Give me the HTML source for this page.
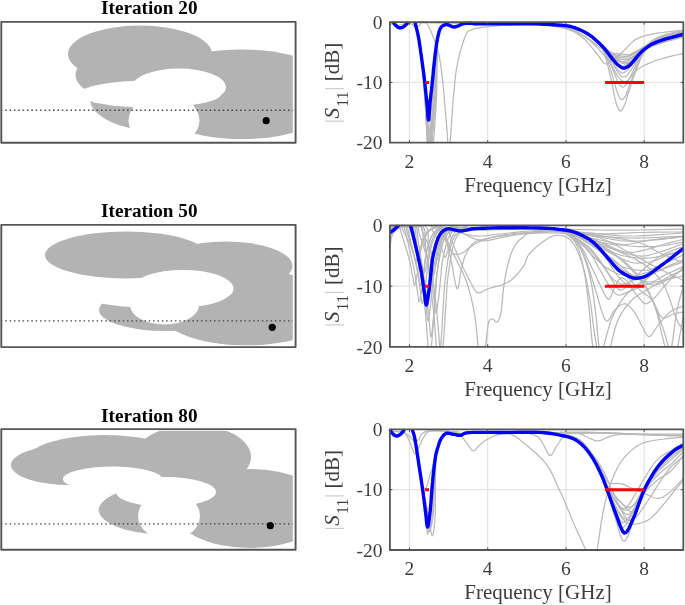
<!DOCTYPE html><html><head><meta charset="utf-8"><style>html,body{margin:0;padding:0;background:#fff;width:685px;height:605px;overflow:hidden}svg{display:block;filter:blur(0.45px)}</style></head><body>
<svg width="685" height="605" viewBox="0 0 685 605" font-family="Liberation Serif, serif">
<defs><clipPath id="lc0"><rect x="2.5" y="23.5" width="290.3" height="117.6"/></clipPath></defs>
<g clip-path="url(#lc0)">
<ellipse cx="140.0" cy="54.0" rx="72.0" ry="28.5" fill="#b3b3b3"/>
<ellipse cx="151.0" cy="75.0" rx="75.5" ry="30.0" fill="#b3b3b3"/>
<ellipse cx="242.0" cy="94.3" rx="100.0" ry="44.8" fill="#b3b3b3"/>
<ellipse cx="160.0" cy="99.0" rx="70.0" ry="32.0" fill="#b3b3b3"/>
<ellipse cx="179.0" cy="87.0" rx="47.0" ry="18.5" fill="#fff"/>
<ellipse cx="150.0" cy="94.0" rx="71.0" ry="13.5" fill="#fff"/>
<ellipse cx="164.0" cy="120.5" rx="35.5" ry="26.4" fill="#fff"/>
<line x1="0.9" y1="110.3" x2="294.6" y2="110.3" stroke="#444" stroke-width="1.4" stroke-dasharray="1.5 2.85"/>
<circle cx="266.2" cy="120.7" r="3.6" fill="#000"/>
</g>
<rect x="1.3" y="21.9" width="294.3" height="120.8" fill="none" stroke="#555" stroke-width="1.9" stroke-linejoin="round"/>
<text x="149.3" y="13.8" text-anchor="middle" font-weight="bold" font-size="19.2" fill="#000">Iteration 20</text>
<defs><clipPath id="lc1"><rect x="2.5" y="226.5" width="290.3" height="119.0"/></clipPath></defs>
<g clip-path="url(#lc1)">
<ellipse cx="126.0" cy="255.0" rx="81.0" ry="23.5" fill="#b3b3b3"/>
<ellipse cx="226.0" cy="266.0" rx="66.5" ry="24.5" fill="#b3b3b3"/>
<ellipse cx="246.0" cy="307.5" rx="90.0" ry="38.0" fill="#b3b3b3"/>
<ellipse cx="165.0" cy="310.0" rx="66.0" ry="21.0" fill="#b3b3b3"/>
<ellipse cx="183.0" cy="288.5" rx="50.5" ry="18.6" fill="#fff"/>
<ellipse cx="150.0" cy="293.0" rx="71.0" ry="14.5" fill="#fff"/>
<ellipse cx="164.5" cy="305.0" rx="34.5" ry="19.6" fill="#fff"/>
<line x1="0.9" y1="320.9" x2="294.6" y2="320.9" stroke="#444" stroke-width="1.4" stroke-dasharray="1.5 2.85"/>
<circle cx="272.2" cy="327.3" r="3.6" fill="#000"/>
</g>
<rect x="1.3" y="224.9" width="294.3" height="122.2" fill="none" stroke="#555" stroke-width="1.9" stroke-linejoin="round"/>
<text x="149.3" y="217.0" text-anchor="middle" font-weight="bold" font-size="19.2" fill="#000">Iteration 50</text>
<defs><clipPath id="lc2"><rect x="2.5" y="430.7" width="290.3" height="117.5"/></clipPath></defs>
<g clip-path="url(#lc2)">
<ellipse cx="70.0" cy="465.0" rx="59.0" ry="20.0" fill="#b3b3b3"/>
<ellipse cx="105.0" cy="460.0" rx="78.0" ry="25.0" fill="#b3b3b3"/>
<ellipse cx="193.0" cy="457.0" rx="58.0" ry="32.0" fill="#b3b3b3"/>
<ellipse cx="250.0" cy="508.5" rx="77.0" ry="39.5" fill="#b3b3b3"/>
<ellipse cx="170.0" cy="510.0" rx="71.3" ry="25.0" fill="#b3b3b3"/>
<ellipse cx="112.5" cy="479.0" rx="49.6" ry="12.4" fill="#fff"/>
<ellipse cx="166.0" cy="492.0" rx="50.0" ry="15.0" fill="#fff"/>
<ellipse cx="169.0" cy="516.0" rx="31.0" ry="24.0" fill="#fff"/>
<line x1="0.9" y1="523.9" x2="294.6" y2="523.9" stroke="#444" stroke-width="1.4" stroke-dasharray="1.5 2.85"/>
<circle cx="270.3" cy="525.7" r="3.6" fill="#000"/>
</g>
<rect x="1.3" y="429.1" width="294.3" height="120.7" fill="none" stroke="#555" stroke-width="1.9" stroke-linejoin="round"/>
<text x="149.3" y="421.5" text-anchor="middle" font-weight="bold" font-size="19.2" fill="#000">Iteration 80</text>
<defs><clipPath id="pc0"><rect x="387.4" y="19.7" width="298.4" height="125.5"/></clipPath></defs>
<path d="M409.46,22.20V142.70 M487.70,22.20V142.70 M565.94,22.20V142.70 M644.18,22.20V142.70 M389.90,82.45H683.30" stroke="#e4e4e4" stroke-width="1.3" fill="none"/>
<g clip-path="url(#pc0)" fill="none" stroke-linejoin="round" stroke-linecap="round">
<path d="M393.3,22.2 393.3,22.2 393.8,23.0 394.4,23.8 395.1,24.6 395.7,25.4 396.4,26.0 397.0,26.6 397.6,27.0 398.2,27.4 398.8,27.6 399.3,27.8 399.9,27.9 400.5,27.9 401.1,27.8 401.7,27.7 402.2,27.5 402.8,27.2 403.4,26.8 404.0,26.4 404.6,25.9 405.3,25.3 405.9,24.7 406.5,24.0 407.1,23.2 407.7,22.2 407.7,22.2 M414.9,22.2 414.9,22.2 415.4,24.2 416.0,26.4 416.6,28.8 417.3,31.4 417.9,34.3 418.5,37.3 419.1,40.6 419.6,44.2 420.2,48.1 420.7,52.0 421.3,56.1 421.8,60.1 422.3,64.2 422.8,68.4 423.3,72.6 423.8,76.9 424.3,81.4 424.7,85.8 425.2,90.6 425.6,95.5 426.0,100.5 426.4,105.5 426.8,110.2 427.1,114.5 427.5,118.8 427.8,123.2 428.1,127.4 428.3,131.0 428.6,133.5 428.9,134.5 429.2,133.8 429.5,131.6 429.7,128.4 430.0,124.5 430.3,120.3 430.7,116.2 431.1,112.0 431.6,107.3 432.1,102.4 432.6,97.3 433.0,92.3 433.5,87.5 433.8,82.9 434.1,78.3 434.4,73.8 434.7,69.3 435.0,65.1 435.3,61.0 435.6,57.0 436.0,53.1 436.3,49.4 436.6,45.9 437.0,42.6 437.4,39.7 437.9,37.1 438.3,34.8 438.8,32.7 439.4,30.9 439.9,29.4 440.6,28.0 441.4,26.9 442.2,26.1 443.2,25.5 444.1,25.1 445.0,24.8 445.8,24.6 446.5,24.5 447.1,24.5 447.7,24.7 448.3,24.9 448.9,25.2 449.5,25.4 450.2,25.7 450.9,26.0 451.6,26.3 452.3,26.6 453.0,26.9 453.7,27.0 454.4,27.0 455.1,26.9 455.8,26.7 456.5,26.5 457.2,26.3 458.0,26.0 458.8,25.7 459.5,25.3 460.3,24.9 461.1,24.5 461.9,24.1 462.9,23.8 463.9,23.6 465.1,23.5 466.3,23.4 467.5,23.3 468.7,23.3 470.0,23.3 471.1,23.3 472.1,23.4 473.1,23.6 474.3,23.7 475.8,23.8 478.0,23.9 480.9,23.9 484.4,23.9 488.2,23.8 492.3,23.8 496.3,23.7 500.0,23.7 503.4,23.7 506.8,23.7 510.1,23.8 513.4,23.8 516.7,23.9 520.0,23.9 523.3,23.9 526.5,23.9 529.7,23.9 533.0,23.9 536.4,23.9 540.0,24.0 544.1,24.2 548.6,24.4 553.2,24.7 557.7,25.0 561.7,25.3 565.1,25.6 567.6,25.9 569.5,26.2 570.9,26.5 572.1,26.9 573.4,27.3 575.0,27.9 576.9,28.6 578.9,29.4 580.9,30.3 582.9,31.2 584.9,32.2 586.7,33.2 588.4,34.3 590.0,35.4 591.6,36.5 593.1,37.7 594.5,38.9 596.0,40.2 597.4,41.5 598.8,42.8 600.2,44.1 601.6,45.5 602.9,46.9 604.3,48.4 605.7,50.1 607.1,51.9 608.5,53.8 609.9,55.6 611.2,57.4 612.4,58.9 613.5,60.2 614.6,61.4 615.6,62.5 616.5,63.5 617.4,64.4 618.3,65.2 619.2,65.9 620.0,66.5 620.8,67.1 621.6,67.5 622.4,67.8 623.2,68.0 624.0,68.1 624.7,68.0 625.4,67.8 626.1,67.5 626.8,67.2 627.5,66.8 628.1,66.5 628.6,66.2 629.0,65.8 629.6,65.3 630.4,64.5 631.5,63.3 633.0,61.6 634.9,59.4 636.9,56.9 639.1,54.3 641.4,51.9 643.7,49.8 645.9,48.1 648.1,46.5 650.3,45.1 652.7,43.8 655.4,42.6 658.5,41.3 662.3,40.0 666.9,38.6 671.8,37.3 676.4,36.1 680.4,35.0 683.2,34.3" stroke="#b9b9b9" stroke-width="1.25"/>
<path d="M393.3,22.2 393.3,22.2 393.8,23.0 394.4,23.8 395.1,24.6 395.7,25.4 396.4,26.0 397.0,26.6 397.6,27.0 398.2,27.4 398.8,27.6 399.3,27.8 399.9,27.9 400.5,27.9 401.1,27.8 401.7,27.7 402.2,27.5 402.8,27.2 403.4,26.8 404.0,26.4 404.6,25.9 405.3,25.3 405.9,24.7 406.5,24.0 407.1,23.2 407.7,22.2 407.7,22.2 M414.9,22.2 414.9,22.2 415.4,24.2 416.0,26.4 416.6,28.8 417.3,31.4 417.9,34.2 418.5,37.3 419.1,40.7 419.6,44.3 420.2,48.1 420.7,52.1 421.3,56.2 421.8,60.5 422.3,64.8 422.8,69.2 423.3,73.8 423.8,78.6 424.3,83.4 424.7,88.4 425.2,93.7 425.6,99.4 426.0,105.2 426.5,110.9 426.9,116.4 427.2,121.4 427.6,126.2 427.9,131.3 428.2,136.1 428.5,140.1 428.8,142.7 M429.6,142.7 429.8,141.1 430.1,137.6 430.4,133.3 430.8,128.7 431.2,124.1 431.7,119.3 432.2,114.0 432.8,108.2 433.3,102.4 433.8,96.6 434.3,91.2 434.6,86.0 434.9,80.9 435.1,75.8 435.3,71.0 435.6,66.3 435.8,61.9 436.1,57.7 436.3,53.6 436.6,49.7 436.8,46.1 437.2,42.8 437.5,39.8 437.9,37.1 438.4,34.8 438.9,32.7 439.4,30.9 440.0,29.4 440.6,28.0 441.4,26.9 442.2,26.1 443.2,25.5 444.1,25.1 445.0,24.8 445.8,24.6 446.5,24.5 447.1,24.5 447.7,24.7 448.3,24.9 448.9,25.2 449.5,25.4 450.2,25.7 450.9,26.0 451.6,26.3 452.3,26.6 453.0,26.9 453.7,27.0 454.4,27.0 455.1,26.9 455.8,26.7 456.5,26.5 457.2,26.3 458.0,26.0 458.8,25.7 459.5,25.3 460.3,24.9 461.1,24.5 461.9,24.1 462.9,23.8 463.9,23.6 465.1,23.5 466.3,23.4 467.5,23.3 468.7,23.3 470.0,23.3 471.1,23.3 472.1,23.4 473.1,23.6 474.3,23.7 475.8,23.8 478.0,23.9 480.9,23.9 484.4,23.9 488.2,23.8 492.3,23.8 496.3,23.7 500.0,23.7 503.4,23.7 506.8,23.7 510.1,23.8 513.4,23.8 516.7,23.9 520.0,23.9 523.3,23.9 526.5,23.9 529.7,23.9 533.0,23.9 536.4,23.9 540.0,24.0 544.1,24.2 548.6,24.4 553.2,24.7 557.7,25.0 561.7,25.3 565.1,25.6 567.6,25.9 569.5,26.2 570.9,26.5 572.1,26.9 573.4,27.3 575.0,27.9 576.9,28.6 578.9,29.4 580.9,30.3 582.9,31.2 584.9,32.2 586.7,33.2 588.4,34.3 590.0,35.4 591.6,36.5 593.1,37.7 594.5,38.9 596.0,40.2 597.4,41.5 598.8,42.8 600.2,44.1 601.6,45.5 602.9,46.9 604.3,48.4 605.7,50.1 607.1,51.9 608.5,53.8 609.9,55.6 611.2,57.4 612.4,58.9 613.5,60.2 614.6,61.4 615.6,62.5 616.5,63.5 617.4,64.4 618.3,65.2 619.2,65.9 620.0,66.5 620.8,67.1 621.6,67.5 622.4,67.8 623.2,68.0 624.0,68.1 624.7,68.0 625.4,67.8 626.1,67.5 626.8,67.2 627.5,66.8 628.1,66.5 628.6,66.2 629.0,65.8 629.6,65.3 630.4,64.5 631.5,63.3 633.0,61.6 634.9,59.4 636.9,56.9 639.1,54.3 641.4,51.9 643.7,49.8 645.9,48.1 648.1,46.5 650.3,45.1 652.7,43.8 655.4,42.6 658.5,41.3 662.3,40.0 666.9,38.6 671.8,37.3 676.4,36.1 680.4,35.0 683.2,34.3" stroke="#b9b9b9" stroke-width="1.25"/>
<path d="M393.3,22.2 393.3,22.2 393.8,23.0 394.4,23.8 395.1,24.6 395.7,25.4 396.4,26.0 397.0,26.6 397.6,27.0 398.2,27.4 398.8,27.6 399.3,27.8 399.9,27.9 400.5,27.9 401.1,27.8 401.7,27.7 402.2,27.5 402.8,27.2 403.4,26.8 404.0,26.4 404.6,25.9 405.3,25.3 405.9,24.7 406.5,24.0 407.1,23.2 407.7,22.2 407.7,22.2 M414.9,22.2 414.9,22.2 415.4,24.2 416.0,26.3 416.6,28.7 417.3,31.4 417.9,34.2 418.5,37.3 419.1,40.7 419.6,44.3 420.2,48.1 420.7,52.2 421.3,56.4 421.8,60.8 422.3,65.4 422.8,70.1 423.3,75.0 423.8,80.2 424.3,85.5 424.7,91.0 425.2,96.9 425.6,103.3 426.1,109.9 426.5,116.4 426.9,122.6 427.3,128.2 427.6,133.7 428.0,139.3 428.2,142.7 M430.6,142.7 430.7,142.2 431.0,137.1 431.5,132.0 432.0,126.7 432.5,120.6 433.1,114.1 433.7,107.4 434.2,100.9 434.6,94.8 435.0,89.1 435.2,83.4 435.4,77.9 435.6,72.6 435.8,67.5 436.0,62.8 436.3,58.3 436.5,54.1 436.7,50.1 437.0,46.4 437.2,42.9 437.6,39.9 438.0,37.2 438.4,34.8 438.9,32.7 439.4,30.9 440.0,29.4 440.6,28.0 441.4,26.9 442.2,26.1 443.2,25.5 444.1,25.1 445.0,24.8 445.8,24.6 446.5,24.5 447.1,24.5 447.7,24.7 448.3,24.9 448.9,25.2 449.5,25.4 450.2,25.7 450.9,26.0 451.6,26.3 452.3,26.6 453.0,26.9 453.7,27.0 454.4,27.0 455.1,26.9 455.8,26.7 456.5,26.5 457.2,26.3 458.0,26.0 458.8,25.7 459.5,25.3 460.3,24.9 461.1,24.5 461.9,24.1 462.9,23.8 463.9,23.6 465.1,23.5 466.3,23.4 467.5,23.3 468.7,23.3 470.0,23.3 471.1,23.3 472.1,23.4 473.1,23.6 474.3,23.7 475.8,23.8 478.0,23.9 480.9,23.9 484.4,23.9 488.2,23.8 492.3,23.8 496.3,23.7 500.0,23.7 503.4,23.7 506.8,23.7 510.1,23.8 513.4,23.8 516.7,23.9 520.0,23.9 523.3,23.9 526.5,23.9 529.7,23.9 533.0,23.9 536.4,23.9 540.0,24.0 544.1,24.2 548.6,24.4 553.2,24.7 557.7,25.0 561.7,25.3 565.1,25.6 567.6,25.9 569.5,26.2 570.9,26.5 572.1,26.9 573.4,27.3 575.0,27.9 576.9,28.6 578.9,29.4 580.9,30.3 582.9,31.2 584.9,32.2 586.7,33.2 588.4,34.3 590.0,35.4 591.6,36.5 593.1,37.7 594.5,38.9 596.0,40.2 597.4,41.5 598.8,42.8 600.2,44.1 601.6,45.5 602.9,46.9 604.3,48.4 605.7,50.1 607.1,51.9 608.5,53.8 609.9,55.6 611.2,57.4 612.4,58.9 613.5,60.2 614.6,61.4 615.6,62.5 616.5,63.5 617.4,64.4 618.3,65.2 619.2,65.9 620.0,66.5 620.8,67.1 621.6,67.5 622.4,67.8 623.2,68.0 624.0,68.1 624.7,68.0 625.4,67.8 626.1,67.5 626.8,67.2 627.5,66.8 628.1,66.5 628.6,66.2 629.0,65.8 629.6,65.3 630.4,64.5 631.5,63.3 633.0,61.6 634.9,59.4 636.9,56.9 639.1,54.3 641.4,51.9 643.7,49.8 645.9,48.1 648.1,46.5 650.3,45.1 652.7,43.8 655.4,42.6 658.5,41.3 662.3,40.0 666.9,38.6 671.8,37.3 676.4,36.1 680.4,35.0 683.2,34.3" stroke="#b9b9b9" stroke-width="1.25"/>
<path d="M393.3,22.2 393.3,22.2 393.8,23.0 394.4,23.8 395.1,24.6 395.7,25.4 396.4,26.0 397.0,26.6 397.6,27.0 398.2,27.4 398.8,27.6 399.3,27.8 399.9,27.9 400.5,27.9 401.1,27.8 401.7,27.7 402.2,27.5 402.8,27.2 403.4,26.8 404.0,26.4 404.6,25.9 405.3,25.3 405.9,24.7 406.5,24.0 407.1,23.2 407.7,22.2 407.7,22.2 M414.9,22.2 414.9,22.2 415.4,24.2 416.0,26.3 416.6,28.7 417.3,31.3 417.9,34.2 418.5,37.3 419.1,40.7 419.6,44.3 420.2,48.2 420.7,52.3 421.3,56.7 421.8,61.4 422.3,66.3 422.8,71.4 423.3,76.9 423.8,82.6 424.3,88.5 424.7,94.8 425.2,101.7 425.7,109.1 426.1,116.8 426.5,124.5 427.0,131.8 427.4,138.4 427.6,142.7 M432.1,142.7 432.5,137.7 433.1,130.6 433.8,122.9 434.4,115.0 435.0,107.4 435.4,100.4 435.7,93.8 436.0,87.3 436.1,81.0 436.2,75.1 436.4,69.4 436.5,64.2 436.7,59.3 436.8,54.8 437.0,50.6 437.2,46.7 437.4,43.2 437.7,40.0 438.0,37.2 438.4,34.8 438.9,32.7 439.4,30.9 440.0,29.4 440.6,28.0 441.4,26.9 442.2,26.1 443.2,25.5 444.1,25.1 445.0,24.8 445.8,24.6 446.5,24.5 447.1,24.5 447.7,24.7 448.3,24.9 448.9,25.2 449.5,25.4 450.2,25.7 450.9,26.0 451.6,26.3 452.3,26.6 453.0,26.9 453.7,27.0 454.4,27.0 455.1,26.9 455.8,26.7 456.5,26.5 457.2,26.3 458.0,26.0 458.8,25.7 459.5,25.3 460.3,24.9 461.1,24.5 461.9,24.1 462.9,23.8 463.9,23.6 465.1,23.5 466.3,23.4 467.5,23.3 468.7,23.3 470.0,23.3 471.1,23.3 472.1,23.4 473.1,23.6 474.3,23.7 475.8,23.8 478.0,23.9 480.9,23.9 484.4,23.9 488.2,23.8 492.3,23.8 496.3,23.7 500.0,23.7 503.4,23.7 506.8,23.7 510.1,23.8 513.4,23.8 516.7,23.9 520.0,23.9 523.3,23.9 526.5,23.9 529.7,23.9 533.0,23.9 536.4,23.9 540.0,24.0 544.1,24.2 548.6,24.4 553.2,24.7 557.7,25.0 561.7,25.3 565.1,25.6 567.6,25.9 569.5,26.2 570.9,26.5 572.1,26.9 573.4,27.3 575.0,27.9 576.9,28.6 578.9,29.4 580.9,30.3 582.9,31.2 584.9,32.2 586.7,33.2 588.4,34.3 590.0,35.4 591.6,36.5 593.1,37.7 594.5,38.9 596.0,40.2 597.4,41.5 598.8,42.8 600.2,44.1 601.6,45.5 602.9,46.9 604.3,48.4 605.7,50.1 607.1,51.9 608.5,53.8 609.9,55.6 611.2,57.4 612.4,58.9 613.5,60.2 614.6,61.4 615.6,62.5 616.5,63.5 617.4,64.4 618.3,65.2 619.2,65.9 620.0,66.5 620.8,67.1 621.6,67.5 622.4,67.8 623.2,68.0 624.0,68.1 624.7,68.0 625.4,67.8 626.1,67.5 626.8,67.2 627.5,66.8 628.1,66.5 628.6,66.2 629.0,65.8 629.6,65.3 630.4,64.5 631.5,63.3 633.0,61.6 634.9,59.4 636.9,56.9 639.1,54.3 641.4,51.9 643.7,49.8 645.9,48.1 648.1,46.5 650.3,45.1 652.7,43.8 655.4,42.6 658.5,41.3 662.3,40.0 666.9,38.6 671.8,37.3 676.4,36.1 680.4,35.0 683.2,34.3" stroke="#b9b9b9" stroke-width="1.25"/>
<path d="M393.3,22.2 393.3,22.2 393.8,23.0 394.4,23.8 395.1,24.6 395.7,25.4 396.4,26.0 397.0,26.6 397.6,27.0 398.2,27.4 398.8,27.6 399.3,27.8 399.9,27.9 400.5,27.9 401.1,27.8 401.7,27.7 402.2,27.5 402.8,27.2 403.4,26.8 404.0,26.4 404.6,25.9 405.3,25.3 405.9,24.7 406.5,24.0 407.1,23.2 407.7,22.2 407.7,22.2 M414.9,22.2 414.9,22.2 415.4,24.2 416.0,26.3 416.6,28.7 417.3,31.3 417.9,34.2 418.5,37.4 419.1,40.8 419.6,44.4 420.2,48.3 420.7,52.4 421.3,56.9 421.8,61.7 422.3,66.9 422.8,72.3 423.3,78.1 423.8,84.2 424.3,90.6 424.7,97.4 425.2,104.8 425.7,113.0 426.1,121.5 426.6,130.0 427.0,138.0 427.3,142.7 M433.3,142.7 433.8,137.2 434.5,128.7 435.1,120.1 435.7,111.7 436.2,104.0 436.5,96.9 436.7,89.9 436.8,83.1 436.9,76.7 436.9,70.6 437.0,65.1 437.1,59.9 437.2,55.2 437.3,50.9 437.4,46.9 437.5,43.3 437.8,40.1 438.1,37.2 438.5,34.8 438.9,32.7 439.4,30.9 440.0,29.4 440.6,28.0 441.4,26.9 442.2,26.1 443.2,25.5 444.1,25.1 445.0,24.8 445.8,24.6 446.5,24.5 447.1,24.5 447.7,24.7 448.3,24.9 448.9,25.2 449.5,25.4 450.2,25.7 450.9,26.0 451.6,26.3 452.3,26.6 453.0,26.9 453.7,27.0 454.4,27.0 455.1,26.9 455.8,26.7 456.5,26.5 457.2,26.3 458.0,26.0 458.8,25.7 459.5,25.3 460.3,24.9 461.1,24.5 461.9,24.1 462.9,23.8 463.9,23.6 465.1,23.5 466.3,23.4 467.5,23.3 468.7,23.3 470.0,23.3 471.1,23.3 472.1,23.4 473.1,23.6 474.3,23.7 475.8,23.8 478.0,23.9 480.9,23.9 484.4,23.9 488.2,23.8 492.3,23.8 496.3,23.7 500.0,23.7 503.4,23.7 506.8,23.7 510.1,23.8 513.4,23.8 516.7,23.9 520.0,23.9 523.3,23.9 526.5,23.9 529.7,23.9 533.0,23.9 536.4,23.9 540.0,24.0 544.1,24.2 548.6,24.4 553.2,24.7 557.7,25.0 561.7,25.3 565.1,25.6 567.6,25.9 569.5,26.2 570.9,26.5 572.1,26.9 573.4,27.3 575.0,27.9 576.9,28.6 578.9,29.4 580.9,30.3 582.9,31.2 584.9,32.2 586.7,33.2 588.4,34.3 590.0,35.4 591.6,36.5 593.1,37.7 594.5,38.9 596.0,40.2 597.4,41.5 598.8,42.8 600.2,44.1 601.6,45.5 602.9,46.9 604.3,48.4 605.7,50.1 607.1,51.9 608.5,53.8 609.9,55.6 611.2,57.4 612.4,58.9 613.5,60.2 614.6,61.4 615.6,62.5 616.5,63.5 617.4,64.4 618.3,65.2 619.2,65.9 620.0,66.5 620.8,67.1 621.6,67.5 622.4,67.8 623.2,68.0 624.0,68.1 624.7,68.0 625.4,67.8 626.1,67.5 626.8,67.2 627.5,66.8 628.1,66.5 628.6,66.2 629.0,65.8 629.6,65.3 630.4,64.5 631.5,63.3 633.0,61.6 634.9,59.4 636.9,56.9 639.1,54.3 641.4,51.9 643.7,49.8 645.9,48.1 648.1,46.5 650.3,45.1 652.7,43.8 655.4,42.6 658.5,41.3 662.3,40.0 666.9,38.6 671.8,37.3 676.4,36.1 680.4,35.0 683.2,34.3" stroke="#b9b9b9" stroke-width="1.25"/>
<path d="M393.3,22.2 393.3,22.2 393.8,23.0 394.4,23.8 395.1,24.6 395.7,25.4 396.4,26.0 397.0,26.6 397.6,27.0 398.2,27.4 398.8,27.6 399.3,27.8 399.9,27.9 400.5,27.9 401.1,27.8 401.7,27.7 402.2,27.5 402.8,27.2 403.4,26.8 404.0,26.4 404.6,25.9 405.3,25.3 405.9,24.7 406.5,24.0 407.1,23.2 407.7,22.2 407.7,22.2 M414.9,22.2 414.9,22.2 415.4,24.2 416.0,26.4 416.6,28.8 417.3,31.4 417.9,34.2 418.5,37.3 419.1,40.7 419.6,44.3 420.2,48.1 420.7,52.2 421.3,56.3 421.8,60.7 422.3,65.1 422.8,69.7 423.3,74.4 423.8,79.4 424.3,84.4 424.7,89.7 425.2,95.3 425.7,101.3 426.1,107.5 426.6,113.7 427.0,119.5 427.4,124.8 427.8,130.0 428.2,135.3 428.6,140.4 428.8,142.7 M430.8,142.7 430.9,142.2 431.3,137.8 431.8,132.9 432.2,128.1 432.8,123.0 433.5,117.3 434.1,111.2 434.8,104.9 435.4,98.8 435.8,93.0 436.1,87.5 436.3,82.2 436.5,76.9 436.5,71.8 436.6,66.9 436.8,62.3 436.9,58.0 437.0,53.8 437.1,49.9 437.3,46.2 437.4,42.9 437.7,39.8 438.1,37.1 438.5,34.8 438.9,32.7 439.4,30.9 440.0,29.4 440.6,28.0 441.4,26.9 442.2,26.1 443.2,25.5 444.1,25.1 445.0,24.8 445.8,24.6 446.5,24.5 447.1,24.5 447.7,24.7 448.3,24.9 448.9,25.2 449.5,25.4 450.2,25.7 450.9,26.0 451.6,26.3 452.3,26.6 453.0,26.9 453.7,27.0 454.4,27.0 455.1,26.9 455.8,26.7 456.5,26.5 457.2,26.3 458.0,26.0 458.8,25.7 459.5,25.3 460.3,24.9 461.1,24.5 461.9,24.1 462.9,23.8 463.9,23.6 465.1,23.5 466.3,23.4 467.5,23.3 468.7,23.3 470.0,23.3 471.1,23.3 472.1,23.4 473.1,23.6 474.3,23.7 475.8,23.8 478.0,23.9 480.9,23.9 484.4,23.9 488.2,23.8 492.3,23.8 496.3,23.7 500.0,23.7 503.4,23.7 506.8,23.7 510.1,23.8 513.4,23.8 516.7,23.9 520.0,23.9 523.3,23.9 526.5,23.9 529.7,23.9 533.0,23.9 536.4,23.9 540.0,24.0 544.1,24.2 548.6,24.4 553.2,24.7 557.7,25.0 561.7,25.3 565.1,25.6 567.6,25.9 569.5,26.2 570.9,26.5 572.1,26.9 573.4,27.3 575.0,27.9 576.9,28.6 578.9,29.4 580.9,30.3 582.9,31.2 584.9,32.2 586.7,33.2 588.4,34.3 590.0,35.4 591.6,36.5 593.1,37.7 594.5,38.9 596.0,40.2 597.4,41.5 598.8,42.8 600.2,44.1 601.6,45.5 602.9,46.9 604.3,48.4 605.7,50.1 607.1,51.9 608.5,53.8 609.9,55.6 611.2,57.4 612.4,58.9 613.5,60.2 614.6,61.4 615.6,62.5 616.5,63.5 617.4,64.4 618.3,65.2 619.2,65.9 620.0,66.5 620.8,67.1 621.6,67.5 622.4,67.8 623.2,68.0 624.0,68.1 624.7,68.0 625.4,67.8 626.1,67.5 626.8,67.2 627.5,66.8 628.1,66.5 628.6,66.2 629.0,65.8 629.6,65.3 630.4,64.5 631.5,63.3 633.0,61.6 634.9,59.4 636.9,56.9 639.1,54.3 641.4,51.9 643.7,49.8 645.9,48.1 648.1,46.5 650.3,45.1 652.7,43.8 655.4,42.6 658.5,41.3 662.3,40.0 666.9,38.6 671.8,37.3 676.4,36.1 680.4,35.0 683.2,34.3" stroke="#b9b9b9" stroke-width="1.25"/>
<path d="M393.3,22.2 393.3,22.2 393.8,23.0 394.4,23.8 395.1,24.6 395.7,25.4 396.4,26.0 397.0,26.6 397.6,27.0 398.2,27.4 398.8,27.6 399.3,27.8 399.9,27.9 400.5,27.9 401.1,27.8 401.7,27.7 402.2,27.5 402.8,27.2 403.4,26.8 404.0,26.4 404.6,25.9 405.3,25.3 405.9,24.7 406.5,24.0 407.1,23.2 407.7,22.2 407.7,22.2 M414.9,22.2 414.9,22.2 415.4,24.2 416.0,26.3 416.6,28.7 417.3,31.4 417.9,34.2 418.5,37.3 419.1,40.7 419.6,44.3 420.2,48.2 420.7,52.3 421.3,56.6 421.8,61.2 422.3,66.0 422.8,71.0 423.3,76.3 423.8,81.8 424.3,87.5 424.7,93.5 425.2,100.1 425.6,107.2 426.0,114.5 426.4,121.8 426.8,128.7 427.2,135.0 427.5,141.1 427.6,142.7 M430.8,142.7 430.9,140.0 431.4,134.0 431.9,127.2 432.4,119.9 432.9,112.5 433.4,105.2 433.9,98.5 434.2,92.2 434.5,86.0 434.8,80.0 435.0,74.2 435.3,68.8 435.6,63.7 435.9,59.0 436.1,54.5 436.4,50.4 436.7,46.6 437.1,43.1 437.5,39.9 437.9,37.2 438.4,34.8 438.8,32.7 439.4,30.9 440.0,29.4 440.6,28.0 441.4,26.9 442.2,26.1 443.2,25.5 444.1,25.1 445.0,24.8 445.8,24.6 446.5,24.5 447.1,24.5 447.7,24.7 448.3,24.9 448.9,25.2 449.5,25.4 450.2,25.7 450.9,26.0 451.6,26.3 452.3,26.6 453.0,26.9 453.7,27.0 454.4,27.0 455.1,26.9 455.8,26.7 456.5,26.5 457.2,26.3 458.0,26.0 458.8,25.7 459.5,25.3 460.3,24.9 461.1,24.5 461.9,24.1 462.9,23.8 463.9,23.6 465.1,23.5 466.3,23.4 467.5,23.3 468.7,23.3 470.0,23.3 471.1,23.3 472.1,23.4 473.1,23.6 474.3,23.7 475.8,23.8 478.0,23.9 480.9,23.9 484.4,23.9 488.2,23.8 492.3,23.8 496.3,23.7 500.0,23.7 503.4,23.7 506.8,23.7 510.1,23.8 513.4,23.8 516.7,23.9 520.0,23.9 523.3,23.9 526.5,23.9 529.7,23.9 533.0,23.9 536.4,23.9 540.0,24.0 544.1,24.2 548.6,24.4 553.2,24.7 557.7,25.0 561.7,25.3 565.1,25.6 567.6,25.9 569.5,26.2 570.9,26.5 572.1,26.9 573.4,27.3 575.0,27.9 576.9,28.6 578.9,29.4 580.9,30.3 582.9,31.2 584.9,32.2 586.7,33.2 588.4,34.3 590.0,35.4 591.6,36.5 593.1,37.7 594.5,38.9 596.0,40.2 597.4,41.5 598.8,42.8 600.2,44.1 601.6,45.5 602.9,46.9 604.3,48.4 605.7,50.1 607.1,51.9 608.5,53.8 609.9,55.6 611.2,57.4 612.4,58.9 613.5,60.2 614.6,61.4 615.6,62.5 616.5,63.5 617.4,64.4 618.3,65.2 619.2,65.9 620.0,66.5 620.8,67.1 621.6,67.5 622.4,67.8 623.2,68.0 624.0,68.1 624.7,68.0 625.4,67.8 626.1,67.5 626.8,67.2 627.5,66.8 628.1,66.5 628.6,66.2 629.0,65.8 629.6,65.3 630.4,64.5 631.5,63.3 633.0,61.6 634.9,59.4 636.9,56.9 639.1,54.3 641.4,51.9 643.7,49.8 645.9,48.1 648.1,46.5 650.3,45.1 652.7,43.8 655.4,42.6 658.5,41.3 662.3,40.0 666.9,38.6 671.8,37.3 676.4,36.1 680.4,35.0 683.2,34.3" stroke="#b9b9b9" stroke-width="1.25"/>
<path d="M393.3,22.2 393.3,22.2 393.8,23.0 394.4,23.8 395.1,24.6 395.7,25.4 396.4,26.0 397.0,26.6 397.6,27.0 398.2,27.4 398.8,27.6 399.3,27.8 399.9,27.9 400.5,27.9 401.1,27.8 401.7,27.7 402.2,27.5 402.8,27.2 403.4,26.8 404.0,26.4 404.6,25.9 405.3,25.3 405.9,24.7 406.5,24.0 407.1,23.2 407.7,22.2 407.7,22.2 M414.9,22.2 414.9,22.2 415.4,24.2 416.0,26.4 416.6,28.8 417.3,31.4 417.9,34.3 418.5,37.3 419.1,40.7 419.6,44.3 420.2,48.1 420.7,52.1 421.3,56.2 421.8,60.3 422.3,64.5 422.8,68.8 423.3,73.2 423.8,77.7 424.3,82.4 424.7,87.1 425.2,92.1 425.6,97.5 426.1,102.9 426.5,108.2 426.9,113.3 427.3,117.9 427.7,122.5 428.1,127.3 428.4,131.8 428.7,135.5 429.1,138.2 429.4,139.3 429.8,138.6 430.1,136.4 430.5,133.0 430.9,128.9 431.3,124.5 431.7,120.2 432.2,115.7 432.8,110.6 433.4,105.3 434.0,99.8 434.6,94.4 435.0,89.3 435.4,84.4 435.6,79.6 435.8,74.8 435.9,70.2 436.1,65.7 436.3,61.4 436.5,57.3 436.7,53.4 436.8,49.6 437.1,46.0 437.3,42.7 437.6,39.8 438.0,37.1 438.4,34.8 438.9,32.7 439.4,30.9 440.0,29.4 440.6,28.0 441.4,26.9 442.2,26.1 443.2,25.5 444.1,25.1 445.0,24.8 445.8,24.6 446.5,24.5 447.1,24.5 447.7,24.7 448.3,24.9 448.9,25.2 449.5,25.4 450.2,25.7 450.9,26.0 451.6,26.3 452.3,26.6 453.0,26.9 453.7,27.0 454.4,27.0 455.1,26.9 455.8,26.7 456.5,26.5 457.2,26.3 458.0,26.0 458.8,25.7 459.5,25.3 460.3,24.9 461.1,24.5 461.9,24.1 462.9,23.8 463.9,23.6 465.1,23.5 466.3,23.4 467.5,23.3 468.7,23.3 470.0,23.3 471.1,23.3 472.1,23.4 473.1,23.6 474.3,23.7 475.8,23.8 478.0,23.9 480.9,23.9 484.4,23.9 488.2,23.8 492.3,23.8 496.3,23.7 500.0,23.7 503.4,23.7 506.8,23.7 510.1,23.8 513.4,23.8 516.7,23.9 520.0,23.9 523.3,23.9 526.5,23.9 529.7,23.9 533.0,23.9 536.4,23.9 540.0,24.0 544.1,24.2 548.6,24.4 553.2,24.7 557.7,25.0 561.7,25.3 565.1,25.6 567.6,25.9 569.5,26.2 570.9,26.5 572.1,26.9 573.4,27.3 575.0,27.9 576.9,28.6 578.9,29.4 580.9,30.3 582.9,31.2 584.9,32.2 586.7,33.2 588.4,34.3 590.0,35.4 591.6,36.5 593.1,37.7 594.5,38.9 596.0,40.2 597.4,41.5 598.8,42.8 600.2,44.1 601.6,45.5 602.9,46.9 604.3,48.4 605.7,50.1 607.1,51.9 608.5,53.8 609.9,55.6 611.2,57.4 612.4,58.9 613.5,60.2 614.6,61.4 615.6,62.5 616.5,63.5 617.4,64.4 618.3,65.2 619.2,65.9 620.0,66.5 620.8,67.1 621.6,67.5 622.4,67.8 623.2,68.0 624.0,68.1 624.7,68.0 625.4,67.8 626.1,67.5 626.8,67.2 627.5,66.8 628.1,66.5 628.6,66.2 629.0,65.8 629.6,65.3 630.4,64.5 631.5,63.3 633.0,61.6 634.9,59.4 636.9,56.9 639.1,54.3 641.4,51.9 643.7,49.8 645.9,48.1 648.1,46.5 650.3,45.1 652.7,43.8 655.4,42.6 658.5,41.3 662.3,40.0 666.9,38.6 671.8,37.3 676.4,36.1 680.4,35.0 683.2,34.3" stroke="#b9b9b9" stroke-width="1.25"/>
<path d="M393.3,22.2 393.3,22.2 393.8,23.0 394.4,23.8 395.1,24.6 395.7,25.4 396.4,26.0 397.0,26.6 397.6,27.0 398.2,27.4 398.8,27.6 399.3,27.8 399.9,27.9 400.5,27.9 401.1,27.8 401.7,27.7 402.2,27.5 402.8,27.2 403.4,26.8 404.0,26.4 404.6,25.9 405.3,25.3 405.9,24.7 406.5,24.0 407.1,23.2 407.7,22.2 407.7,22.2 M414.9,22.2 414.9,22.2 415.4,24.2 416.0,26.4 416.6,28.8 417.3,31.4 417.9,34.3 418.5,37.3 419.1,40.6 419.6,44.2 420.2,48.0 420.7,51.9 421.3,55.8 421.8,59.6 422.3,63.3 422.8,67.1 423.3,70.8 423.8,74.5 424.3,78.3 424.7,82.0 425.1,85.8 425.5,89.7 425.9,93.6 426.3,97.4 426.7,101.0 427.0,104.3 427.3,107.7 427.6,111.2 427.8,114.5 428.0,117.3 428.3,119.3 428.5,120.0 428.7,119.3 428.9,117.3 429.1,114.5 429.4,111.2 429.6,107.7 429.9,104.3 430.2,101.0 430.6,97.4 431.0,93.6 431.5,89.7 431.9,85.8 432.3,82.0 432.7,78.2 433.1,74.5 433.4,70.7 433.8,66.9 434.2,63.2 434.6,59.6 435.0,56.0 435.4,52.4 435.9,48.9 436.3,45.6 436.8,42.4 437.3,39.6 437.8,37.1 438.3,34.8 438.8,32.8 439.3,30.9 439.9,29.4 440.6,28.0 441.4,26.9 442.2,26.1 443.2,25.5 444.1,25.1 445.0,24.8 445.8,24.6 446.5,24.5 447.1,24.5 447.7,24.7 448.3,24.9 448.9,25.2 449.5,25.4 450.2,25.7 450.9,26.0 451.6,26.3 452.3,26.6 453.0,26.9 453.7,27.0 454.4,27.0 455.1,26.9 455.8,26.7 456.5,26.5 457.2,26.3 458.0,26.0 458.8,25.7 459.5,25.3 460.3,24.9 461.1,24.5 461.9,24.1 462.9,23.8 463.9,23.6 465.1,23.5 466.3,23.4 467.5,23.3 468.7,23.3 470.0,23.3 471.1,23.3 472.1,23.4 473.1,23.6 474.3,23.7 475.8,23.8 478.0,23.9 480.9,23.9 484.4,23.9 488.2,23.8 492.3,23.8 496.3,23.7 500.0,23.7 503.4,23.7 506.8,23.7 510.1,23.8 513.4,23.8 516.7,23.9 520.0,23.9 523.3,23.9 526.5,23.9 529.7,23.9 533.0,23.9 536.4,23.9 540.0,24.0 544.1,24.2 548.6,24.4 553.2,24.7 557.7,25.0 561.7,25.3 565.1,25.6 567.6,25.9 569.5,26.2 570.9,26.5 572.1,26.9 573.4,27.3 575.0,27.9 576.9,28.6 578.9,29.4 580.9,30.3 582.9,31.2 584.9,32.2 586.7,33.2 588.4,34.3 590.0,35.4 591.6,36.5 593.1,37.7 594.5,38.9 596.0,40.1 597.4,41.3 598.8,42.5 600.2,43.7 601.6,44.9 602.9,46.1 604.3,47.2 605.7,48.3 607.1,49.4 608.5,50.4 609.9,51.4 611.2,52.3 612.4,52.9 613.5,53.3 614.6,53.6 615.6,53.7 616.5,53.7 617.4,53.7 618.3,53.8 619.2,53.9 620.0,54.0 620.8,54.0 621.6,54.1 622.4,54.2 623.2,54.2 624.0,54.3 624.7,54.4 625.4,54.5 626.1,54.5 626.8,54.6 627.5,54.6 628.1,54.7 628.6,54.9 629.0,55.1 629.6,55.1 630.4,55.0 631.5,54.5 633.0,53.8 634.9,52.8 636.9,51.6 639.1,50.2 641.4,48.8 643.7,47.3 645.9,45.7 648.1,44.0 650.3,42.1 652.7,40.3 655.4,38.5 658.5,37.0 662.3,35.6 666.9,34.2 671.8,32.9 676.4,31.8 680.4,30.9 683.2,30.2" stroke="#b9b9b9" stroke-width="1.25"/>
<path d="M393.3,22.2 393.3,22.2 393.8,23.0 394.4,23.8 395.1,24.6 395.7,25.4 396.4,26.0 397.0,26.6 397.6,27.0 398.2,27.4 398.8,27.6 399.3,27.8 399.9,27.9 400.5,27.9 401.1,27.8 401.7,27.7 402.2,27.5 402.8,27.2 403.4,26.8 404.0,26.4 404.6,25.9 405.3,25.3 405.9,24.7 406.5,24.0 407.1,23.2 407.7,22.2 407.7,22.2 M414.9,22.2 414.9,22.2 415.4,24.2 416.0,26.4 416.6,28.8 417.3,31.4 417.9,34.3 418.5,37.3 419.1,40.6 419.6,44.2 420.2,48.0 420.7,51.9 421.3,55.8 421.8,59.6 422.3,63.3 422.8,67.1 423.3,70.8 423.8,74.5 424.3,78.3 424.7,82.0 425.1,85.8 425.5,89.7 425.9,93.6 426.3,97.4 426.7,101.0 427.0,104.3 427.3,107.7 427.6,111.2 427.8,114.5 428.0,117.3 428.3,119.3 428.5,120.0 428.7,119.3 428.9,117.3 429.1,114.5 429.4,111.2 429.6,107.7 429.9,104.3 430.2,101.0 430.6,97.4 431.0,93.6 431.5,89.7 431.9,85.8 432.3,82.0 432.7,78.2 433.1,74.5 433.4,70.7 433.8,66.9 434.2,63.2 434.6,59.6 435.0,56.0 435.4,52.4 435.9,48.9 436.3,45.6 436.8,42.4 437.3,39.6 437.8,37.1 438.3,34.8 438.8,32.8 439.3,30.9 439.9,29.4 440.6,28.0 441.4,26.9 442.2,26.1 443.2,25.5 444.1,25.1 445.0,24.8 445.8,24.6 446.5,24.5 447.1,24.5 447.7,24.7 448.3,24.9 448.9,25.2 449.5,25.4 450.2,25.7 450.9,26.0 451.6,26.3 452.3,26.6 453.0,26.9 453.7,27.0 454.4,27.0 455.1,26.9 455.8,26.7 456.5,26.5 457.2,26.3 458.0,26.0 458.8,25.7 459.5,25.3 460.3,24.9 461.1,24.5 461.9,24.1 462.9,23.8 463.9,23.6 465.1,23.5 466.3,23.4 467.5,23.3 468.7,23.3 470.0,23.3 471.1,23.3 472.1,23.4 473.1,23.6 474.3,23.7 475.8,23.8 478.0,23.9 480.9,23.9 484.4,23.9 488.2,23.8 492.3,23.8 496.3,23.7 500.0,23.7 503.4,23.7 506.8,23.7 510.1,23.8 513.4,23.8 516.7,23.9 520.0,23.9 523.3,23.9 526.5,23.9 529.7,23.9 533.0,23.9 536.4,23.9 540.0,24.0 544.1,24.2 548.6,24.4 553.2,24.7 557.7,25.0 561.7,25.3 565.1,25.6 567.6,25.9 569.5,26.2 570.9,26.5 572.1,26.9 573.4,27.3 575.0,27.9 576.9,28.6 578.9,29.4 580.9,30.3 582.9,31.2 584.9,32.2 586.7,33.2 588.4,34.3 590.0,35.4 591.6,36.5 593.1,37.7 594.5,38.9 596.0,40.1 597.4,41.3 598.8,42.5 600.2,43.8 601.5,45.0 602.9,46.2 604.2,47.4 605.5,48.5 606.9,49.7 608.2,50.9 609.6,52.0 610.8,52.9 612.0,53.7 613.0,54.2 614.0,54.6 615.0,54.8 615.9,55.0 616.7,55.1 617.6,55.3 618.5,55.5 619.3,55.6 620.1,55.7 620.9,55.9 621.7,56.0 622.4,56.0 623.2,56.1 623.9,56.2 624.6,56.2 625.4,56.2 626.1,56.2 626.8,56.2 627.4,56.3 627.9,56.4 628.4,56.5 629.0,56.4 629.8,56.2 631.0,55.7 632.6,54.8 634.5,53.7 636.6,52.3 638.9,50.8 641.3,49.3 643.6,47.8 645.9,46.2 648.1,44.5 650.3,42.8 652.7,41.0 655.4,39.4 658.5,37.9 662.3,36.5 666.9,35.1 671.8,33.9 676.4,32.7 680.4,31.8 683.2,31.0" stroke="#b9b9b9" stroke-width="1.25"/>
<path d="M393.3,22.2 393.3,22.2 393.8,23.0 394.4,23.8 395.1,24.6 395.7,25.4 396.4,26.0 397.0,26.6 397.6,27.0 398.2,27.4 398.8,27.6 399.3,27.8 399.9,27.9 400.5,27.9 401.1,27.8 401.7,27.7 402.2,27.5 402.8,27.2 403.4,26.8 404.0,26.4 404.6,25.9 405.3,25.3 405.9,24.7 406.5,24.0 407.1,23.2 407.7,22.2 407.7,22.2 M414.9,22.2 414.9,22.2 415.4,24.2 416.0,26.4 416.6,28.8 417.3,31.4 417.9,34.3 418.5,37.3 419.1,40.6 419.6,44.2 420.2,48.0 420.7,51.9 421.3,55.8 421.8,59.6 422.3,63.3 422.8,67.1 423.3,70.8 423.8,74.5 424.3,78.3 424.7,82.0 425.1,85.8 425.5,89.7 425.9,93.6 426.3,97.4 426.7,101.0 427.0,104.3 427.3,107.7 427.6,111.2 427.8,114.5 428.0,117.3 428.3,119.3 428.5,120.0 428.7,119.3 428.9,117.3 429.1,114.5 429.4,111.2 429.6,107.7 429.9,104.3 430.2,101.0 430.6,97.4 431.0,93.6 431.5,89.7 431.9,85.8 432.3,82.0 432.7,78.2 433.1,74.5 433.4,70.7 433.8,66.9 434.2,63.2 434.6,59.6 435.0,56.0 435.4,52.4 435.9,48.9 436.3,45.6 436.8,42.4 437.3,39.6 437.8,37.1 438.3,34.8 438.8,32.8 439.3,30.9 439.9,29.4 440.6,28.0 441.4,26.9 442.2,26.1 443.2,25.5 444.1,25.1 445.0,24.8 445.8,24.6 446.5,24.5 447.1,24.5 447.7,24.7 448.3,24.9 448.9,25.2 449.5,25.4 450.2,25.7 450.9,26.0 451.6,26.3 452.3,26.6 453.0,26.9 453.7,27.0 454.4,27.0 455.1,26.9 455.8,26.7 456.5,26.5 457.2,26.3 458.0,26.0 458.8,25.7 459.5,25.3 460.3,24.9 461.1,24.5 461.9,24.1 462.9,23.8 463.9,23.6 465.1,23.5 466.3,23.4 467.5,23.3 468.7,23.3 470.0,23.3 471.1,23.3 472.1,23.4 473.1,23.6 474.3,23.7 475.8,23.8 478.0,23.9 480.9,23.9 484.4,23.9 488.2,23.8 492.3,23.8 496.3,23.7 500.0,23.7 503.4,23.7 506.8,23.7 510.1,23.8 513.4,23.8 516.7,23.9 520.0,23.9 523.3,23.9 526.5,23.9 529.7,23.9 533.0,23.9 536.4,23.9 540.0,24.0 544.1,24.2 548.6,24.4 553.2,24.7 557.7,25.0 561.7,25.3 565.1,25.6 567.6,25.9 569.5,26.2 570.9,26.5 572.1,26.9 573.4,27.3 575.0,27.9 576.9,28.6 578.9,29.4 580.9,30.3 582.9,31.2 584.9,32.2 586.7,33.2 588.4,34.3 590.0,35.4 591.6,36.5 593.1,37.7 594.5,38.9 596.0,40.1 597.5,41.3 598.9,42.6 600.3,43.8 601.7,45.1 603.0,46.3 604.4,47.5 605.8,48.8 607.3,50.0 608.8,51.3 610.2,52.5 611.6,53.6 612.8,54.5 614.0,55.1 615.1,55.6 616.1,56.0 617.1,56.3 618.1,56.5 619.0,56.8 619.9,57.0 620.8,57.3 621.6,57.4 622.4,57.6 623.2,57.7 624.0,57.8 624.7,57.9 625.5,58.0 626.2,58.0 626.9,57.9 627.5,57.9 628.2,57.8 628.8,57.8 629.2,57.9 629.6,57.9 630.2,57.8 630.9,57.5 632.0,56.9 633.5,55.9 635.3,54.6 637.2,53.1 639.4,51.5 641.6,49.9 643.8,48.3 645.9,46.8 648.1,45.2 650.3,43.6 652.7,42.0 655.4,40.4 658.5,39.0 662.3,37.7 666.9,36.3 671.8,35.0 676.4,33.8 680.4,32.9 683.2,32.1" stroke="#b9b9b9" stroke-width="1.25"/>
<path d="M393.3,22.2 393.3,22.2 393.8,23.0 394.4,23.8 395.1,24.6 395.7,25.4 396.4,26.0 397.0,26.6 397.6,27.0 398.2,27.4 398.8,27.6 399.3,27.8 399.9,27.9 400.5,27.9 401.1,27.8 401.7,27.7 402.2,27.5 402.8,27.2 403.4,26.8 404.0,26.4 404.6,25.9 405.3,25.3 405.9,24.7 406.5,24.0 407.1,23.2 407.7,22.2 407.7,22.2 M414.9,22.2 414.9,22.2 415.4,24.2 416.0,26.4 416.6,28.8 417.3,31.4 417.9,34.3 418.5,37.3 419.1,40.6 419.6,44.2 420.2,48.0 420.7,51.9 421.3,55.8 421.8,59.6 422.3,63.3 422.8,67.1 423.3,70.8 423.8,74.5 424.3,78.3 424.7,82.0 425.1,85.8 425.5,89.7 425.9,93.6 426.3,97.4 426.7,101.0 427.0,104.3 427.3,107.7 427.6,111.2 427.8,114.5 428.0,117.3 428.3,119.3 428.5,120.0 428.7,119.3 428.9,117.3 429.1,114.5 429.4,111.2 429.6,107.7 429.9,104.3 430.2,101.0 430.6,97.4 431.0,93.6 431.5,89.7 431.9,85.8 432.3,82.0 432.7,78.2 433.1,74.5 433.4,70.7 433.8,66.9 434.2,63.2 434.6,59.6 435.0,56.0 435.4,52.4 435.9,48.9 436.3,45.6 436.8,42.4 437.3,39.6 437.8,37.1 438.3,34.8 438.8,32.8 439.3,30.9 439.9,29.4 440.6,28.0 441.4,26.9 442.2,26.1 443.2,25.5 444.1,25.1 445.0,24.8 445.8,24.6 446.5,24.5 447.1,24.5 447.7,24.7 448.3,24.9 448.9,25.2 449.5,25.4 450.2,25.7 450.9,26.0 451.6,26.3 452.3,26.6 453.0,26.9 453.7,27.0 454.4,27.0 455.1,26.9 455.8,26.7 456.5,26.5 457.2,26.3 458.0,26.0 458.8,25.7 459.5,25.3 460.3,24.9 461.1,24.5 461.9,24.1 462.9,23.8 463.9,23.6 465.1,23.5 466.3,23.4 467.5,23.3 468.7,23.3 470.0,23.3 471.1,23.3 472.1,23.4 473.1,23.6 474.3,23.7 475.8,23.8 478.0,23.9 480.9,23.9 484.4,23.9 488.2,23.8 492.3,23.8 496.3,23.7 500.0,23.7 503.4,23.7 506.8,23.7 510.1,23.8 513.4,23.8 516.7,23.9 520.0,23.9 523.3,23.9 526.5,23.9 529.7,23.9 533.0,23.9 536.4,23.9 540.0,24.0 544.1,24.2 548.6,24.4 553.2,24.7 557.7,25.0 561.7,25.3 565.1,25.6 567.6,25.9 569.5,26.2 570.9,26.5 572.1,26.9 573.4,27.3 575.0,27.9 576.9,28.6 578.9,29.4 580.9,30.3 582.9,31.2 584.9,32.2 586.7,33.2 588.4,34.3 590.0,35.4 591.6,36.5 593.1,37.7 594.5,38.9 596.0,40.1 597.4,41.4 598.8,42.6 600.2,43.9 601.6,45.1 602.9,46.4 604.3,47.7 605.7,49.0 607.1,50.4 608.5,51.7 609.9,53.1 611.2,54.3 612.4,55.3 613.5,56.0 614.6,56.7 615.6,57.1 616.5,57.5 617.4,57.9 618.3,58.3 619.2,58.6 620.0,58.9 620.8,59.2 621.6,59.4 622.4,59.5 623.2,59.6 624.0,59.7 624.7,59.7 625.4,59.7 626.1,59.7 626.8,59.6 627.5,59.4 628.1,59.4 628.6,59.4 629.0,59.3 629.6,59.2 630.4,58.8 631.5,58.1 633.0,57.0 634.9,55.6 636.9,53.9 639.1,52.2 641.4,50.4 643.7,48.9 645.9,47.4 648.1,45.8 650.3,44.4 652.7,42.9 655.4,41.5 658.5,40.2 662.3,38.8 666.9,37.5 671.8,36.1 676.4,35.0 680.4,34.0 683.2,33.2" stroke="#b9b9b9" stroke-width="1.25"/>
<path d="M393.3,22.2 393.3,22.2 393.8,23.0 394.4,23.8 395.1,24.6 395.7,25.4 396.4,26.0 397.0,26.6 397.6,27.0 398.2,27.4 398.8,27.6 399.3,27.8 399.9,27.9 400.5,27.9 401.1,27.8 401.7,27.7 402.2,27.5 402.8,27.2 403.4,26.8 404.0,26.4 404.6,25.9 405.3,25.3 405.9,24.7 406.5,24.0 407.1,23.2 407.7,22.2 407.7,22.2 M414.9,22.2 414.9,22.2 415.4,24.2 416.0,26.4 416.6,28.8 417.3,31.4 417.9,34.3 418.5,37.3 419.1,40.6 419.6,44.2 420.2,48.0 420.7,51.9 421.3,55.8 421.8,59.6 422.3,63.3 422.8,67.1 423.3,70.8 423.8,74.5 424.3,78.3 424.7,82.0 425.1,85.8 425.5,89.7 425.9,93.6 426.3,97.4 426.7,101.0 427.0,104.3 427.3,107.7 427.6,111.2 427.8,114.5 428.0,117.3 428.3,119.3 428.5,120.0 428.7,119.3 428.9,117.3 429.1,114.5 429.4,111.2 429.6,107.7 429.9,104.3 430.2,101.0 430.6,97.4 431.0,93.6 431.5,89.7 431.9,85.8 432.3,82.0 432.7,78.2 433.1,74.5 433.4,70.7 433.8,66.9 434.2,63.2 434.6,59.6 435.0,56.0 435.4,52.4 435.9,48.9 436.3,45.6 436.8,42.4 437.3,39.6 437.8,37.1 438.3,34.8 438.8,32.8 439.3,30.9 439.9,29.4 440.6,28.0 441.4,26.9 442.2,26.1 443.2,25.5 444.1,25.1 445.0,24.8 445.8,24.6 446.5,24.5 447.1,24.5 447.7,24.7 448.3,24.9 448.9,25.2 449.5,25.4 450.2,25.7 450.9,26.0 451.6,26.3 452.3,26.6 453.0,26.9 453.7,27.0 454.4,27.0 455.1,26.9 455.8,26.7 456.5,26.5 457.2,26.3 458.0,26.0 458.8,25.7 459.5,25.3 460.3,24.9 461.1,24.5 461.9,24.1 462.9,23.8 463.9,23.6 465.1,23.5 466.3,23.4 467.5,23.3 468.7,23.3 470.0,23.3 471.1,23.3 472.1,23.4 473.1,23.6 474.3,23.7 475.8,23.8 478.0,23.9 480.9,23.9 484.4,23.9 488.2,23.8 492.3,23.8 496.3,23.7 500.0,23.7 503.4,23.7 506.8,23.7 510.1,23.8 513.4,23.8 516.7,23.9 520.0,23.9 523.3,23.9 526.5,23.9 529.7,23.9 533.0,23.9 536.4,23.9 540.0,24.0 544.1,24.2 548.6,24.4 553.2,24.7 557.7,25.0 561.7,25.3 565.1,25.6 567.6,25.9 569.5,26.2 570.9,26.5 572.1,26.9 573.4,27.3 575.0,27.9 576.9,28.6 578.9,29.4 580.9,30.3 582.9,31.2 584.9,32.2 586.7,33.2 588.4,34.3 590.0,35.4 591.6,36.5 593.1,37.7 594.5,38.9 596.0,40.1 597.4,41.4 598.8,42.6 600.2,43.9 601.5,45.2 602.8,46.5 604.1,47.8 605.4,49.2 606.8,50.7 608.1,52.2 609.4,53.6 610.6,54.9 611.8,56.0 612.8,56.9 613.8,57.7 614.7,58.3 615.6,58.8 616.4,59.3 617.3,59.8 618.1,60.2 618.9,60.5 619.7,60.9 620.5,61.1 621.3,61.3 622.0,61.5 622.8,61.5 623.5,61.5 624.3,61.5 625.0,61.4 625.7,61.2 626.4,61.1 627.1,60.9 627.6,60.9 628.0,60.8 628.6,60.5 629.5,60.1 630.7,59.3 632.3,58.1 634.3,56.5 636.5,54.7 638.8,52.9 641.2,51.0 643.6,49.4 645.8,47.9 648.0,46.5 650.3,45.2 652.7,43.8 655.4,42.6 658.5,41.3 662.3,40.0 666.9,38.6 671.8,37.3 676.4,36.1 680.4,35.0 683.2,34.3" stroke="#b9b9b9" stroke-width="1.25"/>
<path d="M393.3,22.2 393.3,22.2 393.8,23.0 394.4,23.8 395.1,24.6 395.7,25.4 396.4,26.0 397.0,26.6 397.6,27.0 398.2,27.4 398.8,27.6 399.3,27.8 399.9,27.9 400.5,27.9 401.1,27.8 401.7,27.7 402.2,27.5 402.8,27.2 403.4,26.8 404.0,26.4 404.6,25.9 405.3,25.3 405.9,24.7 406.5,24.0 407.1,23.2 407.7,22.2 407.7,22.2 M414.9,22.2 414.9,22.2 415.4,24.2 416.0,26.4 416.6,28.8 417.3,31.4 417.9,34.3 418.5,37.3 419.1,40.6 419.6,44.2 420.2,48.0 420.7,51.9 421.3,55.8 421.8,59.6 422.3,63.3 422.8,67.1 423.3,70.8 423.8,74.5 424.3,78.3 424.7,82.0 425.1,85.8 425.5,89.7 425.9,93.6 426.3,97.4 426.7,101.0 427.0,104.3 427.3,107.7 427.6,111.2 427.8,114.5 428.0,117.3 428.3,119.3 428.5,120.0 428.7,119.3 428.9,117.3 429.1,114.5 429.4,111.2 429.6,107.7 429.9,104.3 430.2,101.0 430.6,97.4 431.0,93.6 431.5,89.7 431.9,85.8 432.3,82.0 432.7,78.2 433.1,74.5 433.4,70.7 433.8,66.9 434.2,63.2 434.6,59.6 435.0,56.0 435.4,52.4 435.9,48.9 436.3,45.6 436.8,42.4 437.3,39.6 437.8,37.1 438.3,34.8 438.8,32.8 439.3,30.9 439.9,29.4 440.6,28.0 441.4,26.9 442.2,26.1 443.2,25.5 444.1,25.1 445.0,24.8 445.8,24.6 446.5,24.5 447.1,24.5 447.7,24.7 448.3,24.9 448.9,25.2 449.5,25.4 450.2,25.7 450.9,26.0 451.6,26.3 452.3,26.6 453.0,26.9 453.7,27.0 454.4,27.0 455.1,26.9 455.8,26.7 456.5,26.5 457.2,26.3 458.0,26.0 458.8,25.7 459.5,25.3 460.3,24.9 461.1,24.5 461.9,24.1 462.9,23.8 463.9,23.6 465.1,23.5 466.3,23.4 467.5,23.3 468.7,23.3 470.0,23.3 471.1,23.3 472.1,23.4 473.1,23.6 474.3,23.7 475.8,23.8 478.0,23.9 480.9,23.9 484.4,23.9 488.2,23.8 492.3,23.8 496.3,23.7 500.0,23.7 503.4,23.7 506.8,23.7 510.1,23.8 513.4,23.8 516.7,23.9 520.0,23.9 523.3,23.9 526.5,23.9 529.7,23.9 533.0,23.9 536.4,23.9 540.0,24.0 544.1,24.2 548.6,24.4 553.2,24.7 557.7,25.0 561.7,25.3 565.1,25.6 567.6,25.9 569.5,26.2 570.9,26.5 572.1,26.9 573.4,27.3 575.0,27.9 576.9,28.6 578.9,29.4 580.9,30.3 582.9,31.2 584.9,32.2 586.7,33.2 588.4,34.3 590.0,35.4 591.6,36.5 593.1,37.7 594.5,38.9 596.0,40.2 597.5,41.4 598.9,42.7 600.3,44.0 601.7,45.3 603.1,46.6 604.5,48.0 605.9,49.5 607.4,51.1 608.9,52.8 610.4,54.3 611.7,55.8 613.0,57.1 614.2,58.1 615.4,59.1 616.4,59.8 617.4,60.5 618.4,61.2 619.3,61.7 620.3,62.3 621.1,62.7 622.0,63.1 622.8,63.5 623.6,63.7 624.4,63.9 625.1,63.9 625.8,63.9 626.5,63.8 627.2,63.7 627.9,63.5 628.6,63.2 629.1,63.0 629.5,62.9 630.0,62.7 630.5,62.3 631.2,61.8 632.3,60.9 633.7,59.5 635.4,57.7 637.4,55.7 639.5,53.7 641.6,51.7 643.8,50.0 646.0,48.5 648.1,47.2 650.3,46.0 652.7,44.8 655.4,43.6 658.5,42.4 662.3,41.1 666.9,39.8 671.8,38.4 676.4,37.2 680.4,36.1 683.2,35.4" stroke="#b9b9b9" stroke-width="1.25"/>
<path d="M393.3,22.2 393.3,22.2 393.8,23.0 394.4,23.8 395.1,24.6 395.7,25.4 396.4,26.0 397.0,26.6 397.6,27.0 398.2,27.4 398.8,27.6 399.3,27.8 399.9,27.9 400.5,27.9 401.1,27.8 401.7,27.7 402.2,27.5 402.8,27.2 403.4,26.8 404.0,26.4 404.6,25.9 405.3,25.3 405.9,24.7 406.5,24.0 407.1,23.2 407.7,22.2 407.7,22.2 M414.9,22.2 414.9,22.2 415.4,24.2 416.0,26.4 416.6,28.8 417.3,31.4 417.9,34.3 418.5,37.3 419.1,40.6 419.6,44.2 420.2,48.0 420.7,51.9 421.3,55.8 421.8,59.6 422.3,63.3 422.8,67.1 423.3,70.8 423.8,74.5 424.3,78.3 424.7,82.0 425.1,85.8 425.5,89.7 425.9,93.6 426.3,97.4 426.7,101.0 427.0,104.3 427.3,107.7 427.6,111.2 427.8,114.5 428.0,117.3 428.3,119.3 428.5,120.0 428.7,119.3 428.9,117.3 429.1,114.5 429.4,111.2 429.6,107.7 429.9,104.3 430.2,101.0 430.6,97.4 431.0,93.6 431.5,89.7 431.9,85.8 432.3,82.0 432.7,78.2 433.1,74.5 433.4,70.7 433.8,66.9 434.2,63.2 434.6,59.6 435.0,56.0 435.4,52.4 435.9,48.9 436.3,45.6 436.8,42.4 437.3,39.6 437.8,37.1 438.3,34.8 438.8,32.8 439.3,30.9 439.9,29.4 440.6,28.0 441.4,26.9 442.2,26.1 443.2,25.5 444.1,25.1 445.0,24.8 445.8,24.6 446.5,24.5 447.1,24.5 447.7,24.7 448.3,24.9 448.9,25.2 449.5,25.4 450.2,25.7 450.9,26.0 451.6,26.3 452.3,26.6 453.0,26.9 453.7,27.0 454.4,27.0 455.1,26.9 455.8,26.7 456.5,26.5 457.2,26.3 458.0,26.0 458.8,25.7 459.5,25.3 460.3,24.9 461.1,24.5 461.9,24.1 462.9,23.8 463.9,23.6 465.1,23.5 466.3,23.4 467.5,23.3 468.7,23.3 470.0,23.3 471.1,23.3 472.1,23.4 473.1,23.6 474.3,23.7 475.8,23.8 478.0,23.9 480.9,23.9 484.4,23.9 488.2,23.8 492.3,23.8 496.3,23.7 500.0,23.7 503.4,23.7 506.8,23.7 510.1,23.8 513.4,23.8 516.7,23.9 520.0,23.9 523.3,23.9 526.5,23.9 529.7,23.9 533.0,23.9 536.4,23.9 540.0,24.0 544.1,24.2 548.6,24.4 553.2,24.7 557.7,25.0 561.7,25.3 565.1,25.6 567.6,25.9 569.5,26.2 570.9,26.5 572.1,26.9 573.4,27.3 575.0,27.9 576.9,28.6 578.9,29.4 580.9,30.3 582.9,31.2 584.9,32.2 586.7,33.2 588.4,34.3 590.0,35.4 591.6,36.5 593.1,37.7 594.5,39.0 596.0,40.2 597.4,41.5 598.8,42.9 600.2,44.2 601.5,45.6 602.8,47.2 604.1,48.8 605.4,50.7 606.8,52.8 608.1,54.9 609.4,57.1 610.6,59.1 611.8,61.0 612.8,62.6 613.8,64.2 614.7,65.6 615.6,66.9 616.4,68.1 617.3,69.2 618.1,70.1 618.9,70.9 619.7,71.6 620.5,72.2 621.3,72.6 622.0,72.8 622.8,72.9 623.5,72.8 624.3,72.5 625.0,72.1 625.7,71.6 626.4,71.1 627.1,70.6 627.6,70.2 628.0,69.7 628.6,68.9 629.5,67.9 630.7,66.5 632.3,64.4 634.3,61.8 636.5,58.9 638.8,56.0 641.2,53.2 643.6,51.0 645.8,49.3 648.0,47.9 650.3,46.8 652.7,45.7 655.4,44.7 658.5,43.6 662.3,42.3 666.9,40.9 671.8,39.6 676.4,38.3 680.4,37.2 683.2,36.5" stroke="#b9b9b9" stroke-width="1.25"/>
<path d="M393.3,22.2 393.3,22.2 393.8,23.0 394.4,23.8 395.1,24.6 395.7,25.4 396.4,26.0 397.0,26.6 397.6,27.0 398.2,27.4 398.8,27.6 399.3,27.8 399.9,27.9 400.5,27.9 401.1,27.8 401.7,27.7 402.2,27.5 402.8,27.2 403.4,26.8 404.0,26.4 404.6,25.9 405.3,25.3 405.9,24.7 406.5,24.0 407.1,23.2 407.7,22.2 407.7,22.2 M414.9,22.2 414.9,22.2 415.4,24.2 416.0,26.4 416.6,28.8 417.3,31.4 417.9,34.3 418.5,37.3 419.1,40.6 419.6,44.2 420.2,48.0 420.7,51.9 421.3,55.8 421.8,59.6 422.3,63.3 422.8,67.1 423.3,70.8 423.8,74.5 424.3,78.3 424.7,82.0 425.1,85.8 425.5,89.7 425.9,93.6 426.3,97.4 426.7,101.0 427.0,104.3 427.3,107.7 427.6,111.2 427.8,114.5 428.0,117.3 428.3,119.3 428.5,120.0 428.7,119.3 428.9,117.3 429.1,114.5 429.4,111.2 429.6,107.7 429.9,104.3 430.2,101.0 430.6,97.4 431.0,93.6 431.5,89.7 431.9,85.8 432.3,82.0 432.7,78.2 433.1,74.5 433.4,70.7 433.8,66.9 434.2,63.2 434.6,59.6 435.0,56.0 435.4,52.4 435.9,48.9 436.3,45.6 436.8,42.4 437.3,39.6 437.8,37.1 438.3,34.8 438.8,32.8 439.3,30.9 439.9,29.4 440.6,28.0 441.4,26.9 442.2,26.1 443.2,25.5 444.1,25.1 445.0,24.8 445.8,24.6 446.5,24.5 447.1,24.5 447.7,24.7 448.3,24.9 448.9,25.2 449.5,25.4 450.2,25.7 450.9,26.0 451.6,26.3 452.3,26.6 453.0,26.9 453.7,27.0 454.4,27.0 455.1,26.9 455.8,26.7 456.5,26.5 457.2,26.3 458.0,26.0 458.8,25.7 459.5,25.3 460.3,24.9 461.1,24.5 461.9,24.1 462.9,23.8 463.9,23.6 465.1,23.5 466.3,23.4 467.5,23.3 468.7,23.3 470.0,23.3 471.1,23.3 472.1,23.4 473.1,23.6 474.3,23.7 475.8,23.8 478.0,23.9 480.9,23.9 484.4,23.9 488.2,23.8 492.3,23.8 496.3,23.7 500.0,23.7 503.4,23.7 506.8,23.7 510.1,23.8 513.4,23.8 516.7,23.9 520.0,23.9 523.3,23.9 526.5,23.9 529.7,23.9 533.0,23.9 536.4,23.9 540.0,24.0 544.1,24.2 548.6,24.4 553.2,24.7 557.7,25.0 561.7,25.3 565.1,25.6 567.6,25.9 569.5,26.2 570.9,26.5 572.1,26.9 573.4,27.3 575.0,27.9 576.9,28.6 578.9,29.4 580.9,30.3 582.9,31.2 584.9,32.2 586.7,33.2 588.4,34.3 590.0,35.4 591.6,36.5 593.1,37.7 594.5,39.0 596.0,40.3 597.4,41.6 598.8,42.9 600.2,44.3 601.6,45.8 602.9,47.4 604.3,49.2 605.7,51.2 607.1,53.5 608.5,55.9 609.9,58.4 611.2,60.7 612.4,62.8 613.5,64.7 614.6,66.6 615.6,68.3 616.5,69.9 617.4,71.4 618.3,72.7 619.2,73.8 620.0,74.8 620.8,75.6 621.6,76.3 622.4,76.7 623.2,77.0 624.0,77.1 624.7,76.9 625.4,76.5 626.1,76.1 626.8,75.5 627.5,74.8 628.1,74.2 628.6,73.6 629.0,72.9 629.6,72.0 630.4,70.8 631.5,69.1 633.0,66.8 634.9,63.7 636.9,60.4 639.1,57.0 641.4,54.0 643.7,51.5 645.9,49.7 648.1,48.3 650.3,47.1 652.7,46.2 655.4,45.2 658.5,44.1 662.3,42.9 666.9,41.5 671.8,40.1 676.4,38.9 680.4,37.8 683.2,37.0" stroke="#b9b9b9" stroke-width="1.25"/>
<path d="M393.3,22.2 393.3,22.2 393.8,23.0 394.4,23.8 395.1,24.6 395.7,25.4 396.4,26.0 397.0,26.6 397.6,27.0 398.2,27.4 398.8,27.6 399.3,27.8 399.9,27.9 400.5,27.9 401.1,27.8 401.7,27.7 402.2,27.5 402.8,27.2 403.4,26.8 404.0,26.4 404.6,25.9 405.3,25.3 405.9,24.7 406.5,24.0 407.1,23.2 407.7,22.2 407.7,22.2 M414.9,22.2 414.9,22.2 415.4,24.2 416.0,26.4 416.6,28.8 417.3,31.4 417.9,34.3 418.5,37.3 419.1,40.6 419.6,44.2 420.2,48.0 420.7,51.9 421.3,55.8 421.8,59.6 422.3,63.3 422.8,67.1 423.3,70.8 423.8,74.5 424.3,78.3 424.7,82.0 425.1,85.8 425.5,89.7 425.9,93.6 426.3,97.4 426.7,101.0 427.0,104.3 427.3,107.7 427.6,111.2 427.8,114.5 428.0,117.3 428.3,119.3 428.5,120.0 428.7,119.3 428.9,117.3 429.1,114.5 429.4,111.2 429.6,107.7 429.9,104.3 430.2,101.0 430.6,97.4 431.0,93.6 431.5,89.7 431.9,85.8 432.3,82.0 432.7,78.2 433.1,74.5 433.4,70.7 433.8,66.9 434.2,63.2 434.6,59.6 435.0,56.0 435.4,52.4 435.9,48.9 436.3,45.6 436.8,42.4 437.3,39.6 437.8,37.1 438.3,34.8 438.8,32.8 439.3,30.9 439.9,29.4 440.6,28.0 441.4,26.9 442.2,26.1 443.2,25.5 444.1,25.1 445.0,24.8 445.8,24.6 446.5,24.5 447.1,24.5 447.7,24.7 448.3,24.9 448.9,25.2 449.5,25.4 450.2,25.7 450.9,26.0 451.6,26.3 452.3,26.6 453.0,26.9 453.7,27.0 454.4,27.0 455.1,26.9 455.8,26.7 456.5,26.5 457.2,26.3 458.0,26.0 458.8,25.7 459.5,25.3 460.3,24.9 461.1,24.5 461.9,24.1 462.9,23.8 463.9,23.6 465.1,23.5 466.3,23.4 467.5,23.3 468.7,23.3 470.0,23.3 471.1,23.3 472.1,23.4 473.1,23.6 474.3,23.7 475.8,23.8 478.0,23.9 480.9,23.9 484.4,23.9 488.2,23.8 492.3,23.8 496.3,23.7 500.0,23.7 503.4,23.7 506.8,23.7 510.1,23.8 513.4,23.8 516.7,23.9 520.0,23.9 523.3,23.9 526.5,23.9 529.7,23.9 533.0,23.9 536.4,23.9 540.0,24.0 544.1,24.2 548.6,24.4 553.2,24.7 557.7,25.0 561.7,25.3 565.1,25.6 567.6,25.9 569.5,26.2 570.9,26.5 572.1,26.9 573.4,27.3 575.0,27.9 576.9,28.6 578.9,29.4 580.9,30.2 582.9,31.2 584.9,32.2 586.7,33.2 588.4,34.3 590.0,35.4 591.6,36.5 593.1,37.7 594.5,39.0 596.0,40.4 597.4,41.7 598.8,43.1 600.2,44.6 601.5,46.2 602.9,48.0 604.2,50.1 605.5,52.5 606.9,55.4 608.2,58.4 609.6,61.5 610.8,64.5 612.0,67.2 613.0,69.8 614.0,72.4 615.0,74.8 615.9,77.2 616.7,79.2 617.6,81.1 618.5,82.6 619.3,84.0 620.1,85.2 620.9,86.1 621.7,86.7 622.4,87.1 623.2,87.1 623.9,86.8 624.6,86.3 625.4,85.5 626.1,84.6 626.8,83.6 627.4,82.7 627.9,81.7 628.4,80.7 629.0,79.3 629.8,77.5 631.0,75.2 632.6,72.0 634.5,67.9 636.6,63.5 638.9,59.0 641.3,54.9 643.6,51.7 645.9,49.3 648.1,47.6 650.3,46.3 652.7,45.2 655.4,44.2 658.5,43.0 662.3,41.7 666.9,40.3 671.8,38.9 676.4,37.7 680.4,36.7 683.2,35.9" stroke="#b9b9b9" stroke-width="1.25"/>
<path d="M393.3,22.2 393.3,22.2 393.8,23.0 394.4,23.8 395.1,24.6 395.7,25.4 396.4,26.0 397.0,26.6 397.6,27.0 398.2,27.4 398.8,27.6 399.3,27.8 399.9,27.9 400.5,27.9 401.1,27.8 401.7,27.7 402.2,27.5 402.8,27.2 403.4,26.8 404.0,26.4 404.6,25.9 405.3,25.3 405.9,24.7 406.5,24.0 407.1,23.2 407.7,22.2 407.7,22.2 M414.9,22.2 414.9,22.2 415.4,24.2 416.0,26.4 416.6,28.8 417.3,31.4 417.9,34.3 418.5,37.3 419.1,40.6 419.6,44.2 420.2,48.0 420.7,51.9 421.3,55.8 421.8,59.6 422.3,63.3 422.8,67.1 423.3,70.8 423.8,74.5 424.3,78.3 424.7,82.0 425.1,85.8 425.5,89.7 425.9,93.6 426.3,97.4 426.7,101.0 427.0,104.3 427.3,107.7 427.6,111.2 427.8,114.5 428.0,117.3 428.3,119.3 428.5,120.0 428.7,119.3 428.9,117.3 429.1,114.5 429.4,111.2 429.6,107.7 429.9,104.3 430.2,101.0 430.6,97.4 431.0,93.6 431.5,89.7 431.9,85.8 432.3,82.0 432.7,78.2 433.1,74.5 433.4,70.7 433.8,66.9 434.2,63.2 434.6,59.6 435.0,56.0 435.4,52.4 435.9,48.9 436.3,45.6 436.8,42.4 437.3,39.6 437.8,37.1 438.3,34.8 438.8,32.8 439.3,30.9 439.9,29.4 440.6,28.0 441.4,26.9 442.2,26.1 443.2,25.5 444.1,25.1 445.0,24.8 445.8,24.6 446.5,24.5 447.1,24.5 447.7,24.7 448.3,24.9 448.9,25.2 449.5,25.4 450.2,25.7 450.9,26.0 451.6,26.3 452.3,26.6 453.0,26.9 453.7,27.0 454.4,27.0 455.1,26.9 455.8,26.7 456.5,26.5 457.2,26.3 458.0,26.0 458.8,25.7 459.5,25.3 460.3,24.9 461.1,24.5 461.9,24.1 462.9,23.8 463.9,23.6 465.1,23.5 466.3,23.4 467.5,23.3 468.7,23.3 470.0,23.3 471.1,23.3 472.1,23.4 473.1,23.6 474.3,23.7 475.8,23.8 478.0,23.9 480.9,23.9 484.4,23.9 488.2,23.8 492.3,23.8 496.3,23.7 500.0,23.7 503.4,23.7 506.8,23.7 510.1,23.8 513.4,23.8 516.7,23.9 520.0,23.9 523.3,23.9 526.5,23.9 529.7,23.9 533.0,23.9 536.4,23.9 540.0,24.0 544.1,24.2 548.6,24.4 553.2,24.7 557.7,25.0 561.7,25.3 565.1,25.6 567.6,25.9 569.5,26.2 570.9,26.5 572.1,26.9 573.4,27.3 575.0,27.9 576.9,28.6 578.9,29.4 580.9,30.2 582.9,31.2 584.9,32.2 586.7,33.2 588.4,34.3 590.0,35.3 591.6,36.5 593.1,37.7 594.5,39.0 596.0,40.4 597.4,41.9 598.8,43.4 600.1,44.9 601.5,46.7 602.8,48.7 604.1,51.2 605.4,54.2 606.7,57.6 608.0,61.4 609.2,65.3 610.4,69.1 611.5,72.7 612.6,76.1 613.5,79.5 614.4,82.9 615.3,86.1 616.1,89.0 616.9,91.4 617.7,93.6 618.5,95.4 619.3,97.0 620.1,98.2 620.9,99.1 621.6,99.5 622.4,99.5 623.1,99.1 623.9,98.3 624.6,97.2 625.4,95.9 626.1,94.5 626.7,93.1 627.2,91.8 627.7,90.2 628.3,88.3 629.2,85.9 630.4,82.7 632.1,78.5 634.1,73.1 636.3,67.3 638.7,61.4 641.1,56.1 643.5,52.0 645.8,49.1 648.0,47.0 650.3,45.5 652.7,44.3 655.4,43.2 658.5,41.9 662.3,40.5 666.9,39.0 671.8,37.7 676.4,36.6 680.4,35.6 683.2,34.8" stroke="#b9b9b9" stroke-width="1.25"/>
<path d="M393.3,22.2 393.3,22.2 393.8,23.0 394.4,23.8 395.1,24.6 395.7,25.4 396.4,26.0 397.0,26.6 397.6,27.0 398.2,27.4 398.8,27.6 399.3,27.8 399.9,27.9 400.5,27.9 401.1,27.8 401.7,27.7 402.2,27.5 402.8,27.2 403.4,26.8 404.0,26.4 404.6,25.9 405.3,25.3 405.9,24.7 406.5,24.0 407.1,23.2 407.7,22.2 407.7,22.2 M414.9,22.2 414.9,22.2 415.4,24.2 416.0,26.4 416.6,28.8 417.3,31.4 417.9,34.3 418.5,37.3 419.1,40.6 419.6,44.2 420.2,48.0 420.7,51.9 421.3,55.8 421.8,59.6 422.3,63.3 422.8,67.1 423.3,70.8 423.8,74.5 424.3,78.3 424.7,82.0 425.1,85.8 425.5,89.7 425.9,93.6 426.3,97.4 426.7,101.0 427.0,104.3 427.3,107.7 427.6,111.2 427.8,114.5 428.0,117.3 428.3,119.3 428.5,120.0 428.7,119.3 428.9,117.3 429.1,114.5 429.4,111.2 429.6,107.7 429.9,104.3 430.2,101.0 430.6,97.4 431.0,93.6 431.5,89.7 431.9,85.8 432.3,82.0 432.7,78.2 433.1,74.5 433.4,70.7 433.8,66.9 434.2,63.2 434.6,59.6 435.0,56.0 435.4,52.4 435.9,48.9 436.3,45.6 436.8,42.4 437.3,39.6 437.8,37.1 438.3,34.8 438.8,32.8 439.3,30.9 439.9,29.4 440.6,28.0 441.4,26.9 442.2,26.1 443.2,25.5 444.1,25.1 445.0,24.8 445.8,24.6 446.5,24.5 447.1,24.5 447.7,24.7 448.3,24.9 448.9,25.2 449.5,25.4 450.2,25.7 450.9,26.0 451.6,26.3 452.3,26.6 453.0,26.9 453.7,27.0 454.4,27.0 455.1,26.9 455.8,26.7 456.5,26.5 457.2,26.3 458.0,26.0 458.8,25.7 459.5,25.3 460.3,24.9 461.1,24.5 461.9,24.1 462.9,23.8 463.9,23.6 465.1,23.5 466.3,23.4 467.5,23.3 468.7,23.3 470.0,23.3 471.1,23.3 472.1,23.4 473.1,23.6 474.3,23.7 475.8,23.8 478.0,23.9 480.9,23.9 484.4,23.9 488.2,23.8 492.3,23.8 496.3,23.7 500.0,23.7 503.4,23.7 506.8,23.7 510.1,23.8 513.4,23.8 516.7,23.9 520.0,23.9 523.3,23.9 526.5,23.9 529.7,23.9 533.0,23.9 536.4,23.9 540.0,24.0 544.1,24.2 548.6,24.4 553.2,24.7 557.7,25.0 561.7,25.3 565.1,25.6 567.6,25.9 569.5,26.2 570.9,26.5 572.1,26.9 573.4,27.3 575.0,27.9 576.9,28.6 578.9,29.4 580.9,30.2 582.9,31.2 584.9,32.2 586.7,33.2 588.4,34.3 590.0,35.3 591.6,36.5 593.0,37.7 594.5,39.0 595.9,40.5 597.3,42.1 598.7,43.6 600.0,45.2 601.3,47.1 602.6,49.4 603.8,52.2 605.0,55.6 606.3,59.7 607.4,64.2 608.6,68.8 609.7,73.4 610.7,77.6 611.6,81.8 612.5,86.0 613.3,90.2 614.0,94.2 614.8,97.8 615.5,100.9 616.3,103.5 617.1,105.8 617.8,107.8 618.6,109.3 619.3,110.4 620.1,110.9 620.8,110.9 621.6,110.3 622.4,109.3 623.1,107.9 623.9,106.3 624.7,104.6 625.4,102.9 625.9,101.1 626.4,99.2 627.1,96.8 628.0,93.8 629.4,90.0 631.1,84.8 633.3,78.4 635.7,71.4 638.3,64.4 640.9,58.2 643.4,53.4 645.7,50.2 648.0,48.1 650.3,46.7 652.7,45.7 655.4,44.8 658.5,43.6 662.3,42.2 666.9,40.8 671.8,39.4 676.4,38.2 680.4,37.2 683.2,36.5" stroke="#b9b9b9" stroke-width="1.25"/>
<path d="M393.3,22.2 393.3,22.2 393.8,23.0 394.4,23.8 395.1,24.6 395.7,25.4 396.4,26.0 397.0,26.6 397.6,27.0 398.2,27.4 398.8,27.6 399.3,27.8 399.9,27.9 400.5,27.9 401.1,27.8 401.7,27.7 402.2,27.5 402.8,27.2 403.4,26.8 404.0,26.4 404.6,25.9 405.3,25.3 405.9,24.7 406.5,24.0 407.1,23.2 407.7,22.2 407.7,22.2 M414.9,22.2 414.9,22.2 415.4,24.2 416.0,26.4 416.6,28.8 417.3,31.4 417.9,34.3 418.5,37.3 419.1,40.6 419.6,44.2 420.2,48.0 420.7,51.9 421.3,55.8 421.8,59.6 422.3,63.3 422.8,67.1 423.3,70.8 423.8,74.5 424.3,78.3 424.7,82.0 425.1,85.8 425.5,89.7 425.9,93.6 426.3,97.4 426.7,101.0 427.0,104.3 427.3,107.7 427.6,111.2 427.8,114.5 428.0,117.3 428.3,119.3 428.5,120.0 428.7,119.3 428.9,117.3 429.1,114.5 429.4,111.2 429.6,107.7 429.9,104.3 430.2,101.0 430.6,97.4 431.0,93.6 431.5,89.7 431.9,85.8 432.3,82.0 432.7,78.2 433.1,74.5 433.4,70.7 433.8,66.9 434.2,63.2 434.6,59.6 435.0,56.0 435.4,52.4 435.9,48.9 436.3,45.6 436.8,42.4 437.3,39.6 437.8,37.1 438.3,34.8 438.8,32.8 439.3,30.9 439.9,29.4 440.6,28.0 441.4,26.9 442.2,26.1 443.2,25.5 444.1,25.1 445.0,24.8 445.8,24.6 446.5,24.5 447.1,24.5 447.7,24.7 448.3,24.9 448.9,25.2 449.5,25.4 450.2,25.7 450.9,26.0 451.6,26.3 452.3,26.6 453.0,26.9 453.7,27.0 454.4,27.0 455.1,26.9 455.8,26.7 456.5,26.5 457.2,26.3 458.0,26.0 458.8,25.7 459.5,25.3 460.3,24.9 461.1,24.5 461.9,24.1 462.9,23.8 463.9,23.6 465.1,23.5 466.3,23.4 467.5,23.3 468.7,23.3 470.0,23.3 471.1,23.3 472.1,23.4 473.1,23.6 474.3,23.7 475.8,23.8 478.0,23.9 480.9,23.9 484.4,23.9 488.2,23.8 492.3,23.8 496.3,23.7 500.0,23.7 503.4,23.7 506.8,23.7 510.1,23.8 513.4,23.8 516.7,23.9 520.0,23.9 523.3,23.9 526.5,23.9 529.7,23.9 533.0,23.9 536.4,23.9 540.0,24.0 544.1,24.2 548.6,24.4 553.2,24.7 557.7,25.0 561.7,25.3 565.1,25.6 567.6,25.9 569.5,26.2 570.9,26.5 572.1,26.9 573.4,27.3 575.0,27.9 576.9,28.6 578.9,29.4 580.9,30.3 582.9,31.2 584.9,32.2 586.7,33.2 588.4,34.3 590.0,35.4 591.6,36.5 593.1,37.7 594.6,38.9 596.0,40.2 597.5,41.4 598.9,42.7 600.3,43.9 601.8,45.2 603.2,46.6 604.6,47.9 606.1,49.4 607.6,50.9 609.2,52.5 610.7,54.0 612.1,55.4 613.5,56.6 614.7,57.5 615.9,58.4 617.0,59.1 618.0,59.7 619.0,60.2 620.0,60.7 621.0,61.2 621.9,61.6 622.7,61.9 623.6,62.2 624.4,62.4 625.2,62.6 625.9,62.6 626.6,62.6 627.3,62.5 628.0,62.4 628.6,62.2 629.3,62.0 629.8,61.8 630.2,61.7 630.6,61.5 631.1,61.2 631.8,60.7 632.8,59.7 634.2,58.4 635.8,56.6 637.7,54.5 639.7,52.4 641.8,50.3 643.9,48.4 646.0,46.6 648.1,44.9 650.3,43.1 652.8,41.5 655.4,39.9 658.5,38.5 662.3,37.1 666.9,35.7 671.8,34.4 676.4,33.3 680.4,32.3 683.2,31.6" stroke="#b9b9b9" stroke-width="1.25"/>
<path d="M393.3,22.2 393.3,22.2 393.8,23.0 394.4,23.8 395.1,24.6 395.7,25.4 396.4,26.0 397.0,26.6 397.6,27.0 398.2,27.4 398.8,27.6 399.3,27.8 399.9,27.9 400.5,27.9 401.1,27.8 401.7,27.7 402.2,27.5 402.8,27.2 403.4,26.8 404.0,26.4 404.6,25.9 405.3,25.3 405.9,24.7 406.5,24.0 407.1,23.2 407.7,22.2 407.7,22.2 M414.9,22.2 414.9,22.2 415.4,24.2 416.0,26.4 416.6,28.8 417.3,31.4 417.9,34.3 418.5,37.3 419.1,40.6 419.6,44.2 420.2,48.0 420.7,51.9 421.3,55.8 421.8,59.6 422.3,63.3 422.8,67.1 423.3,70.8 423.8,74.5 424.3,78.3 424.7,82.0 425.1,85.8 425.5,89.7 425.9,93.6 426.3,97.4 426.7,101.0 427.0,104.3 427.3,107.7 427.6,111.2 427.8,114.5 428.0,117.3 428.3,119.3 428.5,120.0 428.7,119.3 428.9,117.3 429.1,114.5 429.4,111.2 429.6,107.7 429.9,104.3 430.2,101.0 430.6,97.4 431.0,93.6 431.5,89.7 431.9,85.8 432.3,82.0 432.7,78.2 433.1,74.5 433.4,70.7 433.8,66.9 434.2,63.2 434.6,59.6 435.0,56.0 435.4,52.4 435.9,48.9 436.3,45.6 436.8,42.4 437.3,39.6 437.8,37.1 438.3,34.8 438.8,32.8 439.3,30.9 439.9,29.4 440.6,28.0 441.4,26.9 442.2,26.1 443.2,25.5 444.1,25.1 445.0,24.8 445.8,24.6 446.5,24.5 447.1,24.5 447.7,24.7 448.3,24.9 448.9,25.2 449.5,25.4 450.2,25.7 450.9,26.0 451.6,26.3 452.3,26.6 453.0,26.9 453.7,27.0 454.4,27.0 455.1,26.9 455.8,26.7 456.5,26.5 457.2,26.3 458.0,26.0 458.8,25.7 459.5,25.3 460.3,24.9 461.1,24.5 461.9,24.1 462.9,23.8 463.9,23.6 465.1,23.5 466.3,23.4 467.5,23.3 468.7,23.3 470.0,23.3 471.1,23.3 472.1,23.4 473.1,23.6 474.3,23.7 475.8,23.8 478.0,23.9 480.9,23.9 484.4,23.9 488.2,23.8 492.3,23.8 496.3,23.7 500.0,23.7 503.4,23.7 506.8,23.7 510.1,23.8 513.4,23.8 516.7,23.9 520.0,23.9 523.3,23.9 526.5,23.9 529.7,23.9 533.0,23.9 536.4,23.9 540.0,24.0 544.1,24.2 548.6,24.4 553.2,24.7 557.7,25.0 561.7,25.3 565.1,25.6 567.6,25.9 569.5,26.2 570.9,26.5 572.1,26.9 573.4,27.3 575.0,27.9 576.9,28.6 578.9,29.4 580.9,30.3 582.9,31.2 584.9,32.2 586.7,33.2 588.4,34.3 590.0,35.4 591.6,36.5 593.1,37.7 594.5,38.9 596.0,40.2 597.4,41.4 598.8,42.7 600.1,44.0 601.4,45.4 602.7,46.8 604.0,48.2 605.3,49.8 606.6,51.6 607.8,53.3 609.1,55.1 610.2,56.7 611.3,58.1 612.3,59.3 613.3,60.4 614.1,61.4 614.9,62.2 615.8,63.0 616.6,63.7 617.4,64.3 618.2,64.9 619.0,65.4 619.7,65.7 620.5,66.0 621.2,66.2 622.0,66.3 622.8,66.2 623.5,66.0 624.3,65.8 625.0,65.5 625.7,65.2 626.4,64.9 626.9,64.7 627.4,64.4 628.0,64.0 628.9,63.2 630.2,62.1 631.9,60.5 633.9,58.5 636.2,56.2 638.6,53.8 641.1,51.5 643.5,49.5 645.8,47.8 648.0,46.2 650.3,44.7 652.7,43.4 655.4,42.0 658.5,40.7 662.3,39.4 666.9,38.0 671.8,36.7 676.4,35.5 680.4,34.5 683.2,33.8" stroke="#b9b9b9" stroke-width="1.25"/>
<path d="M389.9,22.2 392.6,22.3 396.1,22.4 400.4,22.5 405.4,22.6 411.0,22.7 417.3,22.8 424.3,22.9 432.2,23.0 440.8,23.1 449.7,23.2 458.9,23.3 468.1,23.4 477.8,23.5 488.1,23.5 498.7,23.6 509.0,23.6 518.5,23.8 526.8,24.0 533.8,24.3 539.9,24.8 545.2,25.3 549.9,25.8 554.1,26.4 558.1,27.0 561.7,27.7 564.6,28.4 567.2,29.1 569.4,29.9 571.6,30.8 573.8,31.8 575.9,33.0 578.0,34.2 579.9,35.5 581.7,36.9 583.6,38.5 585.5,40.3 587.5,42.3 589.6,44.6 591.6,47.1 593.6,49.6 595.5,52.0 597.2,54.1 598.8,56.1 600.1,58.2 601.4,60.1 602.6,61.7 603.8,63.0 605.1,63.8 606.3,63.9 607.6,63.5 608.8,62.8 610.1,61.7 611.5,60.6 612.9,59.6 614.4,58.5 615.9,57.4 617.4,56.2 619.0,54.8 620.8,53.3 622.7,51.7 624.7,49.8 626.9,47.6 629.1,45.2 631.5,42.9 633.9,40.8 636.4,39.1 638.9,37.8 641.4,36.8 644.1,36.0 646.7,35.4 649.4,34.8 652.0,34.2 654.6,33.7 657.2,33.2 659.8,32.8 662.4,32.5 665.0,32.2 667.7,31.8 670.4,31.5 673.4,31.2 676.5,30.9 679.2,30.7 681.6,30.5 683.3,30.3" stroke="#b9b9b9" stroke-width="1.25"/>
<path d="M526.8,24.0 531.3,24.4 537.5,24.8 544.9,25.4 552.6,26.1 559.9,27.0 565.9,28.2 570.8,29.7 575.1,31.3 578.9,33.2 582.5,35.3 585.9,37.7 589.4,40.3 593.0,43.3 596.6,46.8 600.0,50.6 603.3,54.4 606.3,58.0 609.0,61.4 611.2,64.5 613.0,67.6 614.6,70.6 616.0,73.3 617.3,75.7 618.8,77.6 620.1,79.1 621.4,80.3 622.7,81.1 623.9,81.6 625.2,81.6 626.6,81.2 628.0,80.2 629.5,78.6 631.0,76.6 632.6,74.4 634.4,72.2 636.4,70.4 638.6,68.8 641.1,67.3 643.8,65.8 646.6,64.4 649.3,63.1 652.0,62.0 654.6,60.9 657.2,60.0 659.8,59.3 662.4,58.5 665.0,57.8 667.7,57.1 670.4,56.4 673.4,55.7 676.5,55.0 679.2,54.4 681.6,53.9 683.3,53.5" stroke="#b9b9b9" stroke-width="1.25"/>
<path d="M425.0,22.2 425.5,22.5 426.1,23.0 426.7,23.6 427.3,24.2 427.8,25.0 428.4,26.0 429.0,27.0 429.6,28.2 430.2,29.5 430.9,30.9 431.5,32.4 432.2,34.2 432.9,36.2 433.8,38.4 434.7,40.9 435.7,43.6 436.7,46.5 437.6,49.5 438.4,52.5 439.1,55.6 439.7,58.7 440.2,62.0 440.8,65.4 441.2,68.9 441.7,72.7 442.2,76.8 442.7,81.1 443.1,85.6 443.6,90.2 444.0,94.9 444.4,99.7 444.9,104.7 445.3,110.0 445.8,115.4 446.2,120.7 446.6,125.8 447.0,130.7 447.4,135.6 447.7,141.0 447.8,142.7 M450.1,142.7 450.2,141.0 450.6,135.6 450.9,130.7 451.3,125.8 451.7,120.7 452.0,115.4 452.4,110.0 452.8,104.7 453.2,99.7 453.6,94.9 454.1,90.2 454.5,85.6 454.9,81.1 455.4,76.8 455.9,72.7 456.5,68.9 457.2,65.4 457.8,62.0 458.5,58.7 459.3,55.6 460.0,52.5 460.9,49.4 461.8,46.4 462.7,43.5 463.6,40.7 464.5,38.3 465.4,36.2 466.1,34.5 466.6,33.3 467.2,32.3 467.8,31.5 468.8,30.8 470.3,30.1 472.3,29.4 474.7,28.7 477.5,28.2 480.4,27.7 483.6,27.2 486.9,26.8 490.3,26.4 493.8,26.1 497.4,25.8 501.4,25.5 505.7,25.3 510.4,25.1 515.9,24.9 522.1,24.6 528.6,24.4 535.1,24.3 541.2,24.2 546.4,24.3 550.6,24.5 554.1,24.7 557.2,25.0 560.0,25.5 562.9,26.1 565.9,27.0 569.2,28.2 572.5,29.5 575.7,31.1 579.0,32.8 582.2,34.7 585.5,36.7 588.8,38.9 592.2,41.4 595.5,44.1 598.8,46.7 602.0,49.1 605.1,51.1 607.9,52.8 610.6,54.4 613.1,55.8 615.6,56.8 618.1,57.5 620.7,57.7 623.3,57.5 625.8,56.7 628.3,55.5 630.9,54.1 633.5,52.6 636.4,51.1 639.3,49.5 642.3,47.7 645.4,45.7 648.7,43.7 652.2,41.9 655.9,40.3 660.3,38.8 665.5,37.5 670.8,36.3 675.9,35.2 680.2,34.3 683.3,33.6" stroke="#b9b9b9" stroke-width="1.25"/>
<path d="M389.9,23.4 390.8,23.6 392.0,24.0 393.4,24.4 395.0,24.8 396.4,25.1 397.7,25.2 398.8,25.2 399.9,25.1 400.9,24.9 401.9,24.6 402.7,24.3 403.6,24.0 404.4,23.6 405.0,23.1 405.7,22.6 406.1,22.2 M409.1,22.2 409.5,22.5 410.1,23.0 410.8,23.5 411.4,24.0 412.1,24.5 412.7,25.0 413.4,25.6 414.0,26.1 414.7,26.5 415.3,26.7 416.0,26.7 416.6,26.6 417.3,26.4 417.9,26.1 418.6,25.7 419.2,25.2 419.9,24.6 420.5,23.9 421.2,23.1 421.8,22.3 422.0,22.2" stroke="#b9b9b9" stroke-width="1.25"/>
<path d="M389.9,22.8 390.5,23.1 391.4,23.6 392.5,24.2 393.6,24.8 394.7,25.3 395.8,25.8 396.7,26.2 397.7,26.7 398.7,27.1 399.7,27.4 400.7,27.6 401.6,27.6 402.6,27.5 403.7,27.2 404.7,26.8 405.7,26.3 406.6,25.8 407.5,25.2 408.3,24.6 409.1,23.8 409.8,23.0 410.4,22.2" stroke="#b9b9b9" stroke-width="1.25"/>
<path d="M393.3,22.2 393.3,22.2 393.8,23.0 394.4,23.8 395.1,24.6 395.7,25.4 396.4,26.0 397.0,26.6 397.6,27.0 398.2,27.4 398.8,27.6 399.3,27.8 399.9,27.9 400.5,27.9 401.1,27.8 401.7,27.7 402.2,27.5 402.8,27.2 403.4,26.8 404.0,26.4 404.6,25.9 405.3,25.3 405.9,24.7 406.5,24.0 407.1,23.2 407.7,22.2 407.7,22.2 M414.9,22.2 414.9,22.2 415.4,24.2 416.0,26.4 416.6,28.8 417.3,31.4 417.9,34.3 418.5,37.3 419.1,40.6 419.6,44.2 420.2,48.0 420.7,51.9 421.3,55.8 421.8,59.6 422.3,63.3 422.8,67.1 423.3,70.8 423.8,74.5 424.3,78.3 424.7,82.0 425.1,85.8 425.5,89.7 425.9,93.6 426.3,97.4 426.7,101.0 427.0,104.3 427.3,107.7 427.6,111.2 427.8,114.5 428.0,117.3 428.3,119.3 428.5,120.0 428.7,119.3 428.9,117.3 429.1,114.5 429.4,111.2 429.6,107.7 429.9,104.3 430.2,101.0 430.6,97.4 431.0,93.6 431.5,89.7 431.9,85.8 432.3,82.0 432.7,78.2 433.1,74.5 433.4,70.7 433.8,66.9 434.2,63.2 434.6,59.6 435.0,56.0 435.4,52.4 435.9,48.9 436.3,45.6 436.8,42.4 437.3,39.6 437.8,37.1 438.3,34.8 438.8,32.8 439.3,30.9 439.9,29.4 440.6,28.0 441.4,26.9 442.2,26.1 443.2,25.5 444.1,25.1 445.0,24.8 445.8,24.6 446.5,24.5 447.1,24.5 447.7,24.7 448.3,24.9 448.9,25.2 449.5,25.4 450.2,25.7 450.9,26.0 451.6,26.3 452.3,26.6 453.0,26.9 453.7,27.0 454.4,27.0 455.1,26.9 455.8,26.7 456.5,26.5 457.2,26.3 458.0,26.0 458.8,25.7 459.5,25.3 460.3,24.9 461.1,24.5 461.9,24.1 462.9,23.8 463.9,23.6 465.1,23.5 466.3,23.4 467.5,23.3 468.7,23.3 470.0,23.3 471.1,23.3 472.1,23.4 473.1,23.6 474.3,23.7 475.8,23.8 478.0,23.9 480.9,23.9 484.4,23.9 488.2,23.8 492.3,23.8 496.3,23.7 500.0,23.7 503.4,23.7 506.8,23.7 510.1,23.8 513.4,23.8 516.7,23.9 520.0,23.9 523.3,23.9 526.5,23.9 529.7,23.9 533.0,23.9 536.4,23.9 540.0,24.0 544.1,24.2 548.6,24.4 553.2,24.7 557.7,25.0 561.7,25.3 565.1,25.6 567.6,25.9 569.5,26.2 570.9,26.5 572.1,26.9 573.4,27.3 575.0,27.9 576.9,28.6 578.9,29.4 580.9,30.3 582.9,31.2 584.9,32.2 586.7,33.2 588.4,34.3 590.0,35.4 591.6,36.5 593.1,37.7 594.5,38.9 596.0,40.2 597.4,41.5 598.8,42.8 600.2,44.1 601.6,45.5 602.9,46.9 604.3,48.4 605.7,50.1 607.1,51.9 608.5,53.8 609.9,55.6 611.2,57.4 612.4,58.9 613.5,60.2 614.6,61.4 615.6,62.5 616.5,63.5 617.4,64.4 618.3,65.2 619.2,65.9 620.0,66.5 620.8,67.1 621.6,67.5 622.4,67.8 623.2,68.0 624.0,68.1 624.7,68.0 625.4,67.8 626.1,67.5 626.8,67.2 627.5,66.8 628.1,66.5 628.6,66.2 629.0,65.8 629.6,65.3 630.4,64.5 631.5,63.3 633.0,61.6 634.9,59.4 636.9,56.9 639.1,54.3 641.4,51.9 643.7,49.8 645.9,48.1 648.1,46.5 650.3,45.1 652.7,43.8 655.4,42.6 658.5,41.3 662.3,40.0 666.9,38.6 671.8,37.3 676.4,36.1 680.4,35.0 683.2,34.3" stroke="#0000ff" stroke-width="3.4" stroke-linecap="butt"/>
<path d="M425.11,82.45H429.02 M605.06,82.45H644.18" stroke="#ff0000" stroke-width="3" stroke-linecap="butt"/>
</g>
<path d="M409.46,142.70v-2.5 M409.46,22.20v2.5 M487.70,142.70v-2.5 M487.70,22.20v2.5 M565.94,142.70v-2.5 M565.94,22.20v2.5 M644.18,142.70v-2.5 M644.18,22.20v2.5 M389.90,82.45h2.5 M683.30,82.45h-2.5" stroke="#404040" stroke-width="1"/>
<rect x="389.90" y="22.20" width="293.40" height="120.50" fill="none" stroke="#555" stroke-width="1.8" stroke-linejoin="round"/>
<text x="382.4" y="28.80" text-anchor="end" font-size="19.5" fill="#3d3d3d">0</text>
<text x="382.4" y="89.05" text-anchor="end" font-size="19.5" fill="#3d3d3d">-10</text>
<text x="382.4" y="149.30" text-anchor="end" font-size="19.5" fill="#3d3d3d">-20</text>
<text x="409.46" y="167.70" text-anchor="middle" font-size="19.5" fill="#3d3d3d">2</text>
<text x="487.70" y="167.70" text-anchor="middle" font-size="19.5" fill="#3d3d3d">4</text>
<text x="565.94" y="167.70" text-anchor="middle" font-size="19.5" fill="#3d3d3d">6</text>
<text x="644.18" y="167.70" text-anchor="middle" font-size="19.5" fill="#3d3d3d">8</text>
<text x="538.00" y="192.00" text-anchor="middle" font-size="21" fill="#3d3d3d">Frequency [GHz]</text>
<g transform="translate(339.2,83.05) rotate(-90)"><text x="0" y="0" text-anchor="middle" font-size="21" fill="#3d3d3d"><tspan fill="#c8c8c8">|</tspan><tspan dx="0.6" font-style="italic">S</tspan><tspan font-size="16.5" dx="1.0" dy="8.8">11</tspan><tspan dx="0.4" dy="-8.8" fill="#c8c8c8">|</tspan> [dB]</text></g>
<defs><clipPath id="pc1"><rect x="387.4" y="222.9" width="298.4" height="126.5"/></clipPath></defs>
<path d="M409.46,225.40V346.90 M487.70,225.40V346.90 M565.94,225.40V346.90 M644.18,225.40V346.90 M389.90,286.15H683.30" stroke="#e4e4e4" stroke-width="1.3" fill="none"/>
<g clip-path="url(#pc1)" fill="none" stroke-linejoin="round" stroke-linecap="round">
<path d="M389.9,227.2 390.4,227.3 391.3,227.3 392.2,227.2 393.0,227.2 393.8,227.0 394.6,226.8 395.5,226.6 396.3,226.4 397.2,226.1 398.0,226.0 398.8,225.7 399.4,225.4 M403.0,225.4 403.0,225.4 403.7,226.7 404.3,228.4 404.9,230.5 405.5,232.9 406.1,235.4 406.7,238.0 407.4,240.7 408.2,243.7 408.9,246.8 409.7,250.0 410.4,253.2 411.1,256.1 411.7,258.9 412.3,261.5 412.9,264.0 413.4,266.6 414.0,269.2 414.5,272.0 415.0,275.0 415.5,278.2 416.0,281.5 416.5,284.7 416.9,287.8 417.3,290.5 417.7,293.1 418.0,295.7 418.3,298.1 418.6,300.1 418.9,301.4 419.2,301.9 419.6,301.4 419.9,300.1 420.3,298.1 420.7,295.7 421.1,293.1 421.5,290.5 421.9,287.8 422.3,284.7 422.7,281.5 423.1,278.2 423.4,275.0 423.8,272.0 424.1,269.2 424.4,266.5 424.6,263.9 424.9,261.3 425.2,258.7 425.7,256.1 426.3,253.4 427.0,250.5 427.7,247.5 428.5,244.8 429.3,242.2 430.1,240.0 430.8,238.2 431.5,236.6 432.2,235.4 432.9,234.2 433.6,233.2 434.4,232.3 435.3,231.4 436.1,230.7 437.1,230.1 438.1,229.6 439.1,229.2 440.3,228.9 441.5,228.7 442.8,228.7 444.2,228.8 445.7,229.0 447.3,229.1 449.2,229.2 451.2,229.2 453.3,229.3 455.6,229.3 458.2,229.3 461.0,229.3 464.2,229.3 468.2,229.2 473.0,229.2 478.0,229.1 482.9,229.0 487.1,228.9 490.0,228.9" stroke="#b9b9b9" stroke-width="1.25"/>
<path d="M389.9,226.0 390.4,225.9 391.3,225.8 392.2,225.7 393.0,225.7 393.8,225.8 394.5,226.0 395.3,226.2 396.1,226.5 397.0,226.6 398.0,226.7 399.2,226.4 400.6,225.9 401.8,225.4 M406.1,225.4 406.1,225.4 407.0,226.7 407.6,228.4 408.2,230.6 408.7,233.0 409.2,235.6 409.8,238.2 410.5,241.0 411.3,244.1 412.0,247.3 412.8,250.5 413.5,253.7 414.2,256.8 414.8,259.6 415.4,262.2 416.0,264.8 416.5,267.4 417.1,270.1 417.6,272.9 418.1,276.0 418.6,279.3 419.1,282.7 419.6,286.0 420.0,289.1 420.4,291.8 420.8,294.5 421.1,297.1 421.4,299.6 421.7,301.6 422.0,303.0 422.3,303.5 422.7,303.0 423.0,301.6 423.4,299.6 423.8,297.1 424.2,294.5 424.6,291.8 425.0,289.1 425.4,286.0 425.8,282.7 426.2,279.3 426.5,276.0 426.9,272.9 427.2,270.1 427.5,267.3 427.7,264.7 428.0,262.1 428.3,259.4 428.8,256.8 429.4,253.9 430.1,251.0 430.9,248.0 431.6,245.2 432.4,242.5 433.2,240.3 433.9,238.4 434.6,236.9 435.3,235.6 436.0,234.4 436.7,233.4 437.5,232.5 438.4,231.6 439.2,230.9 440.2,230.2 441.2,229.7 442.2,229.3 443.4,228.9 444.6,228.6 445.9,228.4 447.3,228.3 448.8,228.3 450.4,228.2 452.3,228.2 454.4,228.1 456.6,228.1 458.9,228.0 461.5,228.0 464.3,228.1 467.3,228.1 470.9,228.2 475.1,228.3 479.6,228.5 483.8,228.7 487.4,228.8 490.0,228.9" stroke="#b9b9b9" stroke-width="1.25"/>
<path d="M389.9,229.8 390.4,229.2 391.3,228.3 392.2,227.5 393.0,227.0 393.7,226.7 394.2,226.6 394.8,226.6 395.5,226.7 396.6,226.7 398.0,226.7 400.1,226.2 402.8,225.4 402.9,225.4 M413.4,225.4 413.4,225.4 414.7,227.6 415.5,230.7 415.9,234.4 416.2,238.6 416.6,243.1 417.1,247.7 417.8,252.5 418.6,257.8 419.3,263.4 420.1,269.0 420.8,274.6 421.5,279.8 422.1,284.7 422.7,289.3 423.3,293.8 423.8,298.3 424.4,302.9 424.9,307.9 425.4,313.2 425.9,318.9 426.4,324.7 426.9,330.5 427.3,335.9 427.7,340.7 428.1,345.2 428.2,346.9 M431.4,346.9 431.5,345.2 431.9,340.7 432.3,335.9 432.7,330.5 433.1,324.7 433.5,318.9 433.8,313.2 434.2,307.9 434.5,302.9 434.8,298.2 435.0,293.6 435.3,289.0 435.6,284.4 436.1,279.8 436.7,274.9 437.4,269.8 438.2,264.6 438.9,259.7 439.7,255.1 440.5,251.2 441.2,248.0 441.9,245.3 442.6,243.0 443.3,241.1 444.0,239.3 444.8,237.6 445.7,236.1 446.5,234.9 447.5,233.9 448.5,233.0 449.5,232.3 450.7,231.5 451.9,230.8 453.2,230.3 454.6,229.8 456.1,229.4 457.7,229.1 459.6,228.8 461.7,228.7 464.1,228.8 466.7,228.9 469.3,229.1 472.0,229.3 474.6,229.3 477.3,229.3 480.3,229.2 483.2,229.1 486.0,229.0 488.3,229.0 490.0,228.9" stroke="#b9b9b9" stroke-width="1.25"/>
<path d="M389.9,227.0 390.4,227.1 391.3,227.3 392.2,227.4 393.0,227.4 393.6,227.4 393.9,227.3 394.3,227.2 394.9,227.0 396.1,226.9 398.0,226.7 401.1,226.2 405.3,225.4 M422.1,225.4 422.1,225.4 423.9,227.8 424.8,231.0 425.2,235.0 425.3,239.4 425.4,244.2 425.8,249.0 426.5,254.1 427.3,259.7 428.0,265.6 428.8,271.6 429.5,277.5 430.2,283.0 430.8,288.1 431.4,293.0 432.0,297.8 432.5,302.6 433.1,307.5 433.6,312.7 434.1,318.4 434.6,324.4 435.1,330.6 435.6,336.7 436.0,342.4 436.4,346.9 M440.6,346.9 441.0,342.4 441.4,336.7 441.8,330.6 442.2,324.4 442.5,318.4 442.9,312.7 443.2,307.5 443.5,302.4 443.7,297.6 444.0,292.8 444.3,287.9 444.8,283.0 445.4,277.8 446.1,272.4 446.9,266.9 447.6,261.7 448.4,256.9 449.2,252.8 449.9,249.4 450.6,246.5 451.3,244.1 452.0,242.0 452.7,240.1 453.5,238.4 454.4,236.8 455.2,235.5 456.2,234.4 457.2,233.5 458.2,232.7 459.4,231.9 460.6,231.1 461.9,230.5 463.3,230.0 464.8,229.5 466.4,229.2 468.3,229.0 470.5,228.9 473.2,229.0 475.9,229.2 478.7,229.4 481.2,229.6 483.3,229.6 485.0,229.6 486.4,229.5 487.6,229.3 488.6,229.1 489.4,229.0 490.0,228.9" stroke="#b9b9b9" stroke-width="1.25"/>
<path d="M389.9,228.2 390.4,227.7 391.3,226.9 392.2,226.3 393.0,225.9 393.6,225.8 393.8,225.8 394.1,226.0 394.7,226.3 395.9,226.5 398.0,226.5 401.5,226.2 406.2,225.4 406.4,225.4 M424.9,225.4 424.9,225.4 426.9,227.6 427.8,230.7 428.2,234.5 428.2,238.6 428.2,243.1 428.6,247.7 429.3,252.5 430.1,257.8 430.8,263.4 431.6,269.0 432.3,274.6 433.0,279.8 433.6,284.7 434.2,289.3 434.8,293.8 435.3,298.3 435.9,302.9 436.4,307.9 436.9,313.2 437.4,318.9 437.9,324.7 438.4,330.5 438.8,335.9 439.2,340.7 439.6,345.2 439.7,346.9 M442.9,346.9 443.0,345.2 443.4,340.7 443.8,335.9 444.2,330.5 444.6,324.7 445.0,318.9 445.3,313.2 445.7,307.9 446.0,302.9 446.3,298.2 446.5,293.6 446.8,289.0 447.1,284.4 447.6,279.8 448.2,274.9 448.9,269.8 449.7,264.6 450.4,259.7 451.2,255.1 452.0,251.2 452.7,248.0 453.4,245.3 454.1,243.0 454.8,241.1 455.5,239.3 456.3,237.6 457.2,236.1 458.0,234.9 459.0,233.9 460.0,233.0 461.0,232.2 462.2,231.5 463.4,230.9 464.7,230.4 466.1,230.0 467.6,229.7 469.2,229.4 471.1,229.2 473.4,228.9 476.1,228.7 478.9,228.6 481.7,228.4 484.2,228.3 486.1,228.3 487.4,228.3 488.4,228.4 489.0,228.5 489.4,228.7 489.7,228.8 490.0,228.9" stroke="#b9b9b9" stroke-width="1.25"/>
<path d="M389.9,226.9 390.4,227.2 391.3,227.6 392.2,227.9 393.0,228.0 393.7,227.9 394.5,227.6 395.2,227.2 396.0,226.8 396.9,226.4 398.0,226.1 399.4,225.8 401.1,225.5 401.5,225.4 M407.8,225.4 407.8,225.4 408.8,226.2 409.5,227.3 410.0,228.6 410.4,230.1 410.9,231.6 411.5,233.3 412.2,235.0 413.0,236.8 413.7,238.8 414.5,240.8 415.2,242.8 415.9,244.6 416.5,246.3 417.1,247.9 417.7,249.5 418.2,251.1 418.8,252.8 419.3,254.5 419.8,256.4 420.3,258.4 420.8,260.5 421.3,262.5 421.7,264.4 422.1,266.1 422.5,267.7 422.8,269.3 423.1,270.8 423.4,272.1 423.7,272.9 424.0,273.2 424.4,272.9 424.7,272.1 425.1,270.8 425.5,269.3 425.9,267.7 426.3,266.1 426.7,264.4 427.1,262.5 427.5,260.5 427.9,258.4 428.2,256.4 428.6,254.5 428.9,252.8 429.2,251.1 429.4,249.5 429.7,247.9 430.0,246.2 430.5,244.6 431.1,242.9 431.8,241.1 432.6,239.2 433.3,237.5 434.1,235.9 434.9,234.5 435.6,233.4 436.3,232.4 437.0,231.6 437.7,230.9 438.4,230.3 439.2,229.7 440.1,229.2 440.9,228.7 441.9,228.2 442.9,227.9 443.9,227.6 445.1,227.6 446.3,227.7 447.6,228.0 449.0,228.4 450.5,228.8 452.1,229.3 454.0,229.6 456.1,229.7 458.3,229.9 460.7,230.0 463.3,230.1 466.1,230.1 469.0,230.0 472.4,229.9 476.3,229.7 480.4,229.5 484.3,229.3 487.6,229.0 490.0,228.9" stroke="#b9b9b9" stroke-width="1.25"/>
<path d="M389.9,229.3 390.4,229.1 391.3,228.8 392.2,228.5 393.0,228.2 393.7,227.8 394.2,227.4 394.7,227.0 395.4,226.6 396.4,226.3 398.0,226.0 400.4,225.7 402.8,225.4 M415.8,225.4 415.8,225.4 417.2,226.3 418.1,227.6 418.5,229.1 418.7,230.9 419.0,232.7 419.5,234.6 420.2,236.6 421.0,238.7 421.7,241.0 422.5,243.4 423.2,245.6 423.9,247.8 424.5,249.8 425.1,251.7 425.7,253.6 426.2,255.4 426.8,257.3 427.3,259.4 427.8,261.5 428.3,263.9 428.8,266.3 429.3,268.7 429.7,270.9 430.1,272.9 430.5,274.7 430.8,276.6 431.1,278.4 431.4,279.8 431.7,280.8 432.0,281.2 432.4,280.8 432.7,279.8 433.1,278.4 433.5,276.6 433.9,274.7 434.3,272.9 434.7,270.9 435.1,268.7 435.5,266.3 435.9,263.9 436.2,261.5 436.6,259.4 436.9,257.3 437.2,255.4 437.4,253.5 437.7,251.6 438.0,249.7 438.5,247.8 439.1,245.8 439.8,243.7 440.6,241.5 441.3,239.5 442.1,237.6 442.9,236.0 443.6,234.7 444.3,233.6 445.0,232.7 445.7,231.9 446.4,231.1 447.2,230.4 448.1,229.8 448.9,229.2 449.9,228.7 450.9,228.3 451.9,228.0 453.1,227.9 454.3,228.0 455.6,228.3 457.0,228.8 458.5,229.2 460.1,229.6 462.0,229.8 464.2,229.8 466.6,229.6 469.2,229.4 471.9,229.1 474.5,228.9 477.0,228.7 479.4,228.7 482.0,228.7 484.4,228.8 486.7,228.8 488.6,228.9 490.0,228.9" stroke="#b9b9b9" stroke-width="1.25"/>
<path d="M389.9,230.1 390.4,229.7 391.3,229.1 392.2,228.6 393.0,228.1 393.6,227.6 394.0,227.1 394.5,226.6 395.1,226.2 396.2,225.8 398.0,225.5 399.7,225.4 M418.8,225.4 418.8,225.4 420.4,226.1 421.3,227.0 421.7,228.1 421.8,229.3 422.0,230.6 422.5,232.0 423.2,233.4 424.0,234.9 424.7,236.6 425.5,238.2 426.2,239.9 426.9,241.4 427.5,242.8 428.1,244.2 428.7,245.5 429.2,246.8 429.8,248.2 430.3,249.7 430.8,251.2 431.3,252.9 431.8,254.6 432.3,256.3 432.7,257.9 433.1,259.3 433.5,260.6 433.8,262.0 434.1,263.2 434.4,264.3 434.7,265.0 435.0,265.2 435.4,265.0 435.7,264.3 436.1,263.2 436.5,262.0 436.9,260.6 437.3,259.3 437.7,257.9 438.1,256.3 438.5,254.6 438.9,252.9 439.2,251.2 439.6,249.7 439.9,248.2 440.2,246.8 440.4,245.4 440.7,244.1 441.0,242.8 441.5,241.4 442.1,240.0 442.8,238.4 443.6,236.9 444.3,235.5 445.1,234.1 445.9,233.0 446.6,232.1 447.3,231.3 448.0,230.6 448.7,230.0 449.4,229.5 450.2,229.0 451.1,228.5 451.9,228.1 452.9,227.8 453.9,227.5 454.9,227.3 456.1,227.2 457.3,227.2 458.6,227.2 460.0,227.4 461.5,227.5 463.1,227.7 465.0,227.8 467.2,227.9 469.7,227.9 472.4,227.9 475.1,227.9 477.7,228.0 480.0,228.1 482.1,228.2 484.1,228.3 485.9,228.5 487.6,228.7 489.0,228.8 490.0,228.9" stroke="#b9b9b9" stroke-width="1.25"/>
<path d="M389.9,229.7 390.4,229.1 391.3,228.2 392.2,227.4 393.0,226.9 393.7,226.6 394.3,226.4 394.9,226.4 395.7,226.4 396.7,226.4 398.0,226.3 399.9,226.0 402.3,225.4 402.5,225.4 M411.8,225.4 411.8,225.4 413.0,227.0 413.8,229.1 414.2,231.8 414.6,234.7 415.0,237.9 415.5,241.1 416.2,244.5 417.0,248.3 417.7,252.2 418.5,256.2 419.2,260.1 419.9,263.8 420.5,267.2 421.1,270.5 421.7,273.7 422.2,276.9 422.8,280.1 423.3,283.6 423.8,287.4 424.3,291.4 424.8,295.5 425.3,299.6 425.7,303.4 426.1,306.8 426.5,310.0 426.8,313.2 427.1,316.2 427.4,318.7 427.7,320.4 428.0,321.0 428.4,320.4 428.7,318.7 429.1,316.2 429.5,313.2 429.9,310.0 430.3,306.8 430.7,303.4 431.1,299.6 431.5,295.5 431.9,291.4 432.2,287.4 432.6,283.6 432.9,280.1 433.2,276.8 433.4,273.5 433.7,270.3 434.0,267.1 434.5,263.8 435.1,260.3 435.8,256.7 436.6,253.1 437.3,249.6 438.1,246.4 438.9,243.6 439.6,241.4 440.3,239.5 441.0,237.8 441.7,236.5 442.4,235.2 443.2,234.0 444.1,233.0 444.9,232.1 445.9,231.4 446.9,230.7 447.9,230.2 449.1,229.7 450.3,229.3 451.6,229.0 453.0,228.7 454.5,228.5 456.1,228.4 458.0,228.3 460.1,228.3 462.5,228.4 465.0,228.5 467.6,228.7 470.3,228.8 473.0,228.9 475.9,229.0 479.1,229.0 482.4,228.9 485.5,228.9 488.1,228.9 490.0,228.9" stroke="#b9b9b9" stroke-width="1.25"/>
<path d="M389.9,227.6 390.3,227.4 391.2,227.1 392.1,226.9 393.0,226.6 394.0,226.3 395.2,226.0 396.5,225.6 397.2,225.4 M399.8,225.4 399.8,225.4 400.6,225.9 401.2,226.7 401.8,227.7 402.3,228.9 402.9,230.1 403.5,231.3 404.2,232.6 405.0,234.0 405.7,235.5 406.5,236.9 407.2,238.4 407.9,239.8 408.5,241.1 409.1,242.3 409.7,243.5 410.2,244.7 410.8,245.9 411.3,247.2 411.8,248.6 412.3,250.2 412.8,251.7 413.3,253.2 413.7,254.6 414.1,255.9 414.5,257.1 414.8,258.3 415.1,259.5 415.4,260.4 415.7,261.0 416.0,261.3 416.4,261.0 416.7,260.4 417.1,259.5 417.5,258.3 417.9,257.1 418.3,255.9 418.7,254.6 419.1,253.2 419.5,251.7 419.9,250.1 420.2,248.6 420.6,247.2 420.9,245.9 421.2,244.7 421.4,243.4 421.7,242.2 422.0,241.0 422.5,239.8 423.1,238.5 423.8,237.1 424.6,235.8 425.3,234.5 426.1,233.3 426.9,232.2 427.6,231.4 428.3,230.7 429.0,230.1 429.7,229.5 430.4,229.1 431.2,228.6 432.1,228.2 432.9,227.8 433.9,227.5 434.9,227.2 435.9,227.0 437.1,227.0 438.3,227.2 439.6,227.5 441.0,227.9 442.5,228.4 444.1,228.8 446.0,229.2 448.0,229.4 450.0,229.6 452.2,229.8 454.7,230.0 457.6,230.1 461.0,230.1 465.4,230.0 470.7,229.8 476.4,229.6 482.0,229.3 486.7,229.1 490.0,228.9" stroke="#b9b9b9" stroke-width="1.25"/>
<path d="M389.9,229.2 390.4,229.0 391.3,228.7 392.2,228.5 393.0,228.2 393.5,228.0 393.7,227.7 393.9,227.4 394.4,227.2 395.7,226.9 398.0,226.7 402.0,226.4 407.4,226.0 413.5,225.6 418.2,225.4 M428.8,225.4 428.8,225.4 431.0,225.9 432.0,226.6 432.3,227.5 432.2,228.5 432.2,229.6 432.5,230.6 433.2,231.8 434.0,233.0 434.7,234.3 435.5,235.7 436.2,237.0 436.9,238.2 437.5,239.3 438.1,240.4 438.7,241.5 439.2,242.6 439.8,243.6 440.3,244.8 440.8,246.1 441.3,247.4 441.8,248.8 442.3,250.1 442.7,251.4 443.1,252.5 443.5,253.6 443.8,254.7 444.1,255.7 444.4,256.5 444.7,257.1 445.0,257.3 445.4,257.1 445.7,256.5 446.1,255.7 446.5,254.7 446.9,253.6 447.3,252.5 447.7,251.4 448.1,250.1 448.5,248.8 448.9,247.4 449.2,246.1 449.6,244.8 449.9,243.6 450.2,242.5 450.4,241.4 450.7,240.4 451.0,239.3 451.5,238.2 452.1,237.0 452.8,235.8 453.6,234.6 454.3,233.5 455.1,232.4 455.9,231.5 456.6,230.7 457.3,230.1 458.0,229.6 458.7,229.1 459.4,228.7 460.2,228.3 461.1,227.9 461.9,227.5 462.9,227.1 463.9,226.9 464.9,226.8 466.1,226.8 467.3,227.2 468.6,227.8 470.0,228.6 471.5,229.3 473.1,230.0 475.0,230.4 477.3,230.5 480.1,230.4 483.1,230.1 485.9,229.9 488.3,229.6 490.0,229.4 490.9,229.3 491.1,229.2 490.9,229.1 490.6,229.0 490.2,229.0 490.0,228.9" stroke="#b9b9b9" stroke-width="1.25"/>
<path d="M389.9,227.3 390.4,227.5 391.3,227.7 392.2,227.9 393.0,228.0 393.7,228.0 394.3,227.8 395.0,227.6 395.8,227.3 396.7,227.1 398.0,226.8 399.8,226.4 402.0,225.8 403.6,225.4 M410.6,225.4 410.6,225.4 411.7,226.7 412.5,228.6 413.0,230.9 413.3,233.6 413.7,236.3 414.3,239.2 415.0,242.1 415.8,245.4 416.5,248.9 417.3,252.3 418.0,255.8 418.7,259.0 419.3,262.0 419.9,264.9 420.5,267.6 421.0,270.4 421.6,273.3 422.1,276.3 422.6,279.6 423.1,283.2 423.6,286.8 424.1,290.3 424.5,293.6 424.9,296.6 425.3,299.4 425.6,302.3 425.9,304.9 426.2,307.1 426.5,308.5 426.8,309.1 427.2,308.5 427.5,307.1 427.9,304.9 428.3,302.3 428.7,299.4 429.1,296.6 429.5,293.6 429.9,290.3 430.3,286.8 430.7,283.1 431.0,279.6 431.4,276.3 431.7,273.3 432.0,270.3 432.2,267.5 432.5,264.7 432.8,261.9 433.3,259.0 433.9,256.0 434.6,252.8 435.4,249.6 436.1,246.6 436.9,243.8 437.7,241.4 438.4,239.4 439.1,237.7 439.8,236.3 440.5,235.1 441.2,234.0 442.0,233.0 442.9,232.0 443.7,231.2 444.7,230.5 445.7,229.9 446.7,229.5 447.9,229.2 449.1,229.1 450.4,229.2 451.8,229.5 453.3,229.8 454.9,230.0 456.8,230.1 458.9,230.0 461.2,229.9 463.7,229.7 466.3,229.5 469.0,229.3 471.8,229.1 474.9,229.0 478.3,229.0 481.8,228.9 485.2,228.9 488.0,228.9 490.0,228.9" stroke="#b9b9b9" stroke-width="1.25"/>
<path d="M389.9,228.5 390.4,228.0 391.3,227.3 392.2,226.7 393.0,226.3 393.7,226.1 394.2,226.2 394.7,226.3 395.4,226.5 396.5,226.6 398.0,226.6 400.3,226.3 403.2,225.6 404.2,225.4 M414.8,225.4 414.8,225.4 416.2,227.2 417.0,229.8 417.4,232.8 417.7,236.3 418.0,240.0 418.5,243.7 419.2,247.7 420.0,252.1 420.7,256.7 421.5,261.3 422.2,265.9 422.9,270.2 423.5,274.2 424.1,278.0 424.7,281.7 425.2,285.4 425.8,289.3 426.3,293.3 426.8,297.7 427.3,302.4 427.8,307.2 428.3,311.9 428.7,316.4 429.1,320.3 429.5,324.1 429.8,327.9 430.1,331.4 430.4,334.3 430.7,336.3 431.0,337.0 431.4,336.3 431.7,334.3 432.1,331.4 432.5,327.9 432.9,324.1 433.3,320.3 433.7,316.4 434.1,311.9 434.5,307.2 434.9,302.4 435.2,297.7 435.6,293.3 435.9,289.2 436.2,285.3 436.4,281.5 436.7,277.8 437.0,274.0 437.5,270.2 438.1,266.2 438.8,261.9 439.6,257.7 440.3,253.6 441.1,249.9 441.9,246.7 442.6,244.0 443.3,241.8 444.0,239.9 444.7,238.3 445.4,236.8 446.2,235.5 447.1,234.2 447.9,233.2 448.9,232.3 449.9,231.6 450.9,231.0 452.1,230.4 453.3,230.0 454.6,229.7 456.0,229.5 457.5,229.4 459.1,229.3 461.0,229.1 463.2,228.9 465.6,228.7 468.2,228.6 470.8,228.4 473.5,228.3 476.0,228.3 478.6,228.3 481.3,228.4 483.9,228.5 486.4,228.7 488.5,228.8 490.0,228.9" stroke="#b9b9b9" stroke-width="1.25"/>
<path d="M389.9,226.9 390.4,227.2 391.3,227.6 392.2,227.9 393.0,228.0 393.6,228.0 394.0,227.9 394.4,227.6 395.1,227.4 396.2,227.1 398.0,226.9 400.9,226.5 404.7,225.8 407.5,225.4 M419.8,225.4 419.8,225.4 421.5,226.8 422.3,228.8 422.7,231.2 422.9,233.9 423.1,236.9 423.5,239.8 424.2,242.9 425.0,246.4 425.7,250.0 426.5,253.6 427.2,257.2 427.9,260.6 428.5,263.7 429.1,266.7 429.7,269.6 430.2,272.6 430.8,275.6 431.3,278.8 431.8,282.2 432.3,285.9 432.8,289.7 433.3,293.4 433.7,296.9 434.1,300.0 434.5,302.9 434.8,305.9 435.1,308.7 435.4,310.9 435.7,312.5 436.0,313.1 436.4,312.5 436.7,310.9 437.1,308.7 437.5,305.9 437.9,302.9 438.3,300.0 438.7,296.9 439.1,293.4 439.5,289.7 439.9,285.9 440.2,282.2 440.6,278.8 440.9,275.6 441.2,272.5 441.4,269.5 441.7,266.6 442.0,263.6 442.5,260.6 443.1,257.4 443.8,254.1 444.6,250.8 445.3,247.6 446.1,244.6 446.9,242.1 447.6,240.0 448.3,238.3 449.0,236.8 449.7,235.5 450.4,234.4 451.2,233.3 452.1,232.4 452.9,231.6 453.9,230.9 454.9,230.3 455.9,229.8 457.1,229.4 458.3,228.9 459.6,228.5 461.0,228.1 462.5,227.9 464.1,227.7 466.0,227.7 468.2,227.8 470.8,228.2 473.5,228.7 476.2,229.2 478.8,229.6 481.0,229.8 483.0,229.8 484.8,229.7 486.4,229.5 487.9,229.2 489.1,229.0 490.0,228.9" stroke="#b9b9b9" stroke-width="1.25"/>
<path d="M389.9,227.4 390.4,227.1 391.3,226.7 392.2,226.4 393.0,226.1 393.8,226.0 394.6,225.9 395.4,225.9 396.2,225.9 397.1,225.9 398.0,225.8 399.0,225.7 399.9,225.4 M404.3,225.4 404.3,225.4 405.1,226.4 405.7,227.8 406.3,229.4 406.8,231.2 407.4,233.2 408.0,235.2 408.7,237.4 409.5,239.7 410.2,242.2 411.0,244.6 411.7,247.1 412.4,249.4 413.0,251.5 413.6,253.6 414.2,255.6 414.7,257.6 415.3,259.6 415.8,261.8 416.3,264.1 416.8,266.7 417.3,269.2 417.8,271.8 418.2,274.1 418.6,276.2 419.0,278.3 419.3,280.3 419.6,282.2 419.9,283.7 420.2,284.8 420.5,285.2 420.9,284.8 421.2,283.7 421.6,282.2 422.0,280.3 422.4,278.3 422.8,276.2 423.2,274.1 423.6,271.8 424.0,269.2 424.4,266.6 424.7,264.1 425.1,261.8 425.4,259.6 425.7,257.5 425.9,255.5 426.2,253.5 426.5,251.5 427.0,249.4 427.6,247.2 428.3,245.0 429.1,242.7 429.8,240.5 430.6,238.5 431.4,236.8 432.1,235.4 432.8,234.2 433.5,233.2 434.2,232.3 434.9,231.5 435.7,230.8 436.6,230.1 437.4,229.5 438.4,229.0 439.4,228.6 440.4,228.3 441.6,228.1 442.8,228.1 444.1,228.4 445.5,228.7 447.0,229.1 448.6,229.5 450.5,229.7 452.5,229.8 454.7,230.0 457.0,230.0 459.6,230.1 462.4,230.1 465.5,230.0 469.3,229.9 473.9,229.7 478.7,229.5 483.3,229.2 487.2,229.0 490.0,228.9" stroke="#b9b9b9" stroke-width="1.25"/>
<path d="M389.9,226.7 390.4,226.9 391.3,227.1 392.2,227.3 393.0,227.4 393.9,227.1 394.8,226.5 395.7,225.8 396.4,225.4 M398.3,225.4 398.3,225.4 399.0,226.3 399.6,227.6 400.2,229.3 400.8,231.2 401.4,233.2 402.0,235.2 402.7,237.4 403.5,239.7 404.2,242.2 405.0,244.6 405.7,247.1 406.4,249.4 407.0,251.5 407.6,253.6 408.2,255.6 408.7,257.6 409.3,259.6 409.8,261.8 410.3,264.1 410.8,266.7 411.3,269.2 411.8,271.8 412.2,274.1 412.6,276.2 413.0,278.3 413.3,280.3 413.6,282.2 413.9,283.7 414.2,284.8 414.5,285.2 414.9,284.8 415.2,283.7 415.6,282.2 416.0,280.3 416.4,278.3 416.8,276.2 417.2,274.1 417.6,271.8 418.0,269.2 418.4,266.6 418.7,264.1 419.1,261.8 419.4,259.6 419.7,257.5 419.9,255.5 420.2,253.5 420.5,251.5 421.0,249.4 421.6,247.2 422.3,245.0 423.1,242.7 423.8,240.5 424.6,238.5 425.4,236.8 426.1,235.4 426.8,234.2 427.5,233.2 428.2,232.3 428.9,231.5 429.7,230.8 430.6,230.1 431.4,229.5 432.4,229.0 433.4,228.6 434.4,228.3 435.6,228.1 436.8,228.1 438.1,228.4 439.5,228.7 441.0,229.1 442.6,229.4 444.5,229.6 446.5,229.5 448.5,229.3 450.6,229.0 453.1,228.8 456.0,228.5 459.5,228.4 464.0,228.4 469.6,228.5 475.7,228.6 481.5,228.7 486.5,228.8 490.0,228.9" stroke="#b9b9b9" stroke-width="1.25"/>
<path d="M389.9,247.0 389.9,247.0 390.2,245.6 390.5,243.7 390.8,241.7 391.1,239.6 391.5,237.6 392.0,236.0 392.5,234.7 393.1,233.5 393.8,232.5 394.4,231.6 395.2,230.8 396.0,230.0 396.9,229.3 397.8,228.7 398.8,228.2 399.8,227.7 400.9,227.3 402.0,227.0 403.2,226.8 404.4,226.6 405.8,226.6 407.1,226.5 408.5,226.5 410.0,226.5 411.7,226.5 413.6,226.5 415.5,226.5 417.3,226.5 418.9,226.5 420.0,226.5" stroke="#b9b9b9" stroke-width="1.25"/>
<path d="M389.9,238.0 389.9,238.0 390.3,237.2 390.7,236.2 391.2,235.1 391.8,234.0 392.4,232.9 393.0,232.0 393.7,231.2 394.5,230.6 395.3,230.0 396.2,229.4 397.1,228.9 398.0,228.5 398.9,228.1 399.9,227.8 400.8,227.5 401.8,227.3 402.9,227.1 404.0,227.0 405.3,226.9 406.8,226.9 408.4,226.9 409.9,226.9 411.1,227.0 412.0,227.0" stroke="#b9b9b9" stroke-width="1.25"/>
<path d="M441.0,226.0 441.4,226.7 441.8,227.6 442.4,228.7 443.1,230.1 443.8,232.0 444.6,234.5 445.5,237.7 446.5,241.5 447.5,245.7 448.6,250.2 449.7,254.9 450.8,259.5 451.9,264.7 453.0,270.7 454.1,276.8 455.2,282.4 456.2,286.6 457.1,288.7 457.9,288.3 458.6,285.8 459.3,282.0 459.9,277.6 460.6,273.3 461.2,269.9 461.9,267.2 462.5,264.6 463.1,262.2 463.7,259.9 464.5,257.6 465.4,255.3 466.5,253.0 467.7,250.7 469.1,248.4 470.5,246.3 472.1,244.4 473.8,242.8 475.5,241.6 477.2,240.8 479.0,240.3 481.1,239.8 483.5,239.3 486.2,238.7 489.6,237.9 493.5,237.1 497.7,236.2 501.9,235.4 506.1,234.6 510.0,234.0 513.4,233.6 516.6,233.2 519.6,233.0 522.7,232.8 526.1,232.6 530.0,232.4 534.5,232.1 539.6,231.8 545.0,231.4 550.4,231.1 555.5,231.0 560.0,231.0 563.8,231.2 567.0,231.7 570.0,232.2 573.0,232.8 576.2,233.4 580.0,234.0 584.4,234.5 589.3,235.1 594.4,235.6 599.6,236.1 604.9,236.6 610.0,237.0 614.8,237.3 619.5,237.6 624.2,237.8 629.0,238.0 634.2,238.0 640.0,238.0 646.9,237.8 655.0,237.5 663.4,237.1 671.4,236.6 678.2,236.3 683.0,236.0" stroke="#b9b9b9" stroke-width="1.25"/>
<path d="M436.0,225.5 436.6,225.6 437.5,225.7 438.6,225.9 439.7,226.2 440.9,226.5 442.0,227.0 443.1,227.5 444.2,228.1 445.4,228.8 446.5,229.6 447.6,230.8 448.8,232.4 449.8,234.5 450.8,237.0 451.8,239.9 452.8,242.9 453.8,246.0 455.0,249.0 456.3,252.0 457.6,255.2 459.0,258.4 460.4,261.6 461.9,264.8 463.3,267.8 464.7,270.8 466.2,273.8 467.6,276.8 469.1,279.6 470.4,282.2 471.7,284.5 472.8,286.5 473.8,288.3 474.7,290.0 475.6,291.3 476.6,292.2 477.9,292.8 479.3,292.8 480.9,292.4 482.6,291.5 484.4,290.5 486.3,289.5 488.3,288.7 490.5,288.0 493.0,287.4 495.6,286.7 498.2,286.1 500.7,285.3 502.9,284.5 504.9,283.6 506.7,282.8 508.4,281.9 510.0,280.9 511.6,279.7 513.3,278.2 515.1,276.5 517.0,274.5 518.9,272.3 520.7,270.0 522.3,267.8 523.8,265.8 524.8,263.9 525.5,262.1 526.0,260.4 526.6,258.7 527.3,257.0 528.3,255.3 529.7,253.5 531.3,251.8 533.0,250.0 534.9,248.2 536.8,246.5 538.8,244.9 540.8,243.3 542.9,241.7 545.1,240.2 547.3,238.8 549.4,237.5 551.2,236.6 552.9,236.0 554.3,235.6 555.7,235.4 557.0,235.3 558.3,235.4 559.6,235.5 561.0,235.6 562.4,235.8 563.8,236.1 565.1,236.5 566.5,237.1 567.9,238.0 569.3,239.1 570.6,240.3 572.0,241.8 573.3,243.5 574.7,245.6 576.0,248.0 577.4,250.9 578.7,254.1 580.1,257.8 581.5,261.6 582.8,265.7 584.0,270.0 585.1,274.5 586.2,279.4 587.2,284.5 588.2,289.7 589.1,294.9 590.0,300.0 590.8,305.1 591.5,310.4 592.2,315.6 592.8,320.7 593.4,325.6 594.0,330.0 594.6,334.1 595.2,338.1 595.8,341.9 596.3,345.2 596.5,346.9" stroke="#b9b9b9" stroke-width="1.25"/>
<path d="M432.0,225.5 433.2,225.9 434.8,226.2 436.7,226.7 438.8,227.5 440.8,228.6 442.5,230.3 444.0,232.6 445.4,235.6 446.8,238.9 448.1,242.5 449.4,245.9 450.8,249.0 452.2,251.8 453.5,254.4 454.9,256.9 456.2,259.5 457.6,262.2 459.0,265.0 460.4,267.9 461.9,270.8 463.3,273.8 464.7,277.0 466.1,280.5 467.5,284.5 468.8,289.0 470.2,293.9 471.5,299.2 472.7,304.7 473.8,310.2 474.8,315.8 475.6,321.5 476.3,327.8 476.9,334.1 477.4,340.1 477.9,345.5 478.1,346.9 M485.6,346.9 485.7,346.2 486.2,341.6 486.7,336.6 487.2,331.6 487.7,327.3 488.3,324.0 488.9,321.8 489.6,320.4 490.3,319.6 491.1,319.2 491.8,319.0 492.5,318.9 493.2,319.1 493.9,319.7 494.6,320.6 495.3,321.5 496.0,322.0 496.7,322.0 497.4,321.5 498.1,320.9 498.8,319.9 499.5,318.4 500.2,316.4 500.8,313.7 501.4,310.0 501.9,305.4 502.3,300.1 502.8,294.7 503.4,289.4 504.0,284.5 504.7,280.0 505.5,275.5 506.4,271.1 507.3,266.9 508.3,263.0 509.2,259.5 510.2,256.4 511.1,253.6 512.1,251.2 513.1,248.9 514.2,246.8 515.4,244.9 516.7,243.1 518.1,241.5 519.6,240.0 521.0,238.7 522.5,237.6 523.8,236.6 524.6,235.8 525.1,235.1 525.5,234.6 526.2,234.2 527.6,233.9 530.0,233.5 533.7,233.1 538.6,232.7 544.1,232.3 549.9,232.0 555.3,231.9 560.0,232.0 563.9,232.3 567.4,232.7 570.6,233.3 573.7,234.1 576.8,235.0 580.0,236.0 583.3,237.2 586.7,238.6 590.0,240.1 593.3,241.7 596.7,243.4 600.0,245.0 603.2,246.7 606.3,248.5 609.4,250.4 612.6,252.1 616.1,253.7 620.0,255.0 624.4,256.0 629.1,256.9 634.2,257.6 639.4,258.1 644.7,258.2 650.0,258.0 655.7,257.2 662.0,255.9 668.4,254.2 674.3,252.5 679.4,251.0 683.0,250.0" stroke="#b9b9b9" stroke-width="1.25"/>
<path d="M440.0,228.0 441.2,230.8 443.0,234.8 445.0,239.4 447.1,244.1 449.1,248.2 450.8,251.2 452.1,252.9 453.2,253.9 454.2,254.3 455.2,254.4 456.1,254.3 457.1,254.3 458.1,254.3 459.0,254.2 459.9,254.0 460.8,253.5 461.9,253.0 463.3,252.2 464.9,251.2 466.7,249.8 468.6,248.3 470.7,246.8 472.8,245.3 475.0,244.0 477.3,242.8 479.6,241.7 482.0,240.7 484.5,239.7 487.2,238.8 490.0,238.0 492.9,237.3 495.9,236.7 499.1,236.2 502.4,235.8 506.0,235.4 510.0,235.0 514.4,234.6 519.3,234.1 524.4,233.8 529.6,233.4 534.9,233.1 540.0,233.0 545.0,232.9 550.0,232.9 555.0,233.0 560.0,233.2 565.0,233.5 570.0,234.0 575.0,234.7 580.0,235.6 585.0,236.7 590.0,237.8 595.0,238.9 600.0,240.0 605.0,241.1 610.0,242.2 615.0,243.4 620.0,244.4 625.0,245.3 630.0,246.0 635.1,246.4 640.3,246.6 645.4,246.6 650.5,246.5 655.4,246.3 660.0,246.0 664.5,245.5 669.0,244.8 673.4,244.0 677.3,243.2 680.6,242.5 683.0,242.0" stroke="#b9b9b9" stroke-width="1.25"/>
<path d="M445.0,228.0 446.7,228.4 449.0,229.0 451.8,229.7 454.7,230.4 457.5,231.2 460.0,232.0 462.1,232.9 464.1,233.8 466.0,234.9 467.9,235.9 469.7,236.8 471.7,237.6 473.7,238.3 475.7,239.1 477.7,239.7 479.8,240.2 481.9,240.6 484.2,240.8 486.5,240.7 488.7,240.4 491.0,239.9 493.6,239.3 496.5,238.7 500.0,238.0 504.2,237.2 508.9,236.2 514.1,235.1 519.5,234.1 524.8,233.1 530.0,232.4 535.0,231.9 540.0,231.4 545.0,231.1 550.0,230.9 555.0,230.9 560.0,231.0 565.0,231.3 570.0,231.9 575.0,232.6 580.0,233.4 585.0,234.2 590.0,235.0 595.0,235.9 600.0,236.9 605.0,238.0 610.0,239.0 615.0,239.9 620.0,240.5 625.0,240.9 629.9,241.1 634.8,241.1 639.8,241.0 644.8,240.8 650.0,240.5 655.7,240.0 662.0,239.3 668.4,238.5 674.3,237.8 679.4,237.1 683.0,236.6" stroke="#b9b9b9" stroke-width="1.25"/>
<path d="M445.0,227.0 447.2,227.8 450.4,229.0 454.1,230.4 458.0,231.8 461.7,233.0 465.0,234.0 467.7,234.7 470.2,235.2 472.5,235.6 474.8,235.8 477.3,236.0 480.0,236.0 482.9,235.9 485.9,235.7 489.1,235.3 492.4,234.9 496.0,234.4 500.0,234.0 504.4,233.5 509.3,233.0 514.4,232.4 519.6,231.9 524.9,231.4 530.0,231.0 535.0,230.7 540.0,230.4 545.0,230.1 550.0,230.0 555.0,229.9 560.0,230.0 564.9,230.3 569.6,230.7 574.4,231.2 579.3,231.9 584.4,232.5 590.0,233.0 595.9,233.6 602.1,234.2 608.6,234.9 615.3,235.4 622.5,235.8 630.0,236.0 638.7,235.8 648.7,235.3 659.0,234.7 668.8,234.0 677.1,233.4 683.0,233.0" stroke="#b9b9b9" stroke-width="1.25"/>
<path d="M450.0,226.0 452.2,226.5 455.2,227.2 458.8,228.0 462.6,228.8 466.4,229.5 470.0,230.0 473.2,230.2 476.3,230.3 479.4,230.3 482.6,230.2 486.1,230.1 490.0,230.0 494.3,229.9 498.9,229.7 503.8,229.5 508.9,229.3 514.3,229.1 520.0,229.0 526.1,228.9 532.6,228.9 539.4,228.9 546.3,228.9 553.2,228.9 560.0,229.0 566.7,229.1 573.3,229.3 580.0,229.5 586.7,229.7 593.3,229.9 600.0,230.0 606.6,230.1 613.2,230.1 619.8,230.1 626.4,230.1 633.2,230.1 640.0,230.0 647.5,229.9 655.7,229.7 664.0,229.5 671.7,229.3 678.3,229.1 683.0,229.0" stroke="#b9b9b9" stroke-width="1.25"/>
<path d="M555.0,229.5 556.7,230.1 559.1,230.9 562.0,231.9 564.9,233.1 567.7,234.5 570.0,236.0 571.8,237.7 573.3,239.4 574.7,241.3 575.9,243.5 577.1,246.1 578.3,249.0 579.5,252.4 580.6,256.2 581.7,260.4 582.7,264.8 583.7,269.3 584.6,274.0 585.4,278.7 586.1,283.5 586.8,288.5 587.4,293.8 588.1,299.4 588.8,305.3 589.4,312.1 590.1,319.8 590.8,327.9 591.5,335.6 592.2,342.5 592.8,346.9 M603.3,346.9 604.3,343.9 605.6,339.0 607.1,333.6 608.6,328.1 610.2,322.7 612.0,318.0 613.9,313.8 616.0,309.7 618.1,305.9 620.4,302.4 622.7,299.1 625.0,296.0 627.3,293.3 629.7,291.0 632.1,288.9 634.6,287.0 637.2,285.1 640.0,283.0 643.0,280.8 646.2,278.6 649.5,276.3 652.9,274.1 656.4,272.0 660.0,270.0 663.9,268.0 668.3,266.1 672.8,264.2 676.9,262.5 680.5,261.1 683.0,260.0" stroke="#b9b9b9" stroke-width="1.25"/>
<path d="M560.0,230.0 561.6,231.1 563.8,232.5 566.5,234.2 569.2,236.1 571.8,238.0 574.0,240.0 575.7,241.9 577.2,243.7 578.6,245.6 579.9,247.7 581.2,250.2 582.5,253.2 583.9,256.9 585.4,260.9 586.9,265.4 588.3,270.1 589.6,275.1 590.8,280.3 591.9,285.8 592.8,291.6 593.7,297.7 594.5,303.9 595.3,309.9 596.0,315.8 596.6,321.5 597.2,327.4 597.6,333.2 598.1,338.7 598.6,343.7 599.0,346.9 M610.3,346.9 611.1,344.1 612.3,339.4 613.5,334.4 614.8,329.3 616.3,324.4 618.0,320.0 619.9,316.1 622.1,312.4 624.4,309.0 626.8,305.8 629.4,302.8 632.0,300.0 634.7,297.5 637.6,295.4 640.6,293.5 643.7,291.7 646.8,289.9 650.0,288.0 653.3,285.9 656.8,283.8 660.3,281.6 663.8,279.6 667.0,277.7 670.0,276.0 672.7,274.6 675.3,273.3 677.8,272.2 679.9,271.3 681.7,270.6 683.0,270.0" stroke="#b9b9b9" stroke-width="1.25"/>
<path d="M565.0,232.0 566.7,233.3 569.0,235.0 571.8,237.1 574.7,239.4 577.5,242.1 580.0,245.0 582.2,248.3 584.4,252.1 586.4,256.2 588.4,260.4 590.3,264.4 592.0,268.0 593.6,271.2 595.0,274.2 596.3,277.1 597.5,279.8 598.8,282.4 600.1,285.0 601.5,287.8 603.0,290.8 604.4,293.8 605.8,296.4 607.2,298.3 608.4,299.2 609.5,298.9 610.4,297.6 611.3,295.7 612.2,293.3 613.1,291.0 614.0,289.0 615.0,287.1 616.0,284.9 617.0,282.8 618.1,280.8 619.1,279.2 620.2,278.2 621.3,277.8 622.5,277.9 623.6,278.4 624.8,279.1 625.9,280.0 627.0,281.0 628.0,282.1 629.0,283.5 630.0,285.1 631.0,286.8 632.0,288.4 633.0,290.0 634.1,291.5 635.3,293.2 636.5,294.8 637.7,296.3 638.9,297.7 640.0,299.0 641.0,300.2 641.9,301.3 642.8,302.4 643.7,303.2 644.7,303.7 645.8,303.8 647.1,303.5 648.4,302.8 649.9,301.9 651.4,300.6 653.1,299.1 654.9,297.4 656.8,295.3 658.9,292.9 661.1,290.2 663.3,287.4 665.7,284.6 668.0,282.0 670.6,279.4 673.4,276.7 676.3,274.0 679.0,271.6 681.3,269.5 683.0,268.0" stroke="#b9b9b9" stroke-width="1.25"/>
<path d="M568.0,233.0 569.5,234.6 571.7,236.7 574.2,239.3 577.0,242.4 579.6,245.9 582.0,250.0 584.2,254.9 586.3,260.6 588.4,266.9 590.4,273.3 592.3,279.4 594.0,285.0 595.6,290.2 597.1,295.3 598.4,300.1 599.7,304.6 600.9,308.6 602.0,312.0 603.0,314.8 603.9,317.1 604.7,318.9 605.6,320.2 606.4,321.0 607.4,321.1 608.5,320.4 609.6,318.7 610.8,316.6 612.1,314.2 613.4,311.9 614.7,310.1 616.2,308.7 617.7,307.3 619.4,306.1 621.0,305.0 622.5,304.2 623.9,303.8 625.1,303.7 626.1,304.0 627.1,304.5 628.0,305.2 629.0,306.0 630.0,307.0 631.1,308.1 632.2,309.3 633.3,310.7 634.4,312.3 635.5,313.9 636.6,315.6 637.7,317.5 638.7,319.6 639.8,321.8 640.9,324.0 641.9,326.1 643.0,328.0 644.0,329.9 645.0,331.9 646.0,333.8 647.1,335.4 648.2,336.4 649.4,336.6 650.7,335.8 652.1,334.2 653.6,332.0 655.2,329.5 656.8,327.0 658.5,324.7 660.3,322.6 662.1,320.3 664.0,318.0 666.0,315.8 668.0,313.7 670.0,312.0 672.2,310.5 674.7,309.3 677.2,308.2 679.6,307.3 681.6,306.6 683.0,306.0" stroke="#b9b9b9" stroke-width="1.25"/>
<path d="M575.0,233.0 577.7,234.4 581.5,236.3 585.9,238.5 590.7,241.0 595.5,243.5 600.0,246.0 604.2,248.4 608.5,250.9 612.8,253.4 617.0,256.0 621.1,258.9 625.0,262.0 628.7,265.4 632.4,269.1 635.9,272.9 639.2,276.9 642.2,281.0 645.0,285.0 647.4,289.1 649.5,293.2 651.4,297.4 653.0,301.6 654.6,305.8 656.0,310.0 657.3,314.3 658.5,318.7 659.5,323.1 660.3,327.4 661.2,331.4 662.0,335.0 662.8,338.1 663.5,340.9 664.1,343.4 664.7,345.7 665.0,346.9 M671.7,346.9 672.0,345.0 672.7,340.2 673.5,334.3 674.3,327.9 675.2,321.4 676.1,315.3 677.0,310.0 678.0,305.3 679.1,300.9 680.3,296.8 681.4,293.2 682.3,290.2 683.0,288.0" stroke="#b9b9b9" stroke-width="1.25"/>
<path d="M580.0,234.0 582.7,235.5 586.5,237.4 590.9,239.8 595.7,242.4 600.5,245.2 605.0,248.0 609.2,250.9 613.5,254.0 617.8,257.2 622.0,260.6 626.1,264.2 630.0,268.0 633.7,272.1 637.3,276.4 640.8,280.9 644.1,285.5 647.2,290.2 650.0,295.0 652.5,299.9 654.8,305.1 656.9,310.4 658.7,315.6 660.4,320.5 662.0,325.0 663.4,329.1 664.5,332.9 665.5,336.4 666.4,339.7 667.2,342.5 668.0,345.0 668.7,346.9 M677.8,346.9 678.3,343.8 679.0,340.0 679.7,336.2 680.5,332.0 681.2,327.8 682.0,323.8 682.6,320.4 683.0,318.0" stroke="#b9b9b9" stroke-width="1.25"/>
<path d="M560.0,230.0 564.4,230.5 570.4,231.2 577.5,232.0 585.2,232.8 592.9,233.4 600.0,233.8 606.6,233.9 613.2,233.7 619.8,233.4 626.4,233.1 633.2,232.7 640.0,232.5 647.5,232.4 655.7,232.2 664.0,232.1 671.7,232.0 678.3,232.0 683.0,231.9" stroke="#b9b9b9" stroke-width="1.25"/>
<path d="M560.0,231.0 564.4,231.5 570.4,232.1 577.5,232.8 585.2,233.7 592.9,234.6 600.0,235.6 606.9,236.6 614.1,237.8 621.2,239.0 628.1,240.2 634.5,241.6 640.0,243.0 644.5,244.5 648.0,246.1 651.1,247.8 653.9,249.6 656.7,251.3 660.0,253.0 663.9,254.8 668.3,256.7 672.8,258.6 676.9,260.4 680.5,261.9 683.0,263.0" stroke="#b9b9b9" stroke-width="1.25"/>
<path d="M565.0,232.0 568.9,232.5 574.3,233.2 580.6,234.1 587.4,235.1 594.1,236.4 600.0,238.0 605.3,240.0 610.6,242.4 615.6,245.0 620.6,247.8 625.3,250.5 630.0,253.0 634.4,255.4 638.6,257.7 642.6,259.9 646.6,262.2 650.7,264.4 655.0,266.7 659.8,269.1 665.1,271.7 670.6,274.4 675.6,276.8 679.9,278.8 683.0,280.3" stroke="#b9b9b9" stroke-width="1.25"/>
<path d="M570.0,234.0 572.2,235.5 575.4,237.4 579.1,239.8 583.0,242.4 586.7,245.2 590.0,248.0 592.8,251.0 595.6,254.3 598.1,257.8 600.6,261.3 602.8,264.8 605.0,268.0 607.0,271.1 608.8,274.3 610.5,277.4 612.1,280.3 613.6,282.9 615.0,285.0 616.3,286.7 617.4,288.1 618.5,289.2 619.6,289.9 620.7,290.2 622.0,290.0 623.5,289.2 625.0,287.9 626.6,286.1 628.3,284.0 630.1,282.0 632.0,280.0 633.9,278.1 636.0,276.2 638.1,274.2 640.3,272.1 642.6,270.1 645.0,268.0 647.6,265.8 650.2,263.6 653.0,261.3 655.9,259.0 658.9,256.9 662.0,255.0 665.5,253.3 669.5,251.6 673.6,250.1 677.4,248.7 680.7,247.6 683.0,246.8" stroke="#b9b9b9" stroke-width="1.25"/>
<path d="M565.0,233.0 567.7,233.7 571.5,234.7 575.9,235.9 580.7,237.2 585.5,238.6 590.0,240.0 594.2,241.5 598.3,243.3 602.5,245.1 606.7,246.9 610.8,248.5 615.0,250.0 619.2,251.3 623.5,252.7 627.8,253.9 632.0,254.9 636.1,255.6 640.0,256.0 643.6,256.0 646.9,255.6 650.1,254.9 653.3,254.0 656.6,253.0 660.0,252.0 663.9,250.8 668.3,249.2 672.8,247.6 676.9,246.0 680.5,244.7 683.0,243.7" stroke="#b9b9b9" stroke-width="1.25"/>
<path d="M570.0,233.0 573.3,234.0 578.0,235.3 583.4,236.9 589.3,238.6 594.9,240.3 600.0,242.0 604.5,243.7 608.9,245.7 613.1,247.7 617.2,249.5 621.2,251.0 625.0,252.0 628.6,252.4 632.0,252.4 635.3,252.0 638.5,251.4 641.7,250.7 645.0,250.0 648.4,249.2 651.7,248.2 655.1,247.2 658.5,246.0 661.8,245.0 665.0,244.0 668.3,243.1 671.8,242.2 675.2,241.3 678.4,240.5 681.1,239.9 683.0,239.4" stroke="#b9b9b9" stroke-width="1.25"/>
<path d="M575.0,234.0 578.3,235.8 583.0,238.3 588.4,241.2 594.3,244.4 599.9,247.4 605.0,250.0 609.5,252.4 613.9,254.7 618.1,257.0 622.2,259.0 626.2,260.7 630.0,262.0 633.6,262.8 637.1,263.1 640.4,263.2 643.7,263.0 646.8,262.5 650.0,262.0 653.2,261.2 656.3,260.1 659.3,258.8 662.3,257.4 665.2,256.1 668.0,255.0 670.8,254.1 673.8,253.1 676.6,252.3 679.2,251.6 681.4,251.0 683.0,250.5" stroke="#b9b9b9" stroke-width="1.25"/>
<path d="M580.0,236.0 583.4,238.3 588.1,241.6 593.6,245.4 599.5,249.4 605.1,253.4 610.0,257.0 614.2,260.3 618.1,263.6 621.8,266.9 625.3,269.9 628.7,272.7 632.0,275.0 635.3,277.0 638.4,278.7 641.4,280.1 644.4,281.1 647.2,281.8 650.0,282.0 652.6,281.7 655.1,280.8 657.5,279.5 659.9,277.9 662.4,276.4 665.0,275.0 668.0,273.6 671.4,272.0 674.9,270.4 678.2,268.9 681.0,267.6 683.0,266.7" stroke="#b9b9b9" stroke-width="1.25"/>
<path d="M575.0,235.0 577.5,236.6 581.0,238.8 585.1,241.4 589.6,244.2 594.0,247.2 598.0,250.0 601.7,252.9 605.5,256.0 609.2,259.2 612.9,262.3 616.5,265.3 620.0,268.0 623.5,270.4 627.0,272.7 630.4,274.8 633.8,276.7 637.0,278.5 640.0,280.0 642.8,281.4 645.4,282.6 647.8,283.7 650.2,284.5 652.6,284.9 655.0,285.0 657.5,284.5 660.1,283.6 662.6,282.4 665.1,280.9 667.6,279.4 670.0,278.0 672.4,276.5 675.0,274.8 677.4,273.1 679.7,271.5 681.6,270.1 683.0,269.1" stroke="#b9b9b9" stroke-width="1.25"/>
<path d="M590.0,240.0 593.3,240.7 597.8,241.7 603.1,242.8 608.9,243.9 614.7,244.7 620.0,245.0 625.0,244.7 629.9,244.0 634.8,243.0 639.8,241.9 644.8,240.8 650.0,240.0 655.7,239.3 662.0,238.7 668.4,238.1 674.3,237.6 679.4,237.2 683.0,236.9" stroke="#b9b9b9" stroke-width="1.25"/>
<path d="M565.0,231.0 567.7,231.7 571.3,232.6 575.6,233.6 580.4,234.9 585.3,236.3 590.0,238.0 594.8,239.9 599.8,242.2 605.0,244.6 610.2,247.1 615.2,249.6 620.0,252.0 624.5,254.2 629.0,256.3 633.3,258.3 637.4,260.4 641.4,262.6 645.0,265.0 648.4,267.6 651.6,270.3 654.6,273.2 657.3,276.1 659.8,279.1 662.0,282.0 663.9,284.9 665.4,287.9 666.7,290.9 667.8,294.0 668.9,297.0 670.0,300.0 671.1,303.1 672.1,306.2 673.1,309.4 674.0,312.4 675.0,315.3 676.0,318.0 677.2,320.5 678.5,322.9 679.9,325.1 681.1,327.1 682.2,328.8 683.0,330.0" stroke="#b9b9b9" stroke-width="1.25"/>
<path d="M570.0,232.0 573.3,233.9 578.0,236.4 583.4,239.4 589.3,242.8 594.9,246.4 600.0,250.0 604.6,253.9 609.1,258.2 613.4,262.7 617.6,267.1 621.5,271.3 625.0,275.0 628.1,278.1 630.9,280.9 633.3,283.4 635.6,285.7 637.8,287.9 640.0,290.0 642.2,291.9 644.3,293.4 646.3,294.9 648.3,296.3 650.2,298.0 652.0,300.0 653.8,302.7 655.4,306.0 657.1,309.5 658.7,312.9 660.3,315.6 662.0,317.4 663.8,318.0 665.6,317.8 667.5,316.9 669.4,315.8 671.2,314.7 673.0,314.0 674.8,313.6 676.8,313.2 678.7,312.8 680.4,312.5 681.9,312.2 683.0,312.0" stroke="#b9b9b9" stroke-width="1.25"/>
<path d="M565.0,232.0 567.2,233.4 570.4,235.2 574.1,237.4 578.0,239.9 581.7,242.5 585.0,245.0 587.8,247.6 590.5,250.4 593.0,253.3 595.4,256.3 597.7,259.2 600.0,262.0 602.2,264.8 604.3,267.8 606.3,270.7 608.3,273.4 610.2,275.9 612.0,278.0 613.7,279.7 615.4,281.1 616.9,282.2 618.5,283.1 620.2,283.7 622.0,284.0 623.9,284.0 625.9,283.6 627.9,282.9 630.0,282.0 632.4,281.0 635.0,280.0 637.8,278.9 640.9,277.7 644.1,276.4 647.5,275.0 651.1,273.5 655.0,272.0 659.5,270.3 664.8,268.4 670.2,266.5 675.4,264.7 679.9,263.1 683.0,262.0" stroke="#b9b9b9" stroke-width="1.25"/>
<path d="M570.0,233.0 572.0,234.8 574.9,237.3 578.2,240.2 581.8,243.5 585.1,246.8 588.0,250.0 590.4,253.2 592.5,256.6 594.5,260.0 596.4,263.4 598.2,266.8 600.0,270.0 601.8,273.1 603.6,276.2 605.2,279.2 606.9,282.1 608.5,284.7 610.0,287.0 611.4,289.0 612.7,290.7 614.0,292.2 615.3,293.5 616.6,294.4 618.0,295.0 619.5,295.2 620.9,295.0 622.4,294.4 624.1,293.7 625.9,292.9 628.0,292.0 630.4,291.0 633.0,289.9 635.9,288.6 638.9,287.3 641.9,286.1 645.0,285.0 648.2,284.0 651.5,283.1 654.9,282.3 658.4,281.5 661.7,280.8 665.0,280.0 668.3,279.2 671.8,278.4 675.2,277.7 678.4,277.0 681.1,276.4 683.0,276.0" stroke="#b9b9b9" stroke-width="1.25"/>
<path d="M562.0,231.0 564.0,232.3 566.8,234.0 570.1,236.1 573.6,238.3 577.0,240.7 580.0,243.0 582.7,245.4 585.2,247.9 587.7,250.5 590.1,253.1 592.5,255.6 595.0,258.0 597.5,260.2 599.9,262.4 602.3,264.6 604.8,266.6 607.3,268.4 610.0,270.0 612.8,271.5 615.7,272.8 618.7,274.0 621.7,275.0 624.8,275.6 628.0,276.0 631.2,276.0 634.5,275.6 637.9,275.0 641.3,274.1 644.6,273.1 648.0,272.0 651.4,270.6 654.9,269.0 658.3,267.2 661.7,265.3 665.0,263.6 668.0,262.0 671.0,260.6 673.9,259.2 676.8,257.9 679.3,256.7 681.4,255.7 683.0,255.0" stroke="#b9b9b9" stroke-width="1.25"/>
<path d="M460.5,231.0 461.5,230.8 462.9,230.6 464.5,230.4 466.2,230.1 467.9,229.8 469.3,229.6 470.2,229.4 470.6,229.2 471.0,229.1 471.6,228.9 473.0,228.8 475.3,228.6 478.8,228.4 483.1,228.2 488.0,228.1 493.5,227.9 499.2,227.8 505.0,227.7 511.4,227.7 518.5,227.7 525.9,227.8 533.1,227.9 539.7,228.0 545.0,228.2 549.0,228.4 552.0,228.6 554.3,228.8 556.2,229.1 558.0,229.3 560.0,229.6 562.1,229.8 564.1,230.0 566.1,230.2 567.9,230.5 569.8,230.8 571.7,231.3 573.7,231.9 575.7,232.6 577.7,233.4 579.7,234.2 581.6,235.1 583.4,236.0 585.1,236.9 586.8,237.8 588.3,238.7 589.9,239.7 591.3,240.7 592.8,241.8 594.3,243.0 595.7,244.2 597.1,245.5 598.5,246.9 599.9,248.2 601.3,249.6 602.8,251.0 604.2,252.4 605.6,253.8 607.0,255.2 608.5,256.6 610.1,258.0 611.7,259.4 613.5,260.9 615.3,262.3 617.1,263.7 618.9,265.0 620.7,266.0 622.5,266.8 624.3,267.4 626.2,267.9 628.0,268.3 629.7,268.6 631.3,268.9 632.7,269.3 634.0,269.6 635.2,269.8 636.4,270.0 637.7,270.2 639.1,270.3 640.7,270.4 642.3,270.4 644.0,270.4 645.7,270.3 647.4,270.1 649.2,269.8 651.0,269.2 652.8,268.6 654.6,267.8 656.5,266.9 658.4,266.0 660.3,264.9 662.2,263.8 664.2,262.6 666.2,261.3 668.2,259.9 670.1,258.5 672.1,257.1 674.1,255.6 676.3,254.0 678.4,252.3 680.4,250.7 682.1,249.4 683.3,248.4" stroke="#b9b9b9" stroke-width="1.25"/>
<path d="M460.5,231.0 461.5,230.8 462.9,230.6 464.5,230.4 466.2,230.1 467.9,229.8 469.3,229.6 470.2,229.4 470.6,229.2 471.0,229.1 471.6,228.9 473.0,228.8 475.3,228.6 478.8,228.4 483.1,228.2 488.0,228.1 493.5,227.9 499.2,227.8 505.0,227.7 511.4,227.7 518.5,227.7 525.9,227.8 533.1,227.9 539.7,228.0 545.0,228.2 549.0,228.4 552.0,228.6 554.3,228.8 556.2,229.1 558.0,229.3 560.0,229.6 562.1,229.8 564.1,230.0 566.1,230.2 567.9,230.5 569.8,230.8 571.7,231.3 573.7,231.9 575.7,232.6 577.7,233.4 579.7,234.2 581.6,235.1 583.4,236.0 585.1,236.9 586.7,237.8 588.2,238.8 589.7,239.8 591.1,240.8 592.6,242.0 594.0,243.2 595.3,244.5 596.6,245.9 597.9,247.4 599.2,248.9 600.5,250.4 601.7,252.0 602.9,253.6 604.2,255.3 605.4,257.1 606.6,258.9 607.9,260.8 609.2,262.9 610.6,265.1 612.0,267.4 613.4,269.7 614.7,271.9 616.1,273.8 617.5,275.6 618.9,277.2 620.3,278.7 621.7,280.1 623.0,281.4 624.3,282.5 625.5,283.4 626.5,284.3 627.6,285.1 628.7,285.6 629.9,286.0 631.3,286.1 632.9,286.0 634.7,285.7 636.6,285.2 638.6,284.4 640.6,283.5 642.8,282.2 645.0,280.6 647.4,278.6 649.9,276.4 652.4,274.1 654.9,271.8 657.3,269.7 659.7,267.6 662.1,265.6 664.5,263.7 666.8,261.7 669.1,259.9 671.3,258.1 673.6,256.2 675.9,254.4 678.1,252.6 680.2,250.9 681.9,249.6 683.1,248.6" stroke="#b9b9b9" stroke-width="1.25"/>
<path d="M389.9,232.6 390.8,232.0 391.7,231.4 392.6,230.8 393.4,230.3 394.0,229.8 394.6,229.3 395.1,228.7 395.6,228.2 396.1,227.7 396.5,227.3 396.9,227.0 397.2,226.8 397.5,226.6 397.8,226.4 398.1,226.0 398.5,225.4 398.5,225.4 M410.6,225.4 410.6,225.4 411.0,227.1 411.5,229.0 412.0,231.1 412.6,233.4 413.2,235.8 413.8,238.4 414.5,241.2 415.2,244.4 416.0,247.6 416.8,251.0 417.5,254.2 418.2,257.3 418.8,260.2 419.4,262.9 420.0,265.5 420.5,268.2 421.1,270.9 421.6,273.8 422.1,276.9 422.6,280.3 423.1,283.7 423.6,287.1 424.0,290.3 424.4,293.1 424.8,295.8 425.1,298.5 425.4,301.0 425.7,303.1 426.0,304.5 426.3,305.0 426.7,304.5 427.0,303.1 427.4,301.0 427.8,298.5 428.2,295.8 428.6,293.1 429.0,290.3 429.4,287.1 429.8,283.7 430.2,280.3 430.5,276.9 430.9,273.8 431.2,270.9 431.5,268.1 431.7,265.4 432.0,262.7 432.3,260.0 432.8,257.3 433.4,254.4 434.1,251.4 434.9,248.4 435.6,245.5 436.4,242.8 437.2,240.5 437.9,238.6 438.6,237.0 439.3,235.7 440.0,234.5 440.7,233.5 441.5,232.5 442.4,231.6 443.4,230.8 444.4,230.2 445.4,229.6 446.4,229.2 447.4,228.9 448.4,228.8 449.3,228.8 450.2,228.9 451.2,229.2 452.1,229.4 453.2,229.6 454.3,229.8 455.5,230.1 456.7,230.4 457.9,230.7 459.2,230.9 460.5,231.0 461.9,230.9 463.4,230.7 465.0,230.4 466.5,230.1 468.0,229.8 469.3,229.6 470.2,229.4 470.6,229.2 471.0,229.1 471.6,228.9 473.0,228.8 475.3,228.6 478.8,228.4 483.1,228.2 488.0,228.1 493.5,227.9 499.2,227.8 505.0,227.7 511.4,227.7 518.5,227.7 525.9,227.8 533.1,227.9 539.7,228.0 545.0,228.2 549.0,228.4 552.0,228.6 554.3,228.8 556.2,229.1 558.0,229.3 560.0,229.6 562.1,229.8 564.1,230.0 566.1,230.2 567.9,230.5 569.8,230.8 571.7,231.3 573.7,231.9 575.7,232.6 577.7,233.4 579.7,234.2 581.6,235.1 583.4,236.0 585.1,236.9 586.7,237.8 588.3,238.7 589.8,239.7 591.2,240.8 592.7,241.9 594.1,243.1 595.5,244.4 596.9,245.7 598.2,247.1 599.6,248.5 600.9,250.0 602.2,251.5 603.6,253.0 604.9,254.6 606.2,256.1 607.6,257.8 609.0,259.4 610.5,261.1 612.0,263.0 613.6,264.9 615.2,266.7 616.8,268.4 618.4,269.9 620.0,271.2 621.6,272.3 623.2,273.3 624.8,274.2 626.3,275.0 627.8,275.7 629.1,276.4 630.3,277.0 631.4,277.4 632.6,277.8 633.8,278.1 635.2,278.2 636.8,278.2 638.5,278.1 640.3,277.8 642.1,277.4 644.0,276.8 646.0,276.0 648.0,274.9 650.1,273.6 652.3,272.1 654.5,270.5 656.6,268.9 658.8,267.3 661.0,265.7 663.1,264.1 665.3,262.5 667.5,260.8 669.6,259.2 671.7,257.6 673.8,255.9 676.1,254.2 678.3,252.4 680.3,250.8 682.0,249.5 683.2,248.5" stroke="#0000ff" stroke-width="3.4" stroke-linecap="butt"/>
<path d="M425.11,286.15H429.02 M605.06,286.15H644.18" stroke="#ff0000" stroke-width="3" stroke-linecap="butt"/>
</g>
<path d="M409.46,346.90v-2.5 M409.46,225.40v2.5 M487.70,346.90v-2.5 M487.70,225.40v2.5 M565.94,346.90v-2.5 M565.94,225.40v2.5 M644.18,346.90v-2.5 M644.18,225.40v2.5 M389.90,286.15h2.5 M683.30,286.15h-2.5" stroke="#404040" stroke-width="1"/>
<rect x="389.90" y="225.40" width="293.40" height="121.50" fill="none" stroke="#555" stroke-width="1.8" stroke-linejoin="round"/>
<text x="382.4" y="232.00" text-anchor="end" font-size="19.5" fill="#3d3d3d">0</text>
<text x="382.4" y="292.75" text-anchor="end" font-size="19.5" fill="#3d3d3d">-10</text>
<text x="382.4" y="353.50" text-anchor="end" font-size="19.5" fill="#3d3d3d">-20</text>
<text x="409.46" y="371.90" text-anchor="middle" font-size="19.5" fill="#3d3d3d">2</text>
<text x="487.70" y="371.90" text-anchor="middle" font-size="19.5" fill="#3d3d3d">4</text>
<text x="565.94" y="371.90" text-anchor="middle" font-size="19.5" fill="#3d3d3d">6</text>
<text x="644.18" y="371.90" text-anchor="middle" font-size="19.5" fill="#3d3d3d">8</text>
<text x="538.00" y="396.20" text-anchor="middle" font-size="21" fill="#3d3d3d">Frequency [GHz]</text>
<g transform="translate(339.2,286.75) rotate(-90)"><text x="0" y="0" text-anchor="middle" font-size="21" fill="#3d3d3d"><tspan fill="#c8c8c8">|</tspan><tspan dx="0.6" font-style="italic">S</tspan><tspan font-size="16.5" dx="1.0" dy="8.8">11</tspan><tspan dx="0.4" dy="-8.8" fill="#c8c8c8">|</tspan> [dB]</text></g>
<defs><clipPath id="pc2"><rect x="387.4" y="426.9" width="298.4" height="125.6"/></clipPath></defs>
<path d="M409.46,429.40V550.00 M487.70,429.40V550.00 M565.94,429.40V550.00 M644.18,429.40V550.00 M389.90,489.70H683.30" stroke="#e4e4e4" stroke-width="1.3" fill="none"/>
<g clip-path="url(#pc2)" fill="none" stroke-linejoin="round" stroke-linecap="round">
<path d="M389.9,429.4 389.9,429.4 390.3,430.0 390.6,430.7 391.0,431.4 391.4,432.1 391.8,432.7 392.3,433.3 392.9,433.9 393.5,434.5 394.2,435.0 394.9,435.5 395.6,435.8 396.3,436.0 397.0,436.0 397.6,435.9 398.3,435.6 399.0,435.3 399.6,434.8 400.3,434.3 401.0,433.7 401.7,433.0 402.4,432.3 403.1,431.4 403.7,430.5 404.3,429.4 404.3,429.4 M412.3,429.4 412.3,429.4 412.7,430.8 413.1,432.1 413.6,433.5 414.0,435.1 414.5,437.2 415.1,440.0 415.7,443.7 416.5,448.3 417.2,453.3 418.0,458.5 418.7,463.5 419.4,468.0 420.0,472.1 420.6,475.8 421.1,479.4 421.6,482.9 422.1,486.5 422.6,490.2 423.1,494.2 423.6,498.4 424.1,502.6 424.5,506.8 425.0,510.8 425.4,514.6 425.8,518.6 426.2,522.8 426.5,526.9 426.9,530.5 427.2,533.0 427.6,534.1 428.0,533.5 428.5,531.4 428.9,528.4 429.4,524.7 429.8,520.8 430.2,517.1 430.5,513.5 430.8,509.5 431.1,505.4 431.3,501.1 431.6,496.9 431.9,492.8 432.2,488.7 432.6,484.5 432.9,480.2 433.3,476.2 433.7,472.4 434.0,469.0 434.3,466.1 434.6,463.5 434.9,461.2 435.2,459.1 435.5,457.2 435.8,455.3 436.2,453.4 436.6,451.8 437.0,450.2 437.4,448.7 437.9,447.4 438.3,446.0 438.7,444.8 439.0,443.6 439.4,442.4 439.8,441.4 440.2,440.3 440.8,439.3 441.5,438.2 442.2,437.1 443.1,435.9 443.9,434.9 444.9,434.1 445.9,433.5 447.0,433.2 448.2,433.2 449.4,433.4 450.7,433.7 452.0,434.0 453.2,434.2 454.4,434.4 455.6,434.7 456.8,435.0 458.0,435.2 459.2,435.3 460.5,435.3 462.0,435.0 463.6,434.6 465.4,434.0 467.0,433.4 468.3,432.9 469.3,432.6" stroke="#b9b9b9" stroke-width="1.25"/>
<path d="M389.9,429.4 389.9,429.4 390.3,430.0 390.6,430.7 391.0,431.4 391.4,432.1 391.8,432.7 392.3,433.3 392.9,433.9 393.5,434.5 394.2,435.0 394.9,435.5 395.6,435.8 396.3,436.0 397.0,436.0 397.6,435.9 398.3,435.6 399.0,435.3 399.6,434.8 400.3,434.3 401.0,433.7 401.7,433.0 402.4,432.3 403.1,431.4 403.7,430.5 404.3,429.4 404.3,429.4 M412.3,429.4 412.3,429.4 412.7,430.8 413.1,432.1 413.6,433.5 414.0,435.1 414.5,437.2 415.1,440.0 415.7,443.7 416.5,448.3 417.2,453.3 418.0,458.5 418.8,463.5 419.5,468.1 420.1,472.1 420.8,475.8 421.4,479.4 422.0,483.0 422.7,486.6 423.4,490.4 424.1,494.5 425.0,498.8 425.8,503.1 426.6,507.4 427.4,511.6 428.2,515.5 428.9,519.6 429.7,524.0 430.4,528.3 431.0,532.1 431.7,534.7 432.2,535.9 432.8,535.3 433.3,533.2 433.8,530.1 434.3,526.4 434.7,522.4 435.0,518.7 435.2,514.9 435.3,510.9 435.3,506.6 435.3,502.2 435.4,497.8 435.4,493.6 435.4,489.4 435.5,485.1 435.5,480.7 435.5,476.6 435.6,472.7 435.7,469.3 435.7,466.3 435.8,463.7 435.9,461.3 436.1,459.2 436.2,457.3 436.4,455.3 436.7,453.5 437.0,451.8 437.3,450.2 437.7,448.8 438.0,447.4 438.4,446.0 438.7,444.8 439.1,443.6 439.4,442.4 439.8,441.4 440.2,440.3 440.8,439.3 441.5,438.2 442.2,437.1 443.0,435.9 443.9,434.9 444.9,434.1 445.9,433.5 447.0,433.2 448.2,433.2 449.4,433.4 450.7,433.7 452.0,434.0 453.2,434.2 454.4,434.4 455.6,434.7 456.8,435.0 458.0,435.2 459.2,435.3 460.5,435.3 462.0,435.0 463.6,434.6 465.4,434.0 467.0,433.4 468.3,432.9 469.3,432.6" stroke="#b9b9b9" stroke-width="1.25"/>
<path d="M389.9,429.4 389.9,429.4 390.3,430.0 390.6,430.7 391.0,431.4 391.4,432.1 391.8,432.7 392.3,433.3 392.9,433.9 393.5,434.5 394.2,435.0 394.9,435.5 395.6,435.8 396.3,436.0 397.0,436.0 397.6,435.9 398.3,435.6 399.0,435.3 399.6,434.8 400.3,434.3 401.0,433.7 401.7,433.0 402.4,432.3 403.1,431.4 403.7,430.5 404.3,429.4 404.3,429.4 M412.3,429.4 412.3,429.4 412.7,430.8 413.1,432.1 413.6,433.5 414.0,435.1 414.5,437.2 415.1,440.0 415.7,443.7 416.5,448.3 417.2,453.3 418.0,458.5 418.7,463.5 419.4,468.0 420.1,472.0 420.7,475.7 421.2,479.3 421.8,482.8 422.4,486.3 423.0,490.0 423.6,493.8 424.2,497.8 424.9,501.8 425.5,505.8 426.1,509.6 426.7,513.3 427.2,517.0 427.8,521.0 428.3,524.8 428.8,528.2 429.3,530.5 429.7,531.5 430.2,530.8 430.7,528.7 431.2,525.7 431.6,522.2 432.1,518.4 432.4,514.8 432.7,511.3 432.9,507.6 433.0,503.6 433.2,499.5 433.3,495.5 433.5,491.6 433.7,487.6 433.9,483.5 434.1,479.5 434.3,475.6 434.5,471.9 434.8,468.6 435.0,465.8 435.2,463.3 435.4,461.0 435.6,459.0 435.8,457.0 436.1,455.2 436.4,453.4 436.8,451.7 437.1,450.2 437.5,448.7 437.9,447.3 438.3,446.0 438.7,444.7 439.1,443.6 439.4,442.4 439.8,441.4 440.2,440.3 440.8,439.3 441.5,438.2 442.2,437.1 443.0,435.9 443.9,434.9 444.9,434.1 445.9,433.5 447.0,433.2 448.2,433.2 449.4,433.4 450.7,433.7 452.0,434.0 453.2,434.2 454.4,434.4 455.6,434.7 456.8,435.0 458.0,435.2 459.2,435.3 460.5,435.3 462.0,435.0 463.6,434.6 465.4,434.0 467.0,433.4 468.3,432.9 469.3,432.6" stroke="#b9b9b9" stroke-width="1.25"/>
<path d="M389.9,429.4 389.9,429.4 390.3,430.0 390.6,430.7 391.0,431.4 391.4,432.1 391.8,432.7 392.3,433.3 392.9,433.9 393.5,434.5 394.2,435.0 394.9,435.5 395.6,435.8 396.3,436.0 397.0,436.0 397.6,435.9 398.3,435.6 399.0,435.3 399.6,434.8 400.3,434.3 401.0,433.7 401.7,433.0 402.4,432.3 403.1,431.4 403.7,430.5 404.3,429.4 404.3,429.4 M412.3,429.4 412.3,429.4 412.7,430.8 413.1,432.1 413.6,433.5 414.0,435.1 414.5,437.2 415.1,440.0 415.7,443.7 416.5,448.4 417.2,453.4 418.0,458.6 418.7,463.5 419.4,467.7 420.0,471.3 420.6,474.7 421.1,477.8 421.6,480.5 422.1,482.9 422.7,484.9 423.2,486.4 423.7,487.4 424.2,488.1 424.7,488.5 425.2,488.6 425.6,488.5 426.0,488.1 426.4,487.3 426.8,486.3 427.2,485.1 427.6,483.8 428.0,482.5 428.4,481.0 428.8,479.3 429.3,477.4 429.8,475.7 430.2,474.0 430.6,472.7 430.9,471.8 431.2,471.1 431.4,470.6 431.6,470.2 431.9,469.6 432.2,468.9 432.5,467.9 432.8,466.8 433.1,465.6 433.5,464.3 433.8,463.0 434.1,461.7 434.4,460.4 434.7,459.0 435.0,457.6 435.2,456.2 435.5,454.8 435.8,453.4 436.2,452.1 436.6,450.8 437.0,449.5 437.5,448.3 437.9,447.0 438.3,445.8 438.7,444.7 439.0,443.5 439.4,442.5 439.8,441.4 440.2,440.3 440.8,439.3 441.5,438.2 442.2,437.1 443.0,435.9 443.9,434.9 444.9,434.1 445.9,433.5 447.0,433.2 448.2,433.2 449.4,433.4 450.7,433.7 452.0,434.0 453.2,434.2 454.4,434.4 455.6,434.7 456.8,435.0 458.0,435.2 459.2,435.3 460.5,435.3 462.0,435.0 463.6,434.6 465.4,434.0 467.0,433.4 468.3,432.9 469.3,432.6" stroke="#b9b9b9" stroke-width="1.25"/>
<path d="M389.9,429.4 389.9,429.4 390.3,430.0 390.6,430.7 391.0,431.4 391.4,432.1 391.8,432.7 392.3,433.3 392.9,433.9 393.5,434.5 394.2,435.0 394.9,435.5 395.6,435.8 396.3,436.0 397.0,436.0 397.6,435.9 398.3,435.6 399.0,435.3 399.6,434.8 400.3,434.3 401.0,433.7 401.7,433.0 402.4,432.3 403.1,431.4 403.7,430.5 404.3,429.4 404.3,429.4 M412.3,429.4 412.3,429.4 412.7,430.8 413.1,432.1 413.6,433.5 414.0,435.1 414.5,437.2 415.1,440.0 415.7,443.7 416.5,448.3 417.2,453.3 418.0,458.5 418.7,463.5 419.5,468.0 420.1,472.0 420.7,475.6 421.3,479.2 421.9,482.6 422.5,486.0 423.1,489.5 423.8,493.1 424.5,496.9 425.3,500.6 426.0,504.2 426.7,507.7 427.3,511.0 428.0,514.4 428.6,517.9 429.2,521.3 429.7,524.2 430.3,526.2 430.8,527.0 431.3,526.2 431.8,524.2 432.3,521.3 432.8,517.9 433.2,514.4 433.5,511.0 433.7,507.7 433.9,504.2 434.0,500.6 434.1,496.9 434.2,493.1 434.3,489.5 434.5,485.8 434.6,482.0 434.7,478.2 434.8,474.5 435.0,471.1 435.1,468.0 435.3,465.3 435.4,462.9 435.6,460.7 435.8,458.7 436.0,456.8 436.2,455.0 436.5,453.2 436.9,451.6 437.2,450.1 437.6,448.7 438.0,447.3 438.4,446.0 438.7,444.7 439.1,443.6 439.4,442.5 439.8,441.4 440.2,440.3 440.8,439.3 441.5,438.2 442.2,437.1 443.0,435.9 443.9,434.9 444.9,434.1 445.9,433.5 447.0,433.2 448.2,433.2 449.4,433.4 450.7,433.7 452.0,434.0 453.2,434.2 454.4,434.4 455.6,434.7 456.8,435.0 458.0,435.2 459.2,435.3 460.5,435.3 462.0,435.0 463.6,434.6 465.4,434.0 467.0,433.4 468.3,432.9 469.3,432.6" stroke="#b9b9b9" stroke-width="1.25"/>
<path d="M389.9,431.0 390.4,431.1 391.8,431.1 393.4,431.2 395.0,431.3 396.6,431.4 398.0,431.5 399.2,431.5 400.3,431.3 401.4,431.2 402.4,431.1 403.4,431.4 404.4,432.0 405.3,433.1 406.2,434.6 407.1,436.3 408.0,438.2 408.8,440.1 409.7,442.0 410.6,444.1 411.5,446.6 412.5,449.1 413.4,451.4 414.3,453.1 415.1,454.0 415.9,453.8 416.6,452.9 417.3,451.3 418.0,449.5 418.7,447.6 419.4,446.0 420.1,444.5 420.8,442.9 421.5,441.3 422.3,439.7 423.0,438.3 423.7,437.0 424.4,435.9 425.0,434.9 425.6,434.0 426.3,433.3 427.1,432.6 428.0,432.0 429.1,431.5 430.4,431.2 431.7,430.9 433.1,430.7 434.6,430.6 436.0,430.5 437.4,430.5 438.7,430.5 440.1,430.6 441.5,430.7 443.1,430.9 445.0,431.0 447.3,431.1 450.1,431.3 453.1,431.5 455.9,431.7 458.3,431.9 460.0,432.0" stroke="#b9b9b9" stroke-width="1.25"/>
<path d="M389.9,431.5 390.7,431.5 392.3,431.5 394.2,431.6 396.3,431.6 398.3,431.8 400.0,432.0 401.5,432.3 402.9,432.7 404.3,433.2 405.6,433.7 406.8,434.3 408.0,435.0 409.1,435.9 410.2,437.0 411.2,438.2 412.2,439.4 413.1,440.4 414.0,441.0 414.8,441.3 415.5,441.4 416.1,441.2 416.7,441.0 417.4,440.5 418.0,440.0 418.6,439.3 419.3,438.3 419.9,437.1 420.5,436.0 421.2,434.9 422.0,434.0 422.8,433.3 423.6,432.7 424.5,432.1 425.5,431.7 426.6,431.3 428.0,431.0 429.8,430.8 432.0,430.8 434.4,430.8 436.7,430.9 438.6,431.0 440.0,431.0" stroke="#b9b9b9" stroke-width="1.25"/>
<path d="M440.0,431.0 441.9,431.1 444.5,431.3 447.6,431.5 450.8,431.7 453.7,432.1 456.0,432.5 457.6,433.1 458.8,433.7 459.7,434.5 460.5,435.3 461.2,436.1 462.0,437.0 462.8,437.9 463.6,438.8 464.3,439.8 465.0,440.8 465.8,441.9 466.7,443.0 467.7,444.4 468.7,446.0 469.8,447.6 471.0,449.1 472.1,450.3 473.2,450.8 474.3,450.6 475.3,449.9 476.3,448.8 477.4,447.4 478.4,446.1 479.6,445.0 480.8,444.0 482.0,443.0 483.2,442.0 484.5,441.1 486.0,440.1 487.5,439.2 489.2,438.3 491.1,437.4 493.1,436.5 495.1,435.7 497.1,435.0 499.0,434.4 500.8,434.0 502.4,433.7 504.0,433.5 505.7,433.3 507.7,433.2 510.0,433.0 512.7,432.8 515.6,432.6 518.8,432.4 522.3,432.2 526.0,432.1 530.0,432.0 534.3,432.0 538.9,432.1 543.8,432.2 548.9,432.3 554.3,432.4 560.0,432.5 566.1,432.6 572.6,432.6 579.4,432.7 586.3,432.8 593.2,432.9 600.0,433.0 606.6,433.1 613.2,433.3 619.8,433.5 626.4,433.7 633.2,433.9 640.0,434.0 647.5,434.1 655.7,434.1 664.0,434.1 671.7,434.0 678.3,434.0 683.0,434.0" stroke="#b9b9b9" stroke-width="1.25"/>
<path d="M480.0,432.0 483.4,432.0 488.1,432.1 493.8,432.2 499.6,432.2 505.2,432.4 510.0,432.5 514.0,432.7 517.8,432.8 521.2,433.0 524.4,433.2 527.4,433.5 530.0,434.0 532.2,434.5 534.1,435.0 535.6,435.6 537.1,436.4 538.5,437.5 540.0,439.0 541.7,441.3 543.4,444.5 545.1,448.0 546.7,451.3 548.3,453.9 549.7,455.3 551.0,455.3 552.1,454.4 553.1,452.7 554.1,450.7 555.0,448.7 556.0,447.0 557.0,445.5 558.0,444.0 559.0,442.5 559.9,441.0 560.8,439.7 561.7,438.5 562.4,437.5 562.9,436.5 563.3,435.7 563.9,435.0 564.7,434.4 566.0,434.0 567.7,433.7 569.8,433.4 572.2,433.3 574.8,433.3 577.4,433.5 580.0,434.0 582.7,434.9 585.6,436.2 588.5,437.7 591.5,439.1 594.2,440.3 596.7,440.9 598.8,440.9 600.7,440.4 602.4,439.7 604.1,438.8 605.8,438.0 607.6,437.3 609.4,436.7 611.0,436.2 612.6,435.6 614.5,435.2 616.9,434.8 620.0,434.5 623.9,434.4 628.6,434.4 633.7,434.5 639.1,434.7 644.6,434.9 650.0,435.0 655.7,435.1 662.0,435.2 668.4,435.3 674.3,435.4 679.4,435.4 683.0,435.5" stroke="#b9b9b9" stroke-width="1.25"/>
<path d="M470.0,433.0 472.2,433.0 475.2,433.0 478.8,432.9 482.6,432.9 486.4,432.9 490.0,433.0 493.4,433.0 496.9,432.9 500.3,432.9 503.7,433.0 507.0,433.3 510.0,434.0 512.8,435.1 515.4,436.5 517.8,438.2 520.2,440.1 522.6,442.0 525.0,444.0 527.6,446.0 530.2,448.2 532.8,450.5 535.4,452.8 537.8,455.0 540.0,457.2 541.9,459.2 543.7,461.1 545.3,462.9 546.8,464.8 548.2,466.9 549.7,469.2 551.2,471.9 552.7,475.0 554.1,478.2 555.5,481.4 556.9,484.5 558.1,487.3 559.2,489.6 560.1,491.5 561.0,493.3 561.8,495.1 562.8,497.3 564.0,500.0 565.4,503.3 567.0,507.2 568.7,511.3 570.5,515.6 572.2,519.9 574.0,524.0 575.8,528.1 577.7,532.3 579.7,536.5 581.6,540.6 583.3,544.4 584.8,547.8 585.6,550.0 M596.9,550.0 597.6,547.1 598.6,540.9 599.6,533.8 600.6,526.6 601.7,519.7 602.7,513.8 603.7,508.8 604.7,504.4 605.7,500.3 606.7,496.5 607.7,492.7 608.9,489.0 610.1,485.2 611.4,481.6 612.8,478.0 614.2,474.6 615.7,471.3 617.2,468.3 618.8,465.5 620.3,462.9 622.0,460.5 623.7,458.2 625.5,456.0 627.5,453.9 629.6,451.9 631.9,449.9 634.3,448.0 636.8,446.3 639.3,444.8 642.0,443.5 644.7,442.4 647.6,441.6 650.5,441.0 653.5,440.5 656.7,440.0 660.0,439.5 663.8,439.0 668.1,438.6 672.6,438.2 676.9,437.8 680.4,437.5 683.0,437.3" stroke="#b9b9b9" stroke-width="1.25"/>
<path d="M505.0,432.5 508.9,432.4 514.5,432.3 521.0,432.2 527.8,432.2 534.4,432.2 540.0,432.4 544.8,432.8 549.3,433.3 553.5,433.9 557.4,434.6 560.9,435.3 564.1,436.0 566.8,436.6 569.1,437.2 571.1,437.9 572.8,438.5 574.5,439.3 576.2,440.3 578.0,441.4 579.6,442.7 581.2,444.0 582.8,445.5 584.3,447.0 585.8,448.7 587.3,450.5 588.8,452.4 590.2,454.4 591.6,456.5 593.0,458.6 594.3,460.7 595.6,463.0 596.9,465.3 598.1,467.7 599.3,470.1 600.4,472.5 601.5,474.7 602.5,476.8 603.4,478.8 604.2,480.8 605.0,482.8 606.0,484.8 607.1,487.0 608.4,489.4 609.9,492.0 611.5,494.7 613.1,497.4 614.7,499.8 616.2,501.9 617.6,503.8 619.0,505.7 620.4,507.3 621.8,508.7 623.2,509.7 624.6,510.2 626.0,510.3 627.5,509.9 628.9,509.2 630.4,508.1 631.9,506.7 633.5,505.0 635.2,502.9 636.9,500.4 638.6,497.5 640.5,494.4 642.4,491.2 644.3,488.0 646.3,484.7 648.4,481.2 650.6,477.6 652.8,474.0 655.0,470.6 657.3,467.5 659.6,464.6 662.1,461.8 664.5,459.2 667.0,456.7 669.4,454.5 671.6,452.5 673.8,450.7 676.1,449.2 678.3,447.8 680.3,446.7 682.0,445.7 683.2,445.0" stroke="#b9b9b9" stroke-width="1.25"/>
<path d="M505.0,432.5 508.9,432.4 514.5,432.3 521.0,432.2 527.8,432.2 534.4,432.2 540.0,432.4 544.8,432.8 549.3,433.3 553.5,433.9 557.4,434.6 560.9,435.3 564.1,436.0 566.8,436.6 569.1,437.2 571.1,437.9 572.8,438.5 574.5,439.3 576.2,440.3 578.0,441.4 579.6,442.7 581.2,444.0 582.8,445.5 584.3,447.0 585.8,448.7 587.3,450.5 588.8,452.4 590.2,454.4 591.6,456.5 593.0,458.6 594.3,460.8 595.6,463.0 596.9,465.3 598.1,467.8 599.3,470.2 600.5,472.5 601.6,474.8 602.6,477.0 603.5,479.0 604.4,481.0 605.3,483.0 606.3,485.2 607.5,487.5 608.9,490.1 610.6,493.0 612.3,496.0 614.1,499.0 615.9,501.8 617.5,504.3 619.1,506.5 620.7,508.8 622.2,510.8 623.6,512.5 625.1,513.8 626.6,514.4 628.0,514.4 629.3,513.8 630.6,512.7 632.0,511.3 633.3,509.6 634.8,507.6 636.3,505.2 637.8,502.4 639.4,499.3 641.0,496.1 642.7,492.8 644.5,489.7 646.5,486.7 648.5,483.7 650.6,480.7 652.8,477.8 655.1,474.9 657.3,472.3 659.6,469.8 662.1,467.5 664.5,465.3 667.0,463.2 669.4,461.1 671.6,459.2 673.8,457.2 676.1,455.2 678.3,453.3 680.3,451.5 682.0,450.1 683.2,449.0" stroke="#b9b9b9" stroke-width="1.25"/>
<path d="M505.0,432.5 508.9,432.4 514.5,432.3 521.0,432.2 527.8,432.2 534.4,432.2 540.0,432.4 544.8,432.8 549.3,433.3 553.5,433.9 557.4,434.6 560.9,435.3 564.1,436.0 566.8,436.6 569.1,437.2 571.1,437.8 572.8,438.5 574.5,439.3 576.2,440.3 578.0,441.4 579.6,442.7 581.2,444.0 582.8,445.5 584.3,447.0 585.8,448.7 587.3,450.5 588.8,452.4 590.2,454.4 591.6,456.5 593.0,458.6 594.3,460.8 595.6,463.1 596.8,465.5 598.1,468.0 599.2,470.5 600.4,473.0 601.5,475.5 602.4,477.8 603.3,480.0 604.1,482.1 604.9,484.5 605.9,487.2 606.9,490.5 608.2,494.6 609.6,499.4 611.1,504.6 612.7,509.8 614.2,514.9 615.7,519.5 617.0,524.0 618.4,528.8 619.7,533.4 621.0,537.3 622.4,540.1 623.8,541.3 625.3,540.7 626.7,538.5 628.2,535.3 629.7,531.3 631.3,526.9 633.0,522.5 634.7,517.9 636.5,512.5 638.3,506.8 640.2,501.1 642.2,495.6 644.2,490.8 646.3,486.5 648.4,482.6 650.6,478.9 652.8,475.4 655.0,472.2 657.3,469.1 659.6,466.2 662.1,463.6 664.5,461.1 667.0,458.8 669.4,456.7 671.6,454.7 673.8,452.9 676.1,451.2 678.3,449.6 680.3,448.3 682.0,447.2 683.2,446.3" stroke="#b9b9b9" stroke-width="1.25"/>
<path d="M505.0,432.5 508.9,432.4 514.5,432.3 521.0,432.2 527.8,432.2 534.4,432.2 540.0,432.4 544.8,432.8 549.3,433.3 553.5,433.9 557.4,434.6 560.9,435.3 564.1,436.0 566.8,436.6 569.1,437.2 571.1,437.9 572.8,438.5 574.5,439.3 576.2,440.3 578.0,441.4 579.6,442.7 581.2,444.0 582.8,445.5 584.3,447.0 585.8,448.7 587.3,450.5 588.8,452.4 590.2,454.4 591.6,456.5 593.0,458.6 594.3,460.8 595.7,463.0 596.9,465.4 598.2,467.8 599.4,470.2 600.6,472.6 601.8,475.0 602.8,477.2 603.7,479.2 604.6,481.3 605.6,483.4 606.7,485.6 608.0,488.2 609.6,491.2 611.5,494.5 613.5,498.0 615.5,501.5 617.5,504.8 619.4,507.8 621.2,510.6 622.9,513.4 624.6,516.0 626.2,518.2 627.8,519.8 629.3,520.6 630.6,520.5 631.9,519.5 633.0,518.0 634.2,516.0 635.3,513.7 636.6,511.2 637.9,508.5 639.1,505.2 640.4,501.6 641.8,497.9 643.3,494.3 644.9,491.1 646.7,488.2 648.7,485.4 650.7,482.8 652.9,480.3 655.1,477.8 657.3,475.5 659.6,473.3 662.0,471.3 664.5,469.3 667.0,467.4 669.4,465.5 671.6,463.6 673.8,461.5 676.1,459.2 678.3,456.9 680.3,454.8 682.0,453.0 683.2,451.7" stroke="#b9b9b9" stroke-width="1.25"/>
<path d="M505.0,432.5 508.9,432.4 514.5,432.3 521.0,432.2 527.8,432.2 534.4,432.2 540.0,432.4 544.8,432.8 549.3,433.3 553.5,433.9 557.4,434.6 560.9,435.3 564.1,436.0 566.8,436.6 569.1,437.2 571.1,437.9 572.8,438.5 574.5,439.3 576.2,440.3 578.0,441.4 579.6,442.7 581.2,444.0 582.8,445.5 584.3,447.0 585.8,448.7 587.3,450.5 588.8,452.4 590.2,454.4 591.6,456.5 593.0,458.6 594.4,460.8 595.7,463.0 597.0,465.3 598.3,467.7 599.5,470.1 600.8,472.5 602.0,474.8 603.0,476.9 604.0,478.9 605.0,480.9 606.0,482.9 607.2,485.0 608.6,487.3 610.4,489.8 612.5,492.5 614.8,495.4 617.2,498.2 619.5,500.8 621.6,503.1 623.5,505.2 625.5,507.2 627.4,509.1 629.2,510.6 630.9,511.7 632.4,512.4 633.7,512.4 634.8,511.9 635.8,511.1 636.7,509.9 637.6,508.4 638.6,506.8 639.7,504.8 640.6,502.4 641.6,499.7 642.7,497.0 643.9,494.3 645.3,491.9 647.0,489.7 648.8,487.7 650.8,485.8 652.9,483.9 655.1,482.1 657.3,480.3 659.6,478.6 662.0,477.0 664.5,475.5 667.0,473.9 669.3,472.2 671.6,470.3 673.8,467.9 676.1,465.2 678.3,462.3 680.3,459.6 682.0,457.3 683.2,455.7" stroke="#b9b9b9" stroke-width="1.25"/>
<path d="M505.0,432.5 508.9,432.4 514.5,432.3 521.0,432.2 527.8,432.2 534.4,432.2 540.0,432.4 544.8,432.8 549.3,433.3 553.5,433.9 557.4,434.6 560.9,435.3 564.1,436.0 566.8,436.6 569.1,437.2 571.1,437.9 572.8,438.5 574.5,439.3 576.2,440.3 578.0,441.4 579.6,442.7 581.2,444.0 582.8,445.5 584.3,447.0 585.8,448.7 587.3,450.5 588.8,452.4 590.2,454.4 591.6,456.5 593.0,458.6 594.3,460.7 595.6,463.0 596.9,465.3 598.2,467.7 599.4,470.1 600.5,472.4 601.7,474.6 602.7,476.7 603.6,478.7 604.5,480.7 605.4,482.6 606.5,484.6 607.7,486.7 609.2,488.9 611.0,491.3 612.8,493.7 614.7,496.1 616.6,498.3 618.3,500.2 620.0,501.8 621.6,503.4 623.2,504.7 624.8,505.8 626.3,506.7 627.7,507.1 629.1,507.2 630.4,507.1 631.7,506.6 632.9,505.9 634.2,504.8 635.6,503.4 637.0,501.7 638.4,499.5 639.8,497.0 641.3,494.3 643.0,491.5 644.7,488.7 646.6,485.8 648.6,482.8 650.7,479.6 652.9,476.5 655.1,473.5 657.3,470.7 659.6,468.1 662.0,465.6 664.5,463.3 667.0,461.0 669.4,458.9 671.6,456.9 673.8,455.0 676.1,453.2 678.3,451.4 680.3,449.9 682.0,448.6 683.2,447.7" stroke="#b9b9b9" stroke-width="1.25"/>
<path d="M505.0,432.5 508.9,432.4 514.5,432.3 521.0,432.2 527.8,432.2 534.4,432.2 540.0,432.4 544.8,432.8 549.3,433.3 553.5,433.9 557.4,434.6 560.9,435.3 564.1,436.0 566.8,436.6 569.1,437.2 571.1,437.9 572.8,438.5 574.5,439.3 576.2,440.3 578.0,441.4 579.6,442.7 581.2,444.0 582.8,445.5 584.3,447.0 585.8,448.7 587.3,450.5 588.8,452.4 590.2,454.4 591.6,456.5 593.0,458.6 594.3,460.8 595.6,463.1 596.8,465.4 598.0,467.9 599.2,470.3 600.3,472.8 601.3,475.2 602.3,477.4 603.1,479.5 603.9,481.6 604.7,483.8 605.6,486.2 606.6,489.0 607.7,492.4 609.0,496.2 610.3,500.3 611.7,504.4 613.0,508.4 614.3,511.9 615.6,515.3 616.8,518.8 618.0,522.1 619.2,524.9 620.5,526.9 621.9,527.8 623.3,527.5 624.9,526.1 626.5,524.0 628.2,521.2 629.9,518.1 631.7,514.9 633.6,511.3 635.6,507.2 637.6,502.7 639.7,498.0 641.8,493.5 644.0,489.3 646.1,485.4 648.3,481.5 650.5,477.7 652.7,474.1 655.0,470.7 657.3,467.5 659.7,464.5 662.1,461.7 664.6,459.1 667.0,456.7 669.4,454.5 671.6,452.5 673.8,450.7 676.1,449.2 678.3,447.8 680.3,446.7 682.0,445.7 683.2,445.0" stroke="#b9b9b9" stroke-width="1.25"/>
<path d="M505.0,432.5 508.9,432.4 514.5,432.3 521.0,432.2 527.8,432.2 534.4,432.2 540.0,432.4 544.8,432.8 549.3,433.3 553.5,433.9 557.4,434.6 560.9,435.3 564.1,436.0 566.8,436.6 569.1,437.2 571.1,437.9 572.8,438.5 574.5,439.3 576.2,440.3 578.0,441.4 579.6,442.7 581.2,444.0 582.8,445.5 584.3,447.0 585.8,448.7 587.3,450.5 588.8,452.4 590.2,454.4 591.6,456.5 593.0,458.6 594.3,460.8 595.6,463.0 596.8,465.4 598.0,467.8 599.2,470.3 600.3,472.7 601.4,475.0 602.3,477.2 603.2,479.3 604.0,481.3 604.8,483.5 605.7,485.8 606.7,488.4 607.9,491.5 609.2,495.0 610.6,498.7 612.1,502.4 613.5,505.8 614.9,508.9 616.2,511.9 617.4,514.9 618.7,517.7 619.9,520.1 621.2,521.8 622.6,522.6 624.1,522.4 625.6,521.3 627.2,519.6 628.8,517.3 630.5,514.7 632.2,511.9 634.0,508.7 635.9,505.0 637.9,500.9 639.9,496.7 642.0,492.5 644.1,488.5 646.2,484.6 648.3,480.6 650.5,476.7 652.7,472.9 655.0,469.2 657.3,465.9 659.6,462.8 662.1,459.8 664.5,457.1 667.0,454.6 669.4,452.3 671.6,450.3 673.8,448.6 676.1,447.2 678.3,446.0 680.3,445.0 682.0,444.3 683.2,443.7" stroke="#b9b9b9" stroke-width="1.25"/>
<path d="M560.0,433.0 562.2,433.6 565.4,434.4 569.1,435.4 573.0,436.6 576.7,438.1 580.0,440.0 582.9,442.4 585.6,445.2 588.2,448.4 590.6,451.7 592.9,454.9 595.0,458.0 596.9,461.0 598.5,464.1 600.0,467.1 601.4,470.1 602.6,472.7 603.8,475.0 604.8,476.9 605.5,478.5 606.1,479.9 606.8,481.0 607.7,482.0 608.9,482.8 610.5,483.3 612.5,483.5 614.6,483.5 616.9,483.4 619.1,483.5 621.3,483.8 623.3,484.4 625.4,485.2 627.4,486.1 629.4,487.0 631.5,488.0 633.7,489.0 636.0,490.0 638.5,491.1 641.1,492.2 643.6,493.3 646.0,494.3 648.2,495.2 650.2,496.0 651.9,496.8 653.6,497.5 655.2,498.0 656.8,498.3 658.5,498.3 660.2,498.0 661.8,497.5 663.4,496.8 665.1,495.8 666.9,494.6 668.8,493.1 671.1,491.1 673.8,488.4 676.5,485.6 679.2,482.8 681.4,480.4 683.0,478.7" stroke="#b9b9b9" stroke-width="1.25"/>
<path d="M585.0,446.0 586.7,448.5 589.0,452.0 591.8,456.1 594.7,460.7 597.5,465.4 600.0,470.0 602.2,474.8 604.3,480.0 606.3,485.4 608.3,490.7 610.2,495.6 612.0,500.0 613.8,503.8 615.5,507.3 617.1,510.5 618.8,513.3 620.4,515.8 622.0,518.0 623.6,519.8 625.0,521.3 626.4,522.4 628.0,523.3 629.7,523.8 631.7,524.1 634.1,524.1 636.8,523.9 639.7,523.3 642.6,522.5 645.5,521.4 648.2,520.0 650.7,518.2 653.2,516.0 655.7,513.5 658.0,510.8 660.3,508.1 662.6,505.5 664.8,502.9 667.0,500.2 669.2,497.4 671.3,494.7 673.2,492.2 675.0,490.0 676.7,488.0 678.3,486.2 679.8,484.5 681.1,483.1 682.2,481.9 683.0,481.0" stroke="#b9b9b9" stroke-width="1.25"/>
<path d="M590.0,452.0 591.7,455.3 594.1,460.0 596.9,465.6 599.8,471.4 602.6,477.1 605.0,482.0 607.0,486.4 608.7,490.6 610.4,494.6 611.9,498.3 613.4,501.8 615.0,505.0 616.5,507.9 618.0,510.5 619.5,512.9 621.0,514.9 622.5,516.6 624.0,518.0 625.6,519.0 627.2,519.8 628.9,520.2 630.6,520.2 632.3,519.8 634.0,519.0 635.8,517.6 637.5,515.7 639.3,513.3 641.1,510.7 643.0,507.9 645.0,505.0 647.1,502.0 649.2,498.7 651.4,495.2 653.7,491.7 655.9,488.2 658.0,485.0 660.0,481.9 662.0,478.9 664.0,475.9 666.0,473.1 668.0,470.5 670.0,468.0 672.3,465.7 674.7,463.5 677.2,461.4 679.6,459.6 681.6,458.1 683.0,457.0" stroke="#b9b9b9" stroke-width="1.25"/>
<path d="M580.0,440.0 582.3,442.7 585.5,446.5 589.2,450.9 593.2,455.7 596.9,460.5 600.0,465.0 602.5,469.3 604.8,473.7 606.8,478.1 608.7,482.4 610.4,486.4 612.0,490.0 613.5,493.2 614.7,496.2 615.8,498.9 616.9,501.3 617.9,503.3 619.0,505.0 620.1,506.4 621.2,507.6 622.3,508.4 623.4,508.8 624.7,508.7 626.0,508.0 627.5,506.5 629.2,504.3 630.9,501.6 632.7,498.6 634.4,495.7 636.0,493.0 637.4,490.7 638.6,488.5 639.7,486.4 640.9,484.1 642.3,481.7 644.0,479.0 646.0,475.8 648.1,472.2 650.5,468.4 653.1,464.7 655.9,461.1 659.0,458.0 662.8,455.2 667.2,452.6 671.9,450.2 676.4,448.1 680.3,446.3 683.0,445.0" stroke="#b9b9b9" stroke-width="1.25"/>
<path d="M560.0,432.0 564.4,432.0 570.4,432.1 577.5,432.2 585.2,432.2 592.9,432.4 600.0,432.5 606.6,432.7 613.2,432.9 619.8,433.2 626.4,433.5 633.2,433.7 640.0,434.0 647.5,434.3 655.7,434.6 664.0,434.8 671.7,435.1 678.3,435.3 683.0,435.5" stroke="#b9b9b9" stroke-width="1.25"/>
<path d="M575.0,433.0 578.9,433.0 584.2,433.0 590.6,433.0 597.4,433.1 604.4,433.2 611.0,433.3 617.4,433.5 624.0,433.8 630.7,434.1 637.3,434.4 643.8,434.7 650.0,435.0 656.2,435.3 662.7,435.5 668.9,435.8 674.7,436.0 679.5,436.2 683.0,436.3" stroke="#b9b9b9" stroke-width="1.25"/>
<path d="M389.9,429.4 389.9,429.4 390.3,430.0 390.6,430.7 391.0,431.4 391.4,432.1 391.8,432.7 392.3,433.3 392.9,433.9 393.5,434.5 394.2,435.0 394.9,435.5 395.6,435.8 396.3,436.0 397.0,436.0 397.6,435.9 398.3,435.6 399.0,435.3 399.6,434.8 400.3,434.3 401.0,433.7 401.7,433.0 402.4,432.3 403.1,431.4 403.7,430.5 404.3,429.4 404.3,429.4 M412.3,429.4 412.3,429.4 412.7,430.8 413.1,432.1 413.6,433.5 414.0,435.1 414.5,437.2 415.1,440.0 415.7,443.7 416.5,448.3 417.2,453.3 418.0,458.5 418.7,463.5 419.4,468.0 420.0,472.0 420.6,475.6 421.1,479.2 421.6,482.6 422.1,486.0 422.6,489.5 423.1,493.1 423.6,496.9 424.1,500.6 424.5,504.2 425.0,507.7 425.4,511.0 425.8,514.4 426.2,517.9 426.5,521.3 426.9,524.2 427.2,526.2 427.6,527.0 428.0,526.2 428.5,524.2 428.9,521.3 429.4,517.9 429.8,514.4 430.2,511.0 430.5,507.7 430.8,504.2 431.1,500.6 431.3,496.9 431.6,493.1 431.9,489.5 432.2,485.8 432.6,482.0 432.9,478.2 433.3,474.5 433.7,471.1 434.0,468.0 434.3,465.3 434.6,462.9 434.9,460.7 435.2,458.7 435.5,456.8 435.8,455.0 436.2,453.2 436.6,451.6 437.0,450.1 437.4,448.7 437.9,447.3 438.3,446.0 438.7,444.7 439.0,443.6 439.4,442.5 439.8,441.4 440.2,440.3 440.8,439.3 441.5,438.2 442.2,437.1 443.1,435.9 443.9,434.9 444.9,434.1 445.9,433.5 447.0,433.2 448.2,433.2 449.4,433.4 450.7,433.7 452.0,434.0 453.2,434.2 454.4,434.4 455.6,434.7 456.8,435.0 458.0,435.2 459.2,435.3 460.5,435.3 461.6,435.0 462.3,434.6 463.1,434.0 464.3,433.4 466.3,432.9 469.3,432.6 473.7,432.4 479.2,432.4 485.5,432.4 492.2,432.4 498.8,432.5 505.0,432.5 511.0,432.4 517.1,432.3 523.2,432.2 529.2,432.2 534.8,432.2 540.0,432.4 544.8,432.8 549.3,433.3 553.5,433.9 557.4,434.6 560.9,435.3 564.1,436.0 566.8,436.6 569.1,437.2 571.1,437.9 572.8,438.5 574.5,439.3 576.2,440.3 578.0,441.4 579.6,442.7 581.2,444.0 582.8,445.5 584.3,447.0 585.8,448.7 587.3,450.5 588.8,452.4 590.2,454.4 591.6,456.5 593.0,458.6 594.3,460.8 595.6,463.1 596.9,465.5 598.1,467.9 599.3,470.4 600.4,472.9 601.5,475.3 602.5,477.6 603.4,479.7 604.2,481.8 605.0,484.0 606.0,486.6 607.1,489.6 608.4,493.3 609.9,497.5 611.5,502.0 613.1,506.5 614.7,510.9 616.2,514.8 617.6,518.6 619.0,522.6 620.4,526.4 621.8,529.7 623.2,532.0 624.6,533.0 626.0,532.5 627.5,530.9 628.9,528.3 630.4,525.1 631.9,521.5 633.5,517.8 635.2,513.8 636.9,509.2 638.6,504.2 640.5,499.1 642.4,494.2 644.3,489.7 646.3,485.6 648.4,481.6 650.6,477.8 652.8,474.1 655.0,470.7 657.3,467.5 659.6,464.5 662.1,461.7 664.5,459.1 667.0,456.7 669.4,454.5 671.6,452.5 673.8,450.7 676.1,449.2 678.3,447.8 680.3,446.7 682.0,445.7 683.2,445.0" stroke="#0000ff" stroke-width="3.4" stroke-linecap="butt"/>
<path d="M425.11,489.70H429.02 M605.06,489.70H644.18" stroke="#ff0000" stroke-width="3" stroke-linecap="butt"/>
</g>
<path d="M409.46,550.00v-2.5 M409.46,429.40v2.5 M487.70,550.00v-2.5 M487.70,429.40v2.5 M565.94,550.00v-2.5 M565.94,429.40v2.5 M644.18,550.00v-2.5 M644.18,429.40v2.5 M389.90,489.70h2.5 M683.30,489.70h-2.5" stroke="#404040" stroke-width="1"/>
<rect x="389.90" y="429.40" width="293.40" height="120.60" fill="none" stroke="#555" stroke-width="1.8" stroke-linejoin="round"/>
<text x="382.4" y="436.00" text-anchor="end" font-size="19.5" fill="#3d3d3d">0</text>
<text x="382.4" y="496.30" text-anchor="end" font-size="19.5" fill="#3d3d3d">-10</text>
<text x="382.4" y="556.60" text-anchor="end" font-size="19.5" fill="#3d3d3d">-20</text>
<text x="409.46" y="575.00" text-anchor="middle" font-size="19.5" fill="#3d3d3d">2</text>
<text x="487.70" y="575.00" text-anchor="middle" font-size="19.5" fill="#3d3d3d">4</text>
<text x="565.94" y="575.00" text-anchor="middle" font-size="19.5" fill="#3d3d3d">6</text>
<text x="644.18" y="575.00" text-anchor="middle" font-size="19.5" fill="#3d3d3d">8</text>
<text x="538.00" y="599.30" text-anchor="middle" font-size="21" fill="#3d3d3d">Frequency [GHz]</text>
<g transform="translate(339.2,490.30) rotate(-90)"><text x="0" y="0" text-anchor="middle" font-size="21" fill="#3d3d3d"><tspan fill="#c8c8c8">|</tspan><tspan dx="0.6" font-style="italic">S</tspan><tspan font-size="16.5" dx="1.0" dy="8.8">11</tspan><tspan dx="0.4" dy="-8.8" fill="#c8c8c8">|</tspan> [dB]</text></g>
</svg></body></html>
